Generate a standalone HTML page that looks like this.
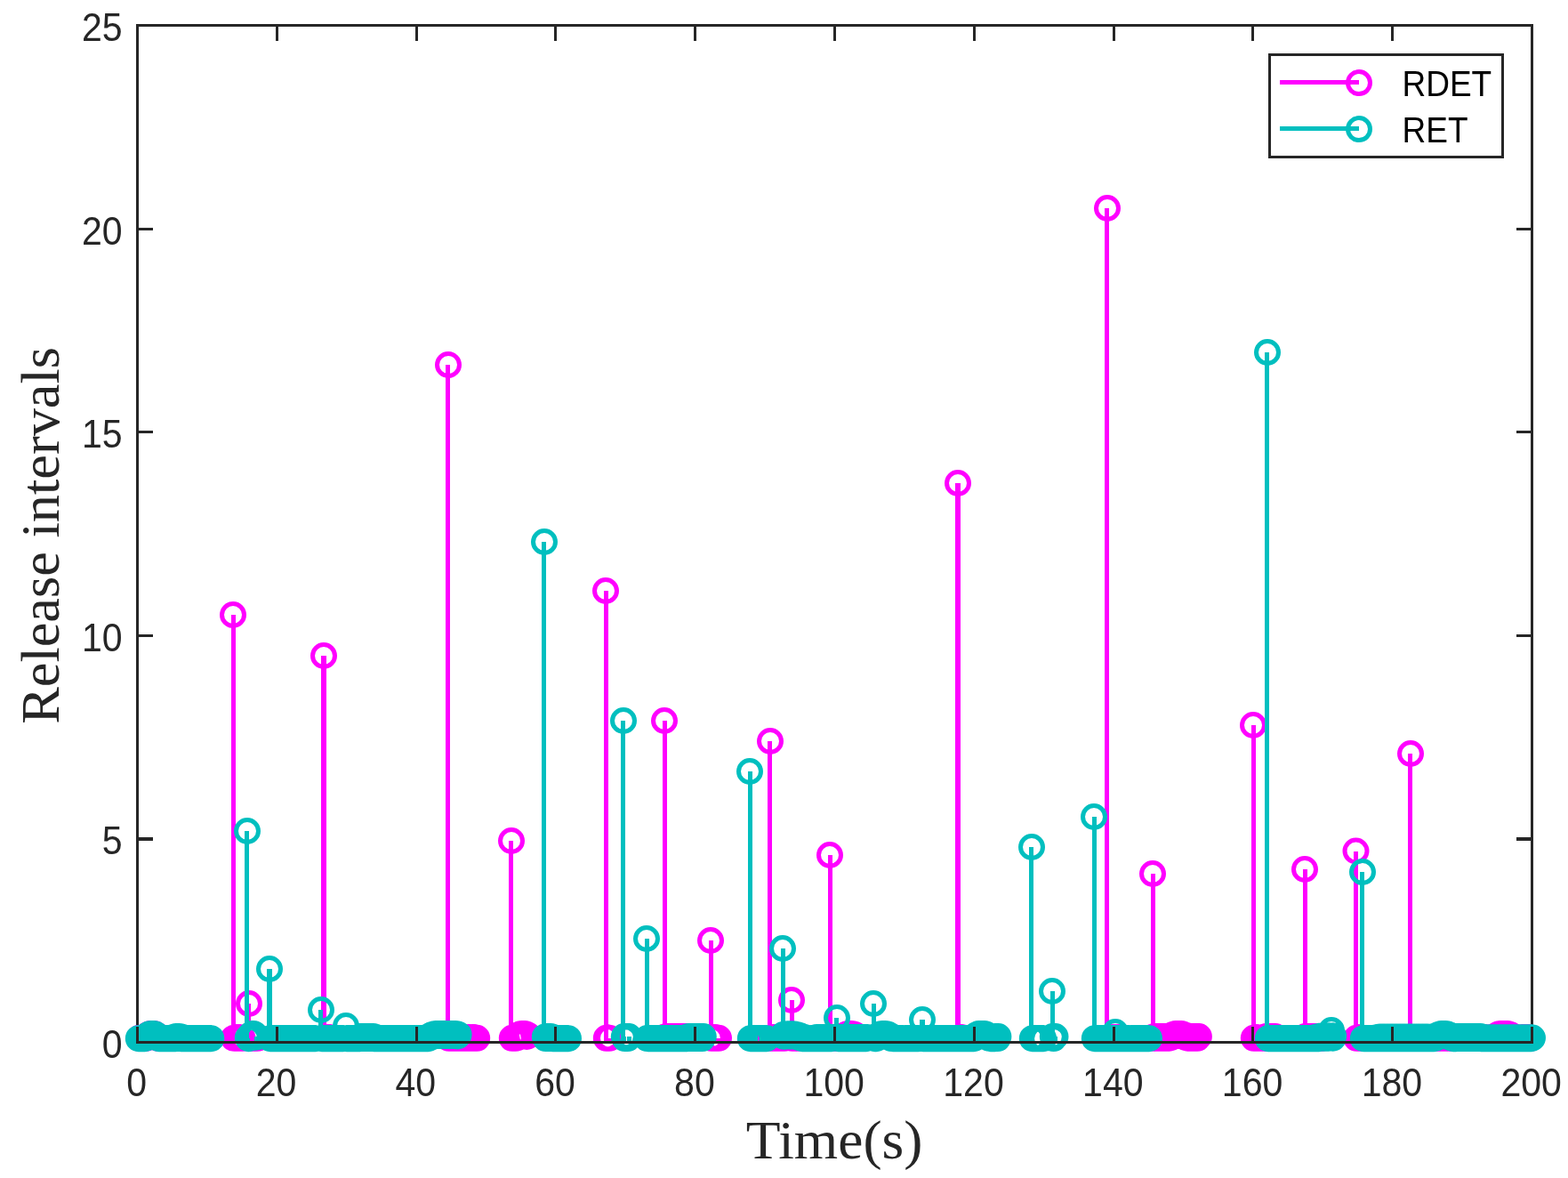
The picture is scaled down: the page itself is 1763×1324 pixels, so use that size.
<!DOCTYPE html>
<html lang="en">
<head>
<meta charset="utf-8">
<title>Release intervals</title>
<style>
html,body{margin:0;padding:0;background:#fff;}
body{width:1763px;height:1324px;overflow:hidden;}
svg{display:block;}
</style>
</head>
<body>
<svg width="1763" height="1324" viewBox="0 0 1763 1324">
<rect x="0" y="0" width="1763" height="1324" fill="#fff"/>
<g stroke="#262626" stroke-width="3" fill="none" shape-rendering="crispEdges"><rect x="154.5" y="28.4" width="1568.0" height="1143.1"/><path d="M154.5 28.4v17.5M311.3 28.4v17.5M468.1 28.4v17.5M624.9 28.4v17.5M781.7 28.4v17.5M938.5 28.4v17.5M1095.3 28.4v17.5M1252.1 28.4v17.5M1408.9 28.4v17.5M1565.7 28.4v17.5M1722.5 28.4v17.5M1722.5 1171.5h-17.5M1722.5 714.3h-17.5M1722.5 485.6h-17.5M1722.5 257h-17.5M1722.5 28.4h-17.5"/><path d="M1722.5 943h-17.5" stroke-width="4"/></g>
<g id="rdet"><path d="M156.5 1171.5V1167.2M179.5 1171.5V1166M262.5 1171.5V691M262.5 1171.5V1167.2M272.5 1171.5V1167.2M279.5 1171.5V1128M280.5 1171.5V1167.2M289.5 1171.5V1167.2M364.5 1171.5V1167.2M373.5 1171.5V1167.2M503.5 1171.5V410M504.5 1171.5V1167.2M536.5 1171.5V1167.2M574.5 1171.5V945M575.5 1171.5V1167.1M593.5 1171.5V1163.8M681.5 1171.5V664M681.5 1171.5V1167.2M685.5 1171.5V1167.2M747.5 1171.5V810M747.5 1171.5V1165.4M779.5 1171.5V1165M799.5 1171.5V1057M799.5 1171.5V1167.2M807.5 1171.5V1167.2M865.5 1171.5V833M866.5 1171.5V1167.2M881.5 1171.5V1167.2M890.5 1171.5V1124M890.5 1171.5V1167.2M896.5 1171.5V1167.2M933.5 1171.5V961M933.5 1171.5V1167.2M969.5 1171.5V1167.1M1077.5 1171.5V1167.2M1084.5 1171.5V1167.2M1244.5 1171.5V234M1245.5 1171.5V1167.2M1263.5 1171.5V1167.2M1296.5 1171.5V982M1296.5 1171.5V1165.4M1347.5 1171.5V1165M1409.5 1171.5V815M1409.5 1171.5V1167.2M1433.5 1171.5V1165M1467.5 1171.5V977M1467.5 1171.5V1165M1487.5 1171.5V1165M1524.5 1171.5V956.5M1525.5 1171.5V1167.2M1530.5 1171.5V1167.2M1585.5 1171.5V847M1586.5 1171.5V1167.2M1721.5 1171.5V1167.2" stroke="#ff00ff" stroke-width="5" fill="none" shape-rendering="crispEdges"/>
<path d="M364 1171.5V737M1077 1171.5V543" stroke="#ff00ff" stroke-width="6" fill="none" shape-rendering="crispEdges"/>
<path d="M144.3 1166.8a12.5 12.5 0 1 0 25 0a12.5 12.5 0 1 0 -25 0M145.1 1166.8a12.5 12.5 0 1 0 25 0a12.5 12.5 0 1 0 -25 0M145.9 1166.8a12.5 12.5 0 1 0 25 0a12.5 12.5 0 1 0 -25 0M146.7 1166.8a12.5 12.5 0 1 0 25 0a12.5 12.5 0 1 0 -25 0M147.4 1166.8a12.5 12.5 0 1 0 25 0a12.5 12.5 0 1 0 -25 0M148.2 1166.8a12.5 12.5 0 1 0 25 0a12.5 12.5 0 1 0 -25 0M149 1166.5a12.5 12.5 0 1 0 25 0a12.5 12.5 0 1 0 -25 0M149.8 1166.8a12.5 12.5 0 1 0 25 0a12.5 12.5 0 1 0 -25 0M150.6 1165.6a12.5 12.5 0 1 0 25 0a12.5 12.5 0 1 0 -25 0M151.4 1166.8a12.5 12.5 0 1 0 25 0a12.5 12.5 0 1 0 -25 0M152.1 1164.4a12.5 12.5 0 1 0 25 0a12.5 12.5 0 1 0 -25 0M152.9 1165.9a12.5 12.5 0 1 0 25 0a12.5 12.5 0 1 0 -25 0M153.7 1163.3a12.5 12.5 0 1 0 25 0a12.5 12.5 0 1 0 -25 0M154.5 1164.9a12.5 12.5 0 1 0 25 0a12.5 12.5 0 1 0 -25 0M155.3 1162.4a12.5 12.5 0 1 0 25 0a12.5 12.5 0 1 0 -25 0M156.1 1164.2a12.5 12.5 0 1 0 25 0a12.5 12.5 0 1 0 -25 0M156.8 1161.9a12.5 12.5 0 1 0 25 0a12.5 12.5 0 1 0 -25 0M157.6 1164a12.5 12.5 0 1 0 25 0a12.5 12.5 0 1 0 -25 0M158.4 1161.9a12.5 12.5 0 1 0 25 0a12.5 12.5 0 1 0 -25 0M159.2 1164a12.5 12.5 0 1 0 25 0a12.5 12.5 0 1 0 -25 0M160 1161.9a12.5 12.5 0 1 0 25 0a12.5 12.5 0 1 0 -25 0M160.8 1164.1a12.5 12.5 0 1 0 25 0a12.5 12.5 0 1 0 -25 0M161.5 1162.3a12.5 12.5 0 1 0 25 0a12.5 12.5 0 1 0 -25 0M162.3 1164.8a12.5 12.5 0 1 0 25 0a12.5 12.5 0 1 0 -25 0M163.1 1163.2a12.5 12.5 0 1 0 25 0a12.5 12.5 0 1 0 -25 0M163.9 1165.8a12.5 12.5 0 1 0 25 0a12.5 12.5 0 1 0 -25 0M164.7 1164.3a12.5 12.5 0 1 0 25 0a12.5 12.5 0 1 0 -25 0M165.5 1166.8a12.5 12.5 0 1 0 25 0a12.5 12.5 0 1 0 -25 0M166.3 1165.4a12.5 12.5 0 1 0 25 0a12.5 12.5 0 1 0 -25 0M167.1 1166a12.5 12.5 0 1 0 25 0a12.5 12.5 0 1 0 -25 0M249.5 691a12.5 12.5 0 1 0 25 0a12.5 12.5 0 1 0 -25 0M250.3 1166.8a12.5 12.5 0 1 0 25 0a12.5 12.5 0 1 0 -25 0M251.1 1166.8a12.5 12.5 0 1 0 25 0a12.5 12.5 0 1 0 -25 0M251.9 1166.8a12.5 12.5 0 1 0 25 0a12.5 12.5 0 1 0 -25 0M252.7 1166.8a12.5 12.5 0 1 0 25 0a12.5 12.5 0 1 0 -25 0M253.4 1166.8a12.5 12.5 0 1 0 25 0a12.5 12.5 0 1 0 -25 0M254.2 1166.8a12.5 12.5 0 1 0 25 0a12.5 12.5 0 1 0 -25 0M255 1166.8a12.5 12.5 0 1 0 25 0a12.5 12.5 0 1 0 -25 0M255.8 1166.8a12.5 12.5 0 1 0 25 0a12.5 12.5 0 1 0 -25 0M256.6 1166.8a12.5 12.5 0 1 0 25 0a12.5 12.5 0 1 0 -25 0M257.4 1166.8a12.5 12.5 0 1 0 25 0a12.5 12.5 0 1 0 -25 0M258.1 1166.8a12.5 12.5 0 1 0 25 0a12.5 12.5 0 1 0 -25 0M258.9 1166.8a12.5 12.5 0 1 0 25 0a12.5 12.5 0 1 0 -25 0M260 1166.8a12.5 12.5 0 1 0 25 0a12.5 12.5 0 1 0 -25 0M267.5 1128a12.5 12.5 0 1 0 25 0a12.5 12.5 0 1 0 -25 0M268.3 1166.8a12.5 12.5 0 1 0 25 0a12.5 12.5 0 1 0 -25 0M269.1 1166.8a12.5 12.5 0 1 0 25 0a12.5 12.5 0 1 0 -25 0M269.9 1166.8a12.5 12.5 0 1 0 25 0a12.5 12.5 0 1 0 -25 0M270.7 1166.8a12.5 12.5 0 1 0 25 0a12.5 12.5 0 1 0 -25 0M271.4 1166.8a12.5 12.5 0 1 0 25 0a12.5 12.5 0 1 0 -25 0M272.2 1166.8a12.5 12.5 0 1 0 25 0a12.5 12.5 0 1 0 -25 0M273 1166.8a12.5 12.5 0 1 0 25 0a12.5 12.5 0 1 0 -25 0M273.8 1166.8a12.5 12.5 0 1 0 25 0a12.5 12.5 0 1 0 -25 0M274.6 1166.8a12.5 12.5 0 1 0 25 0a12.5 12.5 0 1 0 -25 0M275.4 1166.8a12.5 12.5 0 1 0 25 0a12.5 12.5 0 1 0 -25 0M276.1 1166.8a12.5 12.5 0 1 0 25 0a12.5 12.5 0 1 0 -25 0M277 1166.8a12.5 12.5 0 1 0 25 0a12.5 12.5 0 1 0 -25 0M351.5 737a12.5 12.5 0 1 0 25 0a12.5 12.5 0 1 0 -25 0M352.3 1166.8a12.5 12.5 0 1 0 25 0a12.5 12.5 0 1 0 -25 0M353.1 1166.8a12.5 12.5 0 1 0 25 0a12.5 12.5 0 1 0 -25 0M353.9 1166.8a12.5 12.5 0 1 0 25 0a12.5 12.5 0 1 0 -25 0M354.7 1166.8a12.5 12.5 0 1 0 25 0a12.5 12.5 0 1 0 -25 0M355.4 1166.8a12.5 12.5 0 1 0 25 0a12.5 12.5 0 1 0 -25 0M356.2 1166.8a12.5 12.5 0 1 0 25 0a12.5 12.5 0 1 0 -25 0M357 1166.8a12.5 12.5 0 1 0 25 0a12.5 12.5 0 1 0 -25 0M357.8 1166.8a12.5 12.5 0 1 0 25 0a12.5 12.5 0 1 0 -25 0M358.6 1166.8a12.5 12.5 0 1 0 25 0a12.5 12.5 0 1 0 -25 0M359.4 1166.8a12.5 12.5 0 1 0 25 0a12.5 12.5 0 1 0 -25 0M360.1 1166.8a12.5 12.5 0 1 0 25 0a12.5 12.5 0 1 0 -25 0M360.9 1166.8a12.5 12.5 0 1 0 25 0a12.5 12.5 0 1 0 -25 0M491.5 410a12.5 12.5 0 1 0 25 0a12.5 12.5 0 1 0 -25 0M492.3 1166.8a12.5 12.5 0 1 0 25 0a12.5 12.5 0 1 0 -25 0M493.1 1166.8a12.5 12.5 0 1 0 25 0a12.5 12.5 0 1 0 -25 0M493.9 1166.8a12.5 12.5 0 1 0 25 0a12.5 12.5 0 1 0 -25 0M494.7 1166.8a12.5 12.5 0 1 0 25 0a12.5 12.5 0 1 0 -25 0M495.4 1166.8a12.5 12.5 0 1 0 25 0a12.5 12.5 0 1 0 -25 0M496.2 1166.8a12.5 12.5 0 1 0 25 0a12.5 12.5 0 1 0 -25 0M497 1166.8a12.5 12.5 0 1 0 25 0a12.5 12.5 0 1 0 -25 0M497.8 1166.8a12.5 12.5 0 1 0 25 0a12.5 12.5 0 1 0 -25 0M498.6 1166.8a12.5 12.5 0 1 0 25 0a12.5 12.5 0 1 0 -25 0M499.4 1166.8a12.5 12.5 0 1 0 25 0a12.5 12.5 0 1 0 -25 0M500.1 1166.8a12.5 12.5 0 1 0 25 0a12.5 12.5 0 1 0 -25 0M500.9 1166.8a12.5 12.5 0 1 0 25 0a12.5 12.5 0 1 0 -25 0M501.7 1166.8a12.5 12.5 0 1 0 25 0a12.5 12.5 0 1 0 -25 0M502.5 1166.8a12.5 12.5 0 1 0 25 0a12.5 12.5 0 1 0 -25 0M503.3 1166.8a12.5 12.5 0 1 0 25 0a12.5 12.5 0 1 0 -25 0M504.1 1166.8a12.5 12.5 0 1 0 25 0a12.5 12.5 0 1 0 -25 0M504.8 1166.8a12.5 12.5 0 1 0 25 0a12.5 12.5 0 1 0 -25 0M505.6 1166.8a12.5 12.5 0 1 0 25 0a12.5 12.5 0 1 0 -25 0M506.4 1166.8a12.5 12.5 0 1 0 25 0a12.5 12.5 0 1 0 -25 0M507.2 1166.8a12.5 12.5 0 1 0 25 0a12.5 12.5 0 1 0 -25 0M508 1166.8a12.5 12.5 0 1 0 25 0a12.5 12.5 0 1 0 -25 0M508.8 1166.8a12.5 12.5 0 1 0 25 0a12.5 12.5 0 1 0 -25 0M509.5 1166.8a12.5 12.5 0 1 0 25 0a12.5 12.5 0 1 0 -25 0M510.3 1166.8a12.5 12.5 0 1 0 25 0a12.5 12.5 0 1 0 -25 0M511.1 1166.8a12.5 12.5 0 1 0 25 0a12.5 12.5 0 1 0 -25 0M511.9 1166.8a12.5 12.5 0 1 0 25 0a12.5 12.5 0 1 0 -25 0M512.7 1166.8a12.5 12.5 0 1 0 25 0a12.5 12.5 0 1 0 -25 0M513.5 1166.8a12.5 12.5 0 1 0 25 0a12.5 12.5 0 1 0 -25 0M514.3 1166.8a12.5 12.5 0 1 0 25 0a12.5 12.5 0 1 0 -25 0M515 1166.8a12.5 12.5 0 1 0 25 0a12.5 12.5 0 1 0 -25 0M515.8 1166.8a12.5 12.5 0 1 0 25 0a12.5 12.5 0 1 0 -25 0M516.6 1166.8a12.5 12.5 0 1 0 25 0a12.5 12.5 0 1 0 -25 0M517.4 1166.8a12.5 12.5 0 1 0 25 0a12.5 12.5 0 1 0 -25 0M518.2 1166.8a12.5 12.5 0 1 0 25 0a12.5 12.5 0 1 0 -25 0M519 1166.8a12.5 12.5 0 1 0 25 0a12.5 12.5 0 1 0 -25 0M519.7 1166.8a12.5 12.5 0 1 0 25 0a12.5 12.5 0 1 0 -25 0M520.5 1166.8a12.5 12.5 0 1 0 25 0a12.5 12.5 0 1 0 -25 0M521.3 1166.8a12.5 12.5 0 1 0 25 0a12.5 12.5 0 1 0 -25 0M522.1 1166.8a12.5 12.5 0 1 0 25 0a12.5 12.5 0 1 0 -25 0M522.9 1166.8a12.5 12.5 0 1 0 25 0a12.5 12.5 0 1 0 -25 0M523.7 1166.8a12.5 12.5 0 1 0 25 0a12.5 12.5 0 1 0 -25 0M562.5 945a12.5 12.5 0 1 0 25 0a12.5 12.5 0 1 0 -25 0M563.3 1166.8a12.5 12.5 0 1 0 25 0a12.5 12.5 0 1 0 -25 0M564.1 1166.8a12.5 12.5 0 1 0 25 0a12.5 12.5 0 1 0 -25 0M564.9 1166.7a12.5 12.5 0 1 0 25 0a12.5 12.5 0 1 0 -25 0M565.7 1166.8a12.5 12.5 0 1 0 25 0a12.5 12.5 0 1 0 -25 0M566.4 1165.9a12.5 12.5 0 1 0 25 0a12.5 12.5 0 1 0 -25 0M567.2 1166.8a12.5 12.5 0 1 0 25 0a12.5 12.5 0 1 0 -25 0M568 1164.9a12.5 12.5 0 1 0 25 0a12.5 12.5 0 1 0 -25 0M568.8 1166.4a12.5 12.5 0 1 0 25 0a12.5 12.5 0 1 0 -25 0M569.6 1163.8a12.5 12.5 0 1 0 25 0a12.5 12.5 0 1 0 -25 0M570.4 1165.4a12.5 12.5 0 1 0 25 0a12.5 12.5 0 1 0 -25 0M571.1 1162.9a12.5 12.5 0 1 0 25 0a12.5 12.5 0 1 0 -25 0M571.9 1164.5a12.5 12.5 0 1 0 25 0a12.5 12.5 0 1 0 -25 0M572.7 1162.2a12.5 12.5 0 1 0 25 0a12.5 12.5 0 1 0 -25 0M573.5 1164a12.5 12.5 0 1 0 25 0a12.5 12.5 0 1 0 -25 0M574.3 1161.9a12.5 12.5 0 1 0 25 0a12.5 12.5 0 1 0 -25 0M575.1 1164a12.5 12.5 0 1 0 25 0a12.5 12.5 0 1 0 -25 0M575.8 1161.9a12.5 12.5 0 1 0 25 0a12.5 12.5 0 1 0 -25 0M576.6 1164a12.5 12.5 0 1 0 25 0a12.5 12.5 0 1 0 -25 0M577.4 1162a12.5 12.5 0 1 0 25 0a12.5 12.5 0 1 0 -25 0M578.2 1164.2a12.5 12.5 0 1 0 25 0a12.5 12.5 0 1 0 -25 0M579 1162.4a12.5 12.5 0 1 0 25 0a12.5 12.5 0 1 0 -25 0M579.8 1164.9a12.5 12.5 0 1 0 25 0a12.5 12.5 0 1 0 -25 0M580.5 1163.2a12.5 12.5 0 1 0 25 0a12.5 12.5 0 1 0 -25 0M581.5 1163.8a12.5 12.5 0 1 0 25 0a12.5 12.5 0 1 0 -25 0M668.5 664a12.5 12.5 0 1 0 25 0a12.5 12.5 0 1 0 -25 0M669.3 1166.8a12.5 12.5 0 1 0 25 0a12.5 12.5 0 1 0 -25 0M670.1 1166.8a12.5 12.5 0 1 0 25 0a12.5 12.5 0 1 0 -25 0M670.9 1166.8a12.5 12.5 0 1 0 25 0a12.5 12.5 0 1 0 -25 0M671.7 1166.8a12.5 12.5 0 1 0 25 0a12.5 12.5 0 1 0 -25 0M672.5 1166.8a12.5 12.5 0 1 0 25 0a12.5 12.5 0 1 0 -25 0M734.5 810a12.5 12.5 0 1 0 25 0a12.5 12.5 0 1 0 -25 0M735.3 1165.4a12.5 12.5 0 1 0 25 0a12.5 12.5 0 1 0 -25 0M736.1 1166.8a12.5 12.5 0 1 0 25 0a12.5 12.5 0 1 0 -25 0M736.9 1165a12.5 12.5 0 1 0 25 0a12.5 12.5 0 1 0 -25 0M737.7 1166.8a12.5 12.5 0 1 0 25 0a12.5 12.5 0 1 0 -25 0M738.4 1165a12.5 12.5 0 1 0 25 0a12.5 12.5 0 1 0 -25 0M739.2 1166.8a12.5 12.5 0 1 0 25 0a12.5 12.5 0 1 0 -25 0M740 1165a12.5 12.5 0 1 0 25 0a12.5 12.5 0 1 0 -25 0M740.8 1166.8a12.5 12.5 0 1 0 25 0a12.5 12.5 0 1 0 -25 0M741.6 1165a12.5 12.5 0 1 0 25 0a12.5 12.5 0 1 0 -25 0M742.4 1166.8a12.5 12.5 0 1 0 25 0a12.5 12.5 0 1 0 -25 0M743.1 1165a12.5 12.5 0 1 0 25 0a12.5 12.5 0 1 0 -25 0M743.9 1166.8a12.5 12.5 0 1 0 25 0a12.5 12.5 0 1 0 -25 0M744.7 1165a12.5 12.5 0 1 0 25 0a12.5 12.5 0 1 0 -25 0M745.5 1166.8a12.5 12.5 0 1 0 25 0a12.5 12.5 0 1 0 -25 0M746.3 1165a12.5 12.5 0 1 0 25 0a12.5 12.5 0 1 0 -25 0M747.1 1166.8a12.5 12.5 0 1 0 25 0a12.5 12.5 0 1 0 -25 0M747.8 1165a12.5 12.5 0 1 0 25 0a12.5 12.5 0 1 0 -25 0M748.6 1166.8a12.5 12.5 0 1 0 25 0a12.5 12.5 0 1 0 -25 0M749.4 1165a12.5 12.5 0 1 0 25 0a12.5 12.5 0 1 0 -25 0M750.2 1166.8a12.5 12.5 0 1 0 25 0a12.5 12.5 0 1 0 -25 0M751 1165a12.5 12.5 0 1 0 25 0a12.5 12.5 0 1 0 -25 0M751.8 1166.8a12.5 12.5 0 1 0 25 0a12.5 12.5 0 1 0 -25 0M752.5 1165a12.5 12.5 0 1 0 25 0a12.5 12.5 0 1 0 -25 0M753.3 1166.8a12.5 12.5 0 1 0 25 0a12.5 12.5 0 1 0 -25 0M754.1 1165a12.5 12.5 0 1 0 25 0a12.5 12.5 0 1 0 -25 0M754.9 1166.8a12.5 12.5 0 1 0 25 0a12.5 12.5 0 1 0 -25 0M755.7 1165a12.5 12.5 0 1 0 25 0a12.5 12.5 0 1 0 -25 0M756.5 1166.8a12.5 12.5 0 1 0 25 0a12.5 12.5 0 1 0 -25 0M757.3 1165a12.5 12.5 0 1 0 25 0a12.5 12.5 0 1 0 -25 0M758 1166.8a12.5 12.5 0 1 0 25 0a12.5 12.5 0 1 0 -25 0M758.8 1165a12.5 12.5 0 1 0 25 0a12.5 12.5 0 1 0 -25 0M759.6 1166.8a12.5 12.5 0 1 0 25 0a12.5 12.5 0 1 0 -25 0M760.4 1165a12.5 12.5 0 1 0 25 0a12.5 12.5 0 1 0 -25 0M761.2 1166.8a12.5 12.5 0 1 0 25 0a12.5 12.5 0 1 0 -25 0M762 1165a12.5 12.5 0 1 0 25 0a12.5 12.5 0 1 0 -25 0M762.7 1166.8a12.5 12.5 0 1 0 25 0a12.5 12.5 0 1 0 -25 0M763.5 1165a12.5 12.5 0 1 0 25 0a12.5 12.5 0 1 0 -25 0M764.3 1166.8a12.5 12.5 0 1 0 25 0a12.5 12.5 0 1 0 -25 0M765.1 1165a12.5 12.5 0 1 0 25 0a12.5 12.5 0 1 0 -25 0M765.9 1166.8a12.5 12.5 0 1 0 25 0a12.5 12.5 0 1 0 -25 0M766.9 1165a12.5 12.5 0 1 0 25 0a12.5 12.5 0 1 0 -25 0M786.5 1057a12.5 12.5 0 1 0 25 0a12.5 12.5 0 1 0 -25 0M787.3 1166.8a12.5 12.5 0 1 0 25 0a12.5 12.5 0 1 0 -25 0M788.1 1166.8a12.5 12.5 0 1 0 25 0a12.5 12.5 0 1 0 -25 0M788.9 1166.8a12.5 12.5 0 1 0 25 0a12.5 12.5 0 1 0 -25 0M789.7 1166.8a12.5 12.5 0 1 0 25 0a12.5 12.5 0 1 0 -25 0M790.4 1166.8a12.5 12.5 0 1 0 25 0a12.5 12.5 0 1 0 -25 0M791.2 1166.8a12.5 12.5 0 1 0 25 0a12.5 12.5 0 1 0 -25 0M792 1166.8a12.5 12.5 0 1 0 25 0a12.5 12.5 0 1 0 -25 0M792.8 1166.8a12.5 12.5 0 1 0 25 0a12.5 12.5 0 1 0 -25 0M793.6 1166.8a12.5 12.5 0 1 0 25 0a12.5 12.5 0 1 0 -25 0M794.4 1166.8a12.5 12.5 0 1 0 25 0a12.5 12.5 0 1 0 -25 0M795.5 1166.8a12.5 12.5 0 1 0 25 0a12.5 12.5 0 1 0 -25 0M853.5 833a12.5 12.5 0 1 0 25 0a12.5 12.5 0 1 0 -25 0M854.3 1166.8a12.5 12.5 0 1 0 25 0a12.5 12.5 0 1 0 -25 0M855.1 1166.8a12.5 12.5 0 1 0 25 0a12.5 12.5 0 1 0 -25 0M855.9 1166.8a12.5 12.5 0 1 0 25 0a12.5 12.5 0 1 0 -25 0M856.7 1166.8a12.5 12.5 0 1 0 25 0a12.5 12.5 0 1 0 -25 0M857.4 1166.8a12.5 12.5 0 1 0 25 0a12.5 12.5 0 1 0 -25 0M858.2 1166.8a12.5 12.5 0 1 0 25 0a12.5 12.5 0 1 0 -25 0M859 1166.8a12.5 12.5 0 1 0 25 0a12.5 12.5 0 1 0 -25 0M859.8 1166.8a12.5 12.5 0 1 0 25 0a12.5 12.5 0 1 0 -25 0M860.6 1166.8a12.5 12.5 0 1 0 25 0a12.5 12.5 0 1 0 -25 0M861.4 1166.8a12.5 12.5 0 1 0 25 0a12.5 12.5 0 1 0 -25 0M862.1 1166.8a12.5 12.5 0 1 0 25 0a12.5 12.5 0 1 0 -25 0M862.9 1166.8a12.5 12.5 0 1 0 25 0a12.5 12.5 0 1 0 -25 0M863.7 1166.8a12.5 12.5 0 1 0 25 0a12.5 12.5 0 1 0 -25 0M864.5 1166.8a12.5 12.5 0 1 0 25 0a12.5 12.5 0 1 0 -25 0M865.3 1166.8a12.5 12.5 0 1 0 25 0a12.5 12.5 0 1 0 -25 0M866.1 1166.8a12.5 12.5 0 1 0 25 0a12.5 12.5 0 1 0 -25 0M866.8 1166.8a12.5 12.5 0 1 0 25 0a12.5 12.5 0 1 0 -25 0M867.6 1166.8a12.5 12.5 0 1 0 25 0a12.5 12.5 0 1 0 -25 0M868.4 1166.8a12.5 12.5 0 1 0 25 0a12.5 12.5 0 1 0 -25 0M869.4 1166.8a12.5 12.5 0 1 0 25 0a12.5 12.5 0 1 0 -25 0M877.5 1124a12.5 12.5 0 1 0 25 0a12.5 12.5 0 1 0 -25 0M878.3 1166.8a12.5 12.5 0 1 0 25 0a12.5 12.5 0 1 0 -25 0M879.1 1166.8a12.5 12.5 0 1 0 25 0a12.5 12.5 0 1 0 -25 0M879.9 1166.8a12.5 12.5 0 1 0 25 0a12.5 12.5 0 1 0 -25 0M880.7 1166.8a12.5 12.5 0 1 0 25 0a12.5 12.5 0 1 0 -25 0M881.4 1166.8a12.5 12.5 0 1 0 25 0a12.5 12.5 0 1 0 -25 0M882.2 1166.8a12.5 12.5 0 1 0 25 0a12.5 12.5 0 1 0 -25 0M883 1166.8a12.5 12.5 0 1 0 25 0a12.5 12.5 0 1 0 -25 0M883.8 1166.8a12.5 12.5 0 1 0 25 0a12.5 12.5 0 1 0 -25 0M884.4 1166.8a12.5 12.5 0 1 0 25 0a12.5 12.5 0 1 0 -25 0M920.5 961a12.5 12.5 0 1 0 25 0a12.5 12.5 0 1 0 -25 0M921.3 1166.8a12.5 12.5 0 1 0 25 0a12.5 12.5 0 1 0 -25 0M922.1 1166.8a12.5 12.5 0 1 0 25 0a12.5 12.5 0 1 0 -25 0M922.9 1166.8a12.5 12.5 0 1 0 25 0a12.5 12.5 0 1 0 -25 0M923.7 1166.8a12.5 12.5 0 1 0 25 0a12.5 12.5 0 1 0 -25 0M924.4 1166.8a12.5 12.5 0 1 0 25 0a12.5 12.5 0 1 0 -25 0M925.2 1166.8a12.5 12.5 0 1 0 25 0a12.5 12.5 0 1 0 -25 0M926 1166.8a12.5 12.5 0 1 0 25 0a12.5 12.5 0 1 0 -25 0M926.8 1166.8a12.5 12.5 0 1 0 25 0a12.5 12.5 0 1 0 -25 0M927.6 1166.8a12.5 12.5 0 1 0 25 0a12.5 12.5 0 1 0 -25 0M928.4 1166.8a12.5 12.5 0 1 0 25 0a12.5 12.5 0 1 0 -25 0M929.1 1166.8a12.5 12.5 0 1 0 25 0a12.5 12.5 0 1 0 -25 0M929.9 1166.8a12.5 12.5 0 1 0 25 0a12.5 12.5 0 1 0 -25 0M930.7 1166.8a12.5 12.5 0 1 0 25 0a12.5 12.5 0 1 0 -25 0M931.5 1166.8a12.5 12.5 0 1 0 25 0a12.5 12.5 0 1 0 -25 0M932.3 1166.6a12.5 12.5 0 1 0 25 0a12.5 12.5 0 1 0 -25 0M933.1 1166.8a12.5 12.5 0 1 0 25 0a12.5 12.5 0 1 0 -25 0M933.8 1165.8a12.5 12.5 0 1 0 25 0a12.5 12.5 0 1 0 -25 0M934.6 1166.8a12.5 12.5 0 1 0 25 0a12.5 12.5 0 1 0 -25 0M935.4 1164.9a12.5 12.5 0 1 0 25 0a12.5 12.5 0 1 0 -25 0M936.2 1166.5a12.5 12.5 0 1 0 25 0a12.5 12.5 0 1 0 -25 0M937 1163.9a12.5 12.5 0 1 0 25 0a12.5 12.5 0 1 0 -25 0M937.8 1165.5a12.5 12.5 0 1 0 25 0a12.5 12.5 0 1 0 -25 0M938.5 1163a12.5 12.5 0 1 0 25 0a12.5 12.5 0 1 0 -25 0M939.3 1164.7a12.5 12.5 0 1 0 25 0a12.5 12.5 0 1 0 -25 0M940.1 1162.3a12.5 12.5 0 1 0 25 0a12.5 12.5 0 1 0 -25 0M940.9 1164.1a12.5 12.5 0 1 0 25 0a12.5 12.5 0 1 0 -25 0M941.7 1161.9a12.5 12.5 0 1 0 25 0a12.5 12.5 0 1 0 -25 0M942.5 1164a12.5 12.5 0 1 0 25 0a12.5 12.5 0 1 0 -25 0M943.3 1161.9a12.5 12.5 0 1 0 25 0a12.5 12.5 0 1 0 -25 0M944 1164a12.5 12.5 0 1 0 25 0a12.5 12.5 0 1 0 -25 0M944.8 1161.9a12.5 12.5 0 1 0 25 0a12.5 12.5 0 1 0 -25 0M945.6 1164a12.5 12.5 0 1 0 25 0a12.5 12.5 0 1 0 -25 0M946.4 1162.2a12.5 12.5 0 1 0 25 0a12.5 12.5 0 1 0 -25 0M947.2 1164.5a12.5 12.5 0 1 0 25 0a12.5 12.5 0 1 0 -25 0M948 1162.8a12.5 12.5 0 1 0 25 0a12.5 12.5 0 1 0 -25 0M948.7 1165.2a12.5 12.5 0 1 0 25 0a12.5 12.5 0 1 0 -25 0M949.5 1163.6a12.5 12.5 0 1 0 25 0a12.5 12.5 0 1 0 -25 0M950.3 1166.1a12.5 12.5 0 1 0 25 0a12.5 12.5 0 1 0 -25 0M951.1 1164.6a12.5 12.5 0 1 0 25 0a12.5 12.5 0 1 0 -25 0M951.9 1166.8a12.5 12.5 0 1 0 25 0a12.5 12.5 0 1 0 -25 0M952.7 1165.6a12.5 12.5 0 1 0 25 0a12.5 12.5 0 1 0 -25 0M953.4 1166.8a12.5 12.5 0 1 0 25 0a12.5 12.5 0 1 0 -25 0M954.2 1166.4a12.5 12.5 0 1 0 25 0a12.5 12.5 0 1 0 -25 0M955 1166.8a12.5 12.5 0 1 0 25 0a12.5 12.5 0 1 0 -25 0M955.8 1166.8a12.5 12.5 0 1 0 25 0a12.5 12.5 0 1 0 -25 0M956.7 1166.8a12.5 12.5 0 1 0 25 0a12.5 12.5 0 1 0 -25 0M1064.5 543a12.5 12.5 0 1 0 25 0a12.5 12.5 0 1 0 -25 0M1065.3 1166.8a12.5 12.5 0 1 0 25 0a12.5 12.5 0 1 0 -25 0M1066.1 1166.8a12.5 12.5 0 1 0 25 0a12.5 12.5 0 1 0 -25 0M1066.9 1166.8a12.5 12.5 0 1 0 25 0a12.5 12.5 0 1 0 -25 0M1067.7 1166.8a12.5 12.5 0 1 0 25 0a12.5 12.5 0 1 0 -25 0M1068.4 1166.8a12.5 12.5 0 1 0 25 0a12.5 12.5 0 1 0 -25 0M1069.2 1166.8a12.5 12.5 0 1 0 25 0a12.5 12.5 0 1 0 -25 0M1070 1166.8a12.5 12.5 0 1 0 25 0a12.5 12.5 0 1 0 -25 0M1070.8 1166.8a12.5 12.5 0 1 0 25 0a12.5 12.5 0 1 0 -25 0M1071.8 1166.8a12.5 12.5 0 1 0 25 0a12.5 12.5 0 1 0 -25 0M1232.5 234a12.5 12.5 0 1 0 25 0a12.5 12.5 0 1 0 -25 0M1233.3 1166.8a12.5 12.5 0 1 0 25 0a12.5 12.5 0 1 0 -25 0M1234.1 1166.8a12.5 12.5 0 1 0 25 0a12.5 12.5 0 1 0 -25 0M1234.9 1166.8a12.5 12.5 0 1 0 25 0a12.5 12.5 0 1 0 -25 0M1235.7 1166.8a12.5 12.5 0 1 0 25 0a12.5 12.5 0 1 0 -25 0M1236.4 1166.8a12.5 12.5 0 1 0 25 0a12.5 12.5 0 1 0 -25 0M1237.2 1166.8a12.5 12.5 0 1 0 25 0a12.5 12.5 0 1 0 -25 0M1238 1166.8a12.5 12.5 0 1 0 25 0a12.5 12.5 0 1 0 -25 0M1238.8 1166.8a12.5 12.5 0 1 0 25 0a12.5 12.5 0 1 0 -25 0M1239.6 1166.8a12.5 12.5 0 1 0 25 0a12.5 12.5 0 1 0 -25 0M1240.4 1166.8a12.5 12.5 0 1 0 25 0a12.5 12.5 0 1 0 -25 0M1241.1 1166.8a12.5 12.5 0 1 0 25 0a12.5 12.5 0 1 0 -25 0M1241.9 1166.8a12.5 12.5 0 1 0 25 0a12.5 12.5 0 1 0 -25 0M1242.7 1166.8a12.5 12.5 0 1 0 25 0a12.5 12.5 0 1 0 -25 0M1243.5 1166.8a12.5 12.5 0 1 0 25 0a12.5 12.5 0 1 0 -25 0M1244.3 1166.8a12.5 12.5 0 1 0 25 0a12.5 12.5 0 1 0 -25 0M1245.1 1166.8a12.5 12.5 0 1 0 25 0a12.5 12.5 0 1 0 -25 0M1245.8 1166.8a12.5 12.5 0 1 0 25 0a12.5 12.5 0 1 0 -25 0M1246.6 1166.8a12.5 12.5 0 1 0 25 0a12.5 12.5 0 1 0 -25 0M1247.4 1166.8a12.5 12.5 0 1 0 25 0a12.5 12.5 0 1 0 -25 0M1248.2 1166.8a12.5 12.5 0 1 0 25 0a12.5 12.5 0 1 0 -25 0M1249 1166.8a12.5 12.5 0 1 0 25 0a12.5 12.5 0 1 0 -25 0M1249.8 1166.8a12.5 12.5 0 1 0 25 0a12.5 12.5 0 1 0 -25 0M1250.5 1166.8a12.5 12.5 0 1 0 25 0a12.5 12.5 0 1 0 -25 0M1251 1166.8a12.5 12.5 0 1 0 25 0a12.5 12.5 0 1 0 -25 0M1283.5 982a12.5 12.5 0 1 0 25 0a12.5 12.5 0 1 0 -25 0M1284.3 1165.4a12.5 12.5 0 1 0 25 0a12.5 12.5 0 1 0 -25 0M1285.1 1166.8a12.5 12.5 0 1 0 25 0a12.5 12.5 0 1 0 -25 0M1285.9 1165a12.5 12.5 0 1 0 25 0a12.5 12.5 0 1 0 -25 0M1286.7 1166.8a12.5 12.5 0 1 0 25 0a12.5 12.5 0 1 0 -25 0M1287.4 1165a12.5 12.5 0 1 0 25 0a12.5 12.5 0 1 0 -25 0M1288.2 1166.8a12.5 12.5 0 1 0 25 0a12.5 12.5 0 1 0 -25 0M1289 1165a12.5 12.5 0 1 0 25 0a12.5 12.5 0 1 0 -25 0M1289.8 1166.8a12.5 12.5 0 1 0 25 0a12.5 12.5 0 1 0 -25 0M1290.6 1165a12.5 12.5 0 1 0 25 0a12.5 12.5 0 1 0 -25 0M1291.4 1166.8a12.5 12.5 0 1 0 25 0a12.5 12.5 0 1 0 -25 0M1292.1 1165a12.5 12.5 0 1 0 25 0a12.5 12.5 0 1 0 -25 0M1292.9 1166.8a12.5 12.5 0 1 0 25 0a12.5 12.5 0 1 0 -25 0M1293.7 1165a12.5 12.5 0 1 0 25 0a12.5 12.5 0 1 0 -25 0M1294.5 1166.8a12.5 12.5 0 1 0 25 0a12.5 12.5 0 1 0 -25 0M1295.3 1165a12.5 12.5 0 1 0 25 0a12.5 12.5 0 1 0 -25 0M1296.1 1166.8a12.5 12.5 0 1 0 25 0a12.5 12.5 0 1 0 -25 0M1296.8 1165a12.5 12.5 0 1 0 25 0a12.5 12.5 0 1 0 -25 0M1297.6 1166.8a12.5 12.5 0 1 0 25 0a12.5 12.5 0 1 0 -25 0M1298.4 1165a12.5 12.5 0 1 0 25 0a12.5 12.5 0 1 0 -25 0M1299.2 1166.8a12.5 12.5 0 1 0 25 0a12.5 12.5 0 1 0 -25 0M1300 1165a12.5 12.5 0 1 0 25 0a12.5 12.5 0 1 0 -25 0M1300.8 1166.8a12.5 12.5 0 1 0 25 0a12.5 12.5 0 1 0 -25 0M1301.5 1164.8a12.5 12.5 0 1 0 25 0a12.5 12.5 0 1 0 -25 0M1302.3 1166.7a12.5 12.5 0 1 0 25 0a12.5 12.5 0 1 0 -25 0M1303.1 1164.4a12.5 12.5 0 1 0 25 0a12.5 12.5 0 1 0 -25 0M1303.9 1166.1a12.5 12.5 0 1 0 25 0a12.5 12.5 0 1 0 -25 0M1304.7 1163.8a12.5 12.5 0 1 0 25 0a12.5 12.5 0 1 0 -25 0M1305.5 1165.5a12.5 12.5 0 1 0 25 0a12.5 12.5 0 1 0 -25 0M1306.3 1163.1a12.5 12.5 0 1 0 25 0a12.5 12.5 0 1 0 -25 0M1307 1164.9a12.5 12.5 0 1 0 25 0a12.5 12.5 0 1 0 -25 0M1307.8 1162.6a12.5 12.5 0 1 0 25 0a12.5 12.5 0 1 0 -25 0M1308.6 1164.4a12.5 12.5 0 1 0 25 0a12.5 12.5 0 1 0 -25 0M1309.4 1162.1a12.5 12.5 0 1 0 25 0a12.5 12.5 0 1 0 -25 0M1310.2 1164a12.5 12.5 0 1 0 25 0a12.5 12.5 0 1 0 -25 0M1311 1161.9a12.5 12.5 0 1 0 25 0a12.5 12.5 0 1 0 -25 0M1311.7 1164a12.5 12.5 0 1 0 25 0a12.5 12.5 0 1 0 -25 0M1312.5 1161.9a12.5 12.5 0 1 0 25 0a12.5 12.5 0 1 0 -25 0M1313.3 1164a12.5 12.5 0 1 0 25 0a12.5 12.5 0 1 0 -25 0M1314.1 1161.9a12.5 12.5 0 1 0 25 0a12.5 12.5 0 1 0 -25 0M1314.9 1164.1a12.5 12.5 0 1 0 25 0a12.5 12.5 0 1 0 -25 0M1315.7 1162.1a12.5 12.5 0 1 0 25 0a12.5 12.5 0 1 0 -25 0M1316.4 1164.4a12.5 12.5 0 1 0 25 0a12.5 12.5 0 1 0 -25 0M1317.2 1162.6a12.5 12.5 0 1 0 25 0a12.5 12.5 0 1 0 -25 0M1318 1164.9a12.5 12.5 0 1 0 25 0a12.5 12.5 0 1 0 -25 0M1318.8 1163.2a12.5 12.5 0 1 0 25 0a12.5 12.5 0 1 0 -25 0M1319.6 1165.5a12.5 12.5 0 1 0 25 0a12.5 12.5 0 1 0 -25 0M1320.4 1163.8a12.5 12.5 0 1 0 25 0a12.5 12.5 0 1 0 -25 0M1321.1 1166.2a12.5 12.5 0 1 0 25 0a12.5 12.5 0 1 0 -25 0M1321.9 1164.4a12.5 12.5 0 1 0 25 0a12.5 12.5 0 1 0 -25 0M1322.7 1166.7a12.5 12.5 0 1 0 25 0a12.5 12.5 0 1 0 -25 0M1323.5 1164.8a12.5 12.5 0 1 0 25 0a12.5 12.5 0 1 0 -25 0M1324.3 1166.8a12.5 12.5 0 1 0 25 0a12.5 12.5 0 1 0 -25 0M1325.1 1165a12.5 12.5 0 1 0 25 0a12.5 12.5 0 1 0 -25 0M1325.9 1166.8a12.5 12.5 0 1 0 25 0a12.5 12.5 0 1 0 -25 0M1326.6 1165a12.5 12.5 0 1 0 25 0a12.5 12.5 0 1 0 -25 0M1327.4 1166.8a12.5 12.5 0 1 0 25 0a12.5 12.5 0 1 0 -25 0M1328.2 1165a12.5 12.5 0 1 0 25 0a12.5 12.5 0 1 0 -25 0M1329 1166.8a12.5 12.5 0 1 0 25 0a12.5 12.5 0 1 0 -25 0M1329.8 1165a12.5 12.5 0 1 0 25 0a12.5 12.5 0 1 0 -25 0M1330.6 1166.8a12.5 12.5 0 1 0 25 0a12.5 12.5 0 1 0 -25 0M1331.3 1165a12.5 12.5 0 1 0 25 0a12.5 12.5 0 1 0 -25 0M1332.1 1166.8a12.5 12.5 0 1 0 25 0a12.5 12.5 0 1 0 -25 0M1332.9 1165a12.5 12.5 0 1 0 25 0a12.5 12.5 0 1 0 -25 0M1333.7 1166.8a12.5 12.5 0 1 0 25 0a12.5 12.5 0 1 0 -25 0M1334.5 1165a12.5 12.5 0 1 0 25 0a12.5 12.5 0 1 0 -25 0M1335.4 1165a12.5 12.5 0 1 0 25 0a12.5 12.5 0 1 0 -25 0M1396.5 815a12.5 12.5 0 1 0 25 0a12.5 12.5 0 1 0 -25 0M1397.3 1166.8a12.5 12.5 0 1 0 25 0a12.5 12.5 0 1 0 -25 0M1398.1 1166.8a12.5 12.5 0 1 0 25 0a12.5 12.5 0 1 0 -25 0M1398.9 1166.8a12.5 12.5 0 1 0 25 0a12.5 12.5 0 1 0 -25 0M1399.7 1166.8a12.5 12.5 0 1 0 25 0a12.5 12.5 0 1 0 -25 0M1400.4 1166.8a12.5 12.5 0 1 0 25 0a12.5 12.5 0 1 0 -25 0M1401.2 1166.8a12.5 12.5 0 1 0 25 0a12.5 12.5 0 1 0 -25 0M1402 1166.8a12.5 12.5 0 1 0 25 0a12.5 12.5 0 1 0 -25 0M1402.8 1166.8a12.5 12.5 0 1 0 25 0a12.5 12.5 0 1 0 -25 0M1403.6 1166.8a12.5 12.5 0 1 0 25 0a12.5 12.5 0 1 0 -25 0M1404.4 1166.8a12.5 12.5 0 1 0 25 0a12.5 12.5 0 1 0 -25 0M1405.1 1166.8a12.5 12.5 0 1 0 25 0a12.5 12.5 0 1 0 -25 0M1405.9 1166.8a12.5 12.5 0 1 0 25 0a12.5 12.5 0 1 0 -25 0M1406.7 1166.8a12.5 12.5 0 1 0 25 0a12.5 12.5 0 1 0 -25 0M1407.5 1166.8a12.5 12.5 0 1 0 25 0a12.5 12.5 0 1 0 -25 0M1408.3 1166.7a12.5 12.5 0 1 0 25 0a12.5 12.5 0 1 0 -25 0M1409.1 1166.8a12.5 12.5 0 1 0 25 0a12.5 12.5 0 1 0 -25 0M1409.8 1165.9a12.5 12.5 0 1 0 25 0a12.5 12.5 0 1 0 -25 0M1410.6 1166.8a12.5 12.5 0 1 0 25 0a12.5 12.5 0 1 0 -25 0M1411.4 1165.1a12.5 12.5 0 1 0 25 0a12.5 12.5 0 1 0 -25 0M1412.2 1166.8a12.5 12.5 0 1 0 25 0a12.5 12.5 0 1 0 -25 0M1413 1165a12.5 12.5 0 1 0 25 0a12.5 12.5 0 1 0 -25 0M1413.8 1166.8a12.5 12.5 0 1 0 25 0a12.5 12.5 0 1 0 -25 0M1414.5 1165a12.5 12.5 0 1 0 25 0a12.5 12.5 0 1 0 -25 0M1415.3 1166.8a12.5 12.5 0 1 0 25 0a12.5 12.5 0 1 0 -25 0M1416.1 1165a12.5 12.5 0 1 0 25 0a12.5 12.5 0 1 0 -25 0M1416.9 1166.8a12.5 12.5 0 1 0 25 0a12.5 12.5 0 1 0 -25 0M1417.7 1165a12.5 12.5 0 1 0 25 0a12.5 12.5 0 1 0 -25 0M1418.5 1166.8a12.5 12.5 0 1 0 25 0a12.5 12.5 0 1 0 -25 0M1419.3 1165a12.5 12.5 0 1 0 25 0a12.5 12.5 0 1 0 -25 0M1420 1166.8a12.5 12.5 0 1 0 25 0a12.5 12.5 0 1 0 -25 0M1421.2 1165a12.5 12.5 0 1 0 25 0a12.5 12.5 0 1 0 -25 0M1454.5 977a12.5 12.5 0 1 0 25 0a12.5 12.5 0 1 0 -25 0M1455.3 1165a12.5 12.5 0 1 0 25 0a12.5 12.5 0 1 0 -25 0M1456.1 1166.8a12.5 12.5 0 1 0 25 0a12.5 12.5 0 1 0 -25 0M1456.9 1165a12.5 12.5 0 1 0 25 0a12.5 12.5 0 1 0 -25 0M1457.7 1166.8a12.5 12.5 0 1 0 25 0a12.5 12.5 0 1 0 -25 0M1458.4 1165a12.5 12.5 0 1 0 25 0a12.5 12.5 0 1 0 -25 0M1459.2 1166.8a12.5 12.5 0 1 0 25 0a12.5 12.5 0 1 0 -25 0M1460 1165a12.5 12.5 0 1 0 25 0a12.5 12.5 0 1 0 -25 0M1460.8 1166.8a12.5 12.5 0 1 0 25 0a12.5 12.5 0 1 0 -25 0M1461.6 1165a12.5 12.5 0 1 0 25 0a12.5 12.5 0 1 0 -25 0M1462.4 1166.8a12.5 12.5 0 1 0 25 0a12.5 12.5 0 1 0 -25 0M1463.1 1165a12.5 12.5 0 1 0 25 0a12.5 12.5 0 1 0 -25 0M1463.9 1166.8a12.5 12.5 0 1 0 25 0a12.5 12.5 0 1 0 -25 0M1464.7 1165a12.5 12.5 0 1 0 25 0a12.5 12.5 0 1 0 -25 0M1465.5 1166.8a12.5 12.5 0 1 0 25 0a12.5 12.5 0 1 0 -25 0M1466.3 1165a12.5 12.5 0 1 0 25 0a12.5 12.5 0 1 0 -25 0M1467.1 1166.8a12.5 12.5 0 1 0 25 0a12.5 12.5 0 1 0 -25 0M1467.8 1165a12.5 12.5 0 1 0 25 0a12.5 12.5 0 1 0 -25 0M1468.6 1166.8a12.5 12.5 0 1 0 25 0a12.5 12.5 0 1 0 -25 0M1469.4 1165a12.5 12.5 0 1 0 25 0a12.5 12.5 0 1 0 -25 0M1470.2 1166.8a12.5 12.5 0 1 0 25 0a12.5 12.5 0 1 0 -25 0M1471 1165a12.5 12.5 0 1 0 25 0a12.5 12.5 0 1 0 -25 0M1471.8 1166.8a12.5 12.5 0 1 0 25 0a12.5 12.5 0 1 0 -25 0M1472.5 1165a12.5 12.5 0 1 0 25 0a12.5 12.5 0 1 0 -25 0M1473.3 1166.8a12.5 12.5 0 1 0 25 0a12.5 12.5 0 1 0 -25 0M1474.1 1165a12.5 12.5 0 1 0 25 0a12.5 12.5 0 1 0 -25 0M1475.1 1165a12.5 12.5 0 1 0 25 0a12.5 12.5 0 1 0 -25 0M1512 956.5a12.5 12.5 0 1 0 25 0a12.5 12.5 0 1 0 -25 0M1512.8 1166.8a12.5 12.5 0 1 0 25 0a12.5 12.5 0 1 0 -25 0M1513.6 1166.8a12.5 12.5 0 1 0 25 0a12.5 12.5 0 1 0 -25 0M1514.4 1166.8a12.5 12.5 0 1 0 25 0a12.5 12.5 0 1 0 -25 0M1515.2 1166.8a12.5 12.5 0 1 0 25 0a12.5 12.5 0 1 0 -25 0M1515.9 1166.8a12.5 12.5 0 1 0 25 0a12.5 12.5 0 1 0 -25 0M1516.7 1166.8a12.5 12.5 0 1 0 25 0a12.5 12.5 0 1 0 -25 0M1517.9 1166.8a12.5 12.5 0 1 0 25 0a12.5 12.5 0 1 0 -25 0M1573.5 847a12.5 12.5 0 1 0 25 0a12.5 12.5 0 1 0 -25 0M1574.3 1166.8a12.5 12.5 0 1 0 25 0a12.5 12.5 0 1 0 -25 0M1575.1 1166.8a12.5 12.5 0 1 0 25 0a12.5 12.5 0 1 0 -25 0M1575.9 1166.8a12.5 12.5 0 1 0 25 0a12.5 12.5 0 1 0 -25 0M1576.7 1166.8a12.5 12.5 0 1 0 25 0a12.5 12.5 0 1 0 -25 0M1577.4 1166.8a12.5 12.5 0 1 0 25 0a12.5 12.5 0 1 0 -25 0M1578.2 1166.8a12.5 12.5 0 1 0 25 0a12.5 12.5 0 1 0 -25 0M1579 1166.8a12.5 12.5 0 1 0 25 0a12.5 12.5 0 1 0 -25 0M1579.8 1166.8a12.5 12.5 0 1 0 25 0a12.5 12.5 0 1 0 -25 0M1580.6 1166.8a12.5 12.5 0 1 0 25 0a12.5 12.5 0 1 0 -25 0M1581.4 1166.8a12.5 12.5 0 1 0 25 0a12.5 12.5 0 1 0 -25 0M1582.1 1166.8a12.5 12.5 0 1 0 25 0a12.5 12.5 0 1 0 -25 0M1582.9 1166.8a12.5 12.5 0 1 0 25 0a12.5 12.5 0 1 0 -25 0M1583.7 1166.8a12.5 12.5 0 1 0 25 0a12.5 12.5 0 1 0 -25 0M1584.5 1166.8a12.5 12.5 0 1 0 25 0a12.5 12.5 0 1 0 -25 0M1585.3 1166.8a12.5 12.5 0 1 0 25 0a12.5 12.5 0 1 0 -25 0M1586.1 1166.8a12.5 12.5 0 1 0 25 0a12.5 12.5 0 1 0 -25 0M1586.8 1166.8a12.5 12.5 0 1 0 25 0a12.5 12.5 0 1 0 -25 0M1587.6 1166.8a12.5 12.5 0 1 0 25 0a12.5 12.5 0 1 0 -25 0M1588.4 1166.8a12.5 12.5 0 1 0 25 0a12.5 12.5 0 1 0 -25 0M1589.2 1166.8a12.5 12.5 0 1 0 25 0a12.5 12.5 0 1 0 -25 0M1590 1166.8a12.5 12.5 0 1 0 25 0a12.5 12.5 0 1 0 -25 0M1590.8 1166.8a12.5 12.5 0 1 0 25 0a12.5 12.5 0 1 0 -25 0M1591.5 1166.8a12.5 12.5 0 1 0 25 0a12.5 12.5 0 1 0 -25 0M1592.3 1166.8a12.5 12.5 0 1 0 25 0a12.5 12.5 0 1 0 -25 0M1593.1 1166.8a12.5 12.5 0 1 0 25 0a12.5 12.5 0 1 0 -25 0M1593.9 1166.8a12.5 12.5 0 1 0 25 0a12.5 12.5 0 1 0 -25 0M1594.7 1166.8a12.5 12.5 0 1 0 25 0a12.5 12.5 0 1 0 -25 0M1595.5 1166.8a12.5 12.5 0 1 0 25 0a12.5 12.5 0 1 0 -25 0M1596.3 1166.8a12.5 12.5 0 1 0 25 0a12.5 12.5 0 1 0 -25 0M1597 1166.8a12.5 12.5 0 1 0 25 0a12.5 12.5 0 1 0 -25 0M1597.8 1166.8a12.5 12.5 0 1 0 25 0a12.5 12.5 0 1 0 -25 0M1598.6 1166.8a12.5 12.5 0 1 0 25 0a12.5 12.5 0 1 0 -25 0M1599.4 1166.8a12.5 12.5 0 1 0 25 0a12.5 12.5 0 1 0 -25 0M1600.2 1166.8a12.5 12.5 0 1 0 25 0a12.5 12.5 0 1 0 -25 0M1601 1166.8a12.5 12.5 0 1 0 25 0a12.5 12.5 0 1 0 -25 0M1601.7 1166.8a12.5 12.5 0 1 0 25 0a12.5 12.5 0 1 0 -25 0M1602.5 1166.8a12.5 12.5 0 1 0 25 0a12.5 12.5 0 1 0 -25 0M1603.3 1166.8a12.5 12.5 0 1 0 25 0a12.5 12.5 0 1 0 -25 0M1604.1 1166.8a12.5 12.5 0 1 0 25 0a12.5 12.5 0 1 0 -25 0M1604.9 1166.8a12.5 12.5 0 1 0 25 0a12.5 12.5 0 1 0 -25 0M1605.7 1166.8a12.5 12.5 0 1 0 25 0a12.5 12.5 0 1 0 -25 0M1606.4 1166.8a12.5 12.5 0 1 0 25 0a12.5 12.5 0 1 0 -25 0M1607.2 1166.8a12.5 12.5 0 1 0 25 0a12.5 12.5 0 1 0 -25 0M1608 1166.8a12.5 12.5 0 1 0 25 0a12.5 12.5 0 1 0 -25 0M1608.8 1166.8a12.5 12.5 0 1 0 25 0a12.5 12.5 0 1 0 -25 0M1609.6 1166.8a12.5 12.5 0 1 0 25 0a12.5 12.5 0 1 0 -25 0M1610.4 1166.8a12.5 12.5 0 1 0 25 0a12.5 12.5 0 1 0 -25 0M1611.1 1166.8a12.5 12.5 0 1 0 25 0a12.5 12.5 0 1 0 -25 0M1611.9 1166.8a12.5 12.5 0 1 0 25 0a12.5 12.5 0 1 0 -25 0M1612.7 1166.8a12.5 12.5 0 1 0 25 0a12.5 12.5 0 1 0 -25 0M1613.5 1166.8a12.5 12.5 0 1 0 25 0a12.5 12.5 0 1 0 -25 0M1614.3 1166.8a12.5 12.5 0 1 0 25 0a12.5 12.5 0 1 0 -25 0M1615.1 1166.8a12.5 12.5 0 1 0 25 0a12.5 12.5 0 1 0 -25 0M1615.9 1166.8a12.5 12.5 0 1 0 25 0a12.5 12.5 0 1 0 -25 0M1616.6 1166.8a12.5 12.5 0 1 0 25 0a12.5 12.5 0 1 0 -25 0M1617.4 1166.8a12.5 12.5 0 1 0 25 0a12.5 12.5 0 1 0 -25 0M1618.2 1166.8a12.5 12.5 0 1 0 25 0a12.5 12.5 0 1 0 -25 0M1619 1166.8a12.5 12.5 0 1 0 25 0a12.5 12.5 0 1 0 -25 0M1619.8 1166.8a12.5 12.5 0 1 0 25 0a12.5 12.5 0 1 0 -25 0M1620.6 1166.8a12.5 12.5 0 1 0 25 0a12.5 12.5 0 1 0 -25 0M1621.3 1166.8a12.5 12.5 0 1 0 25 0a12.5 12.5 0 1 0 -25 0M1622.1 1166.8a12.5 12.5 0 1 0 25 0a12.5 12.5 0 1 0 -25 0M1622.9 1166.8a12.5 12.5 0 1 0 25 0a12.5 12.5 0 1 0 -25 0M1623.7 1166.8a12.5 12.5 0 1 0 25 0a12.5 12.5 0 1 0 -25 0M1624.5 1166.8a12.5 12.5 0 1 0 25 0a12.5 12.5 0 1 0 -25 0M1625.3 1166.8a12.5 12.5 0 1 0 25 0a12.5 12.5 0 1 0 -25 0M1626 1166.8a12.5 12.5 0 1 0 25 0a12.5 12.5 0 1 0 -25 0M1626.8 1166.8a12.5 12.5 0 1 0 25 0a12.5 12.5 0 1 0 -25 0M1627.6 1166.8a12.5 12.5 0 1 0 25 0a12.5 12.5 0 1 0 -25 0M1628.4 1166.8a12.5 12.5 0 1 0 25 0a12.5 12.5 0 1 0 -25 0M1629.2 1166.8a12.5 12.5 0 1 0 25 0a12.5 12.5 0 1 0 -25 0M1630 1166.8a12.5 12.5 0 1 0 25 0a12.5 12.5 0 1 0 -25 0M1630.7 1166.8a12.5 12.5 0 1 0 25 0a12.5 12.5 0 1 0 -25 0M1631.5 1166.8a12.5 12.5 0 1 0 25 0a12.5 12.5 0 1 0 -25 0M1632.3 1166.8a12.5 12.5 0 1 0 25 0a12.5 12.5 0 1 0 -25 0M1633.1 1166.8a12.5 12.5 0 1 0 25 0a12.5 12.5 0 1 0 -25 0M1633.9 1166.8a12.5 12.5 0 1 0 25 0a12.5 12.5 0 1 0 -25 0M1634.7 1166.8a12.5 12.5 0 1 0 25 0a12.5 12.5 0 1 0 -25 0M1635.5 1166.8a12.5 12.5 0 1 0 25 0a12.5 12.5 0 1 0 -25 0M1636.2 1166.8a12.5 12.5 0 1 0 25 0a12.5 12.5 0 1 0 -25 0M1637 1166.8a12.5 12.5 0 1 0 25 0a12.5 12.5 0 1 0 -25 0M1637.8 1166.8a12.5 12.5 0 1 0 25 0a12.5 12.5 0 1 0 -25 0M1638.6 1166.8a12.5 12.5 0 1 0 25 0a12.5 12.5 0 1 0 -25 0M1639.4 1166.8a12.5 12.5 0 1 0 25 0a12.5 12.5 0 1 0 -25 0M1640.2 1166.8a12.5 12.5 0 1 0 25 0a12.5 12.5 0 1 0 -25 0M1640.9 1166.8a12.5 12.5 0 1 0 25 0a12.5 12.5 0 1 0 -25 0M1641.7 1166.8a12.5 12.5 0 1 0 25 0a12.5 12.5 0 1 0 -25 0M1642.5 1166.8a12.5 12.5 0 1 0 25 0a12.5 12.5 0 1 0 -25 0M1643.3 1166.8a12.5 12.5 0 1 0 25 0a12.5 12.5 0 1 0 -25 0M1644.1 1166.8a12.5 12.5 0 1 0 25 0a12.5 12.5 0 1 0 -25 0M1644.9 1166.8a12.5 12.5 0 1 0 25 0a12.5 12.5 0 1 0 -25 0M1645.6 1166.8a12.5 12.5 0 1 0 25 0a12.5 12.5 0 1 0 -25 0M1646.4 1166.8a12.5 12.5 0 1 0 25 0a12.5 12.5 0 1 0 -25 0M1647.2 1166.8a12.5 12.5 0 1 0 25 0a12.5 12.5 0 1 0 -25 0M1648 1166.8a12.5 12.5 0 1 0 25 0a12.5 12.5 0 1 0 -25 0M1648.8 1166.8a12.5 12.5 0 1 0 25 0a12.5 12.5 0 1 0 -25 0M1649.6 1166.8a12.5 12.5 0 1 0 25 0a12.5 12.5 0 1 0 -25 0M1650.3 1166.8a12.5 12.5 0 1 0 25 0a12.5 12.5 0 1 0 -25 0M1651.1 1166.8a12.5 12.5 0 1 0 25 0a12.5 12.5 0 1 0 -25 0M1651.9 1166.8a12.5 12.5 0 1 0 25 0a12.5 12.5 0 1 0 -25 0M1652.7 1166.8a12.5 12.5 0 1 0 25 0a12.5 12.5 0 1 0 -25 0M1653.5 1166.8a12.5 12.5 0 1 0 25 0a12.5 12.5 0 1 0 -25 0M1654.3 1166.8a12.5 12.5 0 1 0 25 0a12.5 12.5 0 1 0 -25 0M1655.1 1166.8a12.5 12.5 0 1 0 25 0a12.5 12.5 0 1 0 -25 0M1655.8 1166.8a12.5 12.5 0 1 0 25 0a12.5 12.5 0 1 0 -25 0M1656.6 1166.8a12.5 12.5 0 1 0 25 0a12.5 12.5 0 1 0 -25 0M1657.4 1166.8a12.5 12.5 0 1 0 25 0a12.5 12.5 0 1 0 -25 0M1658.2 1166.8a12.5 12.5 0 1 0 25 0a12.5 12.5 0 1 0 -25 0M1659 1166.8a12.5 12.5 0 1 0 25 0a12.5 12.5 0 1 0 -25 0M1659.8 1166.8a12.5 12.5 0 1 0 25 0a12.5 12.5 0 1 0 -25 0M1660.5 1166.8a12.5 12.5 0 1 0 25 0a12.5 12.5 0 1 0 -25 0M1661.3 1166.8a12.5 12.5 0 1 0 25 0a12.5 12.5 0 1 0 -25 0M1662.1 1166.8a12.5 12.5 0 1 0 25 0a12.5 12.5 0 1 0 -25 0M1662.9 1166.8a12.5 12.5 0 1 0 25 0a12.5 12.5 0 1 0 -25 0M1663.7 1166.8a12.5 12.5 0 1 0 25 0a12.5 12.5 0 1 0 -25 0M1664.5 1166.8a12.5 12.5 0 1 0 25 0a12.5 12.5 0 1 0 -25 0M1665.2 1166.6a12.5 12.5 0 1 0 25 0a12.5 12.5 0 1 0 -25 0M1666 1166.8a12.5 12.5 0 1 0 25 0a12.5 12.5 0 1 0 -25 0M1666.8 1165.9a12.5 12.5 0 1 0 25 0a12.5 12.5 0 1 0 -25 0M1667.6 1166.8a12.5 12.5 0 1 0 25 0a12.5 12.5 0 1 0 -25 0M1668.4 1164.9a12.5 12.5 0 1 0 25 0a12.5 12.5 0 1 0 -25 0M1669.2 1166.5a12.5 12.5 0 1 0 25 0a12.5 12.5 0 1 0 -25 0M1669.9 1163.9a12.5 12.5 0 1 0 25 0a12.5 12.5 0 1 0 -25 0M1670.7 1165.5a12.5 12.5 0 1 0 25 0a12.5 12.5 0 1 0 -25 0M1671.5 1163a12.5 12.5 0 1 0 25 0a12.5 12.5 0 1 0 -25 0M1672.3 1164.7a12.5 12.5 0 1 0 25 0a12.5 12.5 0 1 0 -25 0M1673.1 1162.3a12.5 12.5 0 1 0 25 0a12.5 12.5 0 1 0 -25 0M1673.9 1164.2a12.5 12.5 0 1 0 25 0a12.5 12.5 0 1 0 -25 0M1674.7 1162a12.5 12.5 0 1 0 25 0a12.5 12.5 0 1 0 -25 0M1675.4 1164a12.5 12.5 0 1 0 25 0a12.5 12.5 0 1 0 -25 0M1676.2 1161.9a12.5 12.5 0 1 0 25 0a12.5 12.5 0 1 0 -25 0M1677 1164a12.5 12.5 0 1 0 25 0a12.5 12.5 0 1 0 -25 0M1677.8 1161.9a12.5 12.5 0 1 0 25 0a12.5 12.5 0 1 0 -25 0M1678.6 1164a12.5 12.5 0 1 0 25 0a12.5 12.5 0 1 0 -25 0M1679.4 1161.9a12.5 12.5 0 1 0 25 0a12.5 12.5 0 1 0 -25 0M1680.1 1164a12.5 12.5 0 1 0 25 0a12.5 12.5 0 1 0 -25 0M1680.9 1161.9a12.5 12.5 0 1 0 25 0a12.5 12.5 0 1 0 -25 0M1681.7 1164a12.5 12.5 0 1 0 25 0a12.5 12.5 0 1 0 -25 0M1682.5 1162a12.5 12.5 0 1 0 25 0a12.5 12.5 0 1 0 -25 0M1683.3 1164.2a12.5 12.5 0 1 0 25 0a12.5 12.5 0 1 0 -25 0M1684.1 1162.4a12.5 12.5 0 1 0 25 0a12.5 12.5 0 1 0 -25 0M1684.8 1164.8a12.5 12.5 0 1 0 25 0a12.5 12.5 0 1 0 -25 0M1685.6 1163.1a12.5 12.5 0 1 0 25 0a12.5 12.5 0 1 0 -25 0M1686.4 1165.6a12.5 12.5 0 1 0 25 0a12.5 12.5 0 1 0 -25 0M1687.2 1164a12.5 12.5 0 1 0 25 0a12.5 12.5 0 1 0 -25 0M1688 1166.6a12.5 12.5 0 1 0 25 0a12.5 12.5 0 1 0 -25 0M1688.8 1165a12.5 12.5 0 1 0 25 0a12.5 12.5 0 1 0 -25 0M1689.5 1166.8a12.5 12.5 0 1 0 25 0a12.5 12.5 0 1 0 -25 0M1690.3 1165.9a12.5 12.5 0 1 0 25 0a12.5 12.5 0 1 0 -25 0M1691.1 1166.8a12.5 12.5 0 1 0 25 0a12.5 12.5 0 1 0 -25 0M1691.9 1166.7a12.5 12.5 0 1 0 25 0a12.5 12.5 0 1 0 -25 0M1692.7 1166.8a12.5 12.5 0 1 0 25 0a12.5 12.5 0 1 0 -25 0M1693.5 1166.8a12.5 12.5 0 1 0 25 0a12.5 12.5 0 1 0 -25 0M1694.3 1166.8a12.5 12.5 0 1 0 25 0a12.5 12.5 0 1 0 -25 0M1695 1166.8a12.5 12.5 0 1 0 25 0a12.5 12.5 0 1 0 -25 0M1695.8 1166.8a12.5 12.5 0 1 0 25 0a12.5 12.5 0 1 0 -25 0M1696.6 1166.8a12.5 12.5 0 1 0 25 0a12.5 12.5 0 1 0 -25 0M1697.4 1166.8a12.5 12.5 0 1 0 25 0a12.5 12.5 0 1 0 -25 0M1698.2 1166.8a12.5 12.5 0 1 0 25 0a12.5 12.5 0 1 0 -25 0M1699 1166.8a12.5 12.5 0 1 0 25 0a12.5 12.5 0 1 0 -25 0M1699.7 1166.8a12.5 12.5 0 1 0 25 0a12.5 12.5 0 1 0 -25 0M1700.5 1166.8a12.5 12.5 0 1 0 25 0a12.5 12.5 0 1 0 -25 0M1701.3 1166.8a12.5 12.5 0 1 0 25 0a12.5 12.5 0 1 0 -25 0M1702.1 1166.8a12.5 12.5 0 1 0 25 0a12.5 12.5 0 1 0 -25 0M1702.9 1166.8a12.5 12.5 0 1 0 25 0a12.5 12.5 0 1 0 -25 0M1703.7 1166.8a12.5 12.5 0 1 0 25 0a12.5 12.5 0 1 0 -25 0M1704.4 1166.8a12.5 12.5 0 1 0 25 0a12.5 12.5 0 1 0 -25 0M1705.2 1166.8a12.5 12.5 0 1 0 25 0a12.5 12.5 0 1 0 -25 0M1706 1166.8a12.5 12.5 0 1 0 25 0a12.5 12.5 0 1 0 -25 0M1706.8 1166.8a12.5 12.5 0 1 0 25 0a12.5 12.5 0 1 0 -25 0M1707.6 1166.8a12.5 12.5 0 1 0 25 0a12.5 12.5 0 1 0 -25 0M1708.5 1166.8a12.5 12.5 0 1 0 25 0a12.5 12.5 0 1 0 -25 0" stroke="#ff00ff" stroke-width="5" fill="none"/></g>
<g id="ret"><path d="M155.5 1171.5V1167.2M237.5 1171.5V1167.2M277.5 1171.5V934M278.5 1171.5V1166.6M288.5 1171.5V1165.4M303.5 1171.5V1167.2M354.5 1171.5V1167.2M360.5 1171.5V1135M361.5 1171.5V1167.2M385.5 1171.5V1167.2M389.5 1171.5V1153M389.5 1171.5V1167.2M515.5 1171.5V1162.9M611.5 1171.5V609M612.5 1171.5V1165.4M639.5 1171.5V1167.2M700.5 1171.5V810M701.5 1171.5V1165M707.5 1171.5V1165M727.5 1171.5V1055M727.5 1171.5V1167.1M790.5 1171.5V1165M843.5 1171.5V867M843.5 1171.5V1167.2M861.5 1171.5V1167.2M880.5 1171.5V1066M880.5 1171.5V1162.9M936.5 1171.5V1166M940.5 1171.5V1144M941.5 1171.5V1166M974.5 1171.5V1166M982.5 1171.5V1128M982.5 1171.5V1166M1032.5 1171.5V1167.2M1037.5 1171.5V1167.2M1122.5 1171.5V1165M1159.5 1171.5V952M1160.5 1171.5V1167.2M1173.5 1171.5V1167.2M1183.5 1171.5V1114M1183.5 1171.5V1165M1186.5 1171.5V1165M1230.5 1171.5V918M1230.5 1171.5V1167.2M1252.5 1171.5V1167.2M1254.5 1171.5V1160M1254.5 1171.5V1167.2M1292.5 1171.5V1167.2M1424.5 1171.5V396M1425.5 1171.5V1167.2M1494.5 1171.5V1164.6M1497.5 1171.5V1158M1497.5 1171.5V1164.6M1499.5 1171.5V1164.6M1531.5 1171.5V980M1532.5 1171.5V1167.2M1723.5 1171.5V1166.5" stroke="#00bfbf" stroke-width="5" fill="none" shape-rendering="crispEdges"/>
<path d="M303 1171.5V1089M1037 1171.5V1146" stroke="#00bfbf" stroke-width="6" fill="none" shape-rendering="crispEdges"/>
<path d="M143.3 1167.2a12.5 12.5 0 1 0 25 0a12.5 12.5 0 1 0 -25 0M144.1 1167.2a12.5 12.5 0 1 0 25 0a12.5 12.5 0 1 0 -25 0M144.9 1167.2a12.5 12.5 0 1 0 25 0a12.5 12.5 0 1 0 -25 0M145.7 1167.2a12.5 12.5 0 1 0 25 0a12.5 12.5 0 1 0 -25 0M146.4 1167.2a12.5 12.5 0 1 0 25 0a12.5 12.5 0 1 0 -25 0M147.2 1167.2a12.5 12.5 0 1 0 25 0a12.5 12.5 0 1 0 -25 0M148 1166.9a12.5 12.5 0 1 0 25 0a12.5 12.5 0 1 0 -25 0M148.8 1167.2a12.5 12.5 0 1 0 25 0a12.5 12.5 0 1 0 -25 0M149.6 1166.2a12.5 12.5 0 1 0 25 0a12.5 12.5 0 1 0 -25 0M150.4 1167.2a12.5 12.5 0 1 0 25 0a12.5 12.5 0 1 0 -25 0M151.1 1165.2a12.5 12.5 0 1 0 25 0a12.5 12.5 0 1 0 -25 0M151.9 1166.6a12.5 12.5 0 1 0 25 0a12.5 12.5 0 1 0 -25 0M152.7 1164a12.5 12.5 0 1 0 25 0a12.5 12.5 0 1 0 -25 0M153.5 1165.5a12.5 12.5 0 1 0 25 0a12.5 12.5 0 1 0 -25 0M154.3 1162.9a12.5 12.5 0 1 0 25 0a12.5 12.5 0 1 0 -25 0M155.1 1164.6a12.5 12.5 0 1 0 25 0a12.5 12.5 0 1 0 -25 0M155.8 1162.2a12.5 12.5 0 1 0 25 0a12.5 12.5 0 1 0 -25 0M156.6 1164a12.5 12.5 0 1 0 25 0a12.5 12.5 0 1 0 -25 0M157.4 1161.9a12.5 12.5 0 1 0 25 0a12.5 12.5 0 1 0 -25 0M158.2 1164a12.5 12.5 0 1 0 25 0a12.5 12.5 0 1 0 -25 0M159 1161.9a12.5 12.5 0 1 0 25 0a12.5 12.5 0 1 0 -25 0M159.8 1164a12.5 12.5 0 1 0 25 0a12.5 12.5 0 1 0 -25 0M160.5 1162a12.5 12.5 0 1 0 25 0a12.5 12.5 0 1 0 -25 0M161.3 1164.3a12.5 12.5 0 1 0 25 0a12.5 12.5 0 1 0 -25 0M162.1 1162.6a12.5 12.5 0 1 0 25 0a12.5 12.5 0 1 0 -25 0M162.9 1165.1a12.5 12.5 0 1 0 25 0a12.5 12.5 0 1 0 -25 0M163.7 1163.6a12.5 12.5 0 1 0 25 0a12.5 12.5 0 1 0 -25 0M164.5 1166.2a12.5 12.5 0 1 0 25 0a12.5 12.5 0 1 0 -25 0M165.3 1164.7a12.5 12.5 0 1 0 25 0a12.5 12.5 0 1 0 -25 0M166 1167.2a12.5 12.5 0 1 0 25 0a12.5 12.5 0 1 0 -25 0M166.8 1165.8a12.5 12.5 0 1 0 25 0a12.5 12.5 0 1 0 -25 0M167.6 1167.2a12.5 12.5 0 1 0 25 0a12.5 12.5 0 1 0 -25 0M168.4 1166.7a12.5 12.5 0 1 0 25 0a12.5 12.5 0 1 0 -25 0M169.2 1167.2a12.5 12.5 0 1 0 25 0a12.5 12.5 0 1 0 -25 0M170 1167.1a12.5 12.5 0 1 0 25 0a12.5 12.5 0 1 0 -25 0M170.7 1167.2a12.5 12.5 0 1 0 25 0a12.5 12.5 0 1 0 -25 0M171.5 1167.2a12.5 12.5 0 1 0 25 0a12.5 12.5 0 1 0 -25 0M172.3 1167.2a12.5 12.5 0 1 0 25 0a12.5 12.5 0 1 0 -25 0M173.1 1167.2a12.5 12.5 0 1 0 25 0a12.5 12.5 0 1 0 -25 0M173.9 1167.2a12.5 12.5 0 1 0 25 0a12.5 12.5 0 1 0 -25 0M174.7 1167.2a12.5 12.5 0 1 0 25 0a12.5 12.5 0 1 0 -25 0M175.4 1167.2a12.5 12.5 0 1 0 25 0a12.5 12.5 0 1 0 -25 0M176.2 1167.2a12.5 12.5 0 1 0 25 0a12.5 12.5 0 1 0 -25 0M177 1167.2a12.5 12.5 0 1 0 25 0a12.5 12.5 0 1 0 -25 0M177.8 1167.2a12.5 12.5 0 1 0 25 0a12.5 12.5 0 1 0 -25 0M178.6 1167.2a12.5 12.5 0 1 0 25 0a12.5 12.5 0 1 0 -25 0M179.4 1166.9a12.5 12.5 0 1 0 25 0a12.5 12.5 0 1 0 -25 0M180.1 1167.2a12.5 12.5 0 1 0 25 0a12.5 12.5 0 1 0 -25 0M180.9 1166.5a12.5 12.5 0 1 0 25 0a12.5 12.5 0 1 0 -25 0M181.7 1167.2a12.5 12.5 0 1 0 25 0a12.5 12.5 0 1 0 -25 0M182.5 1165.9a12.5 12.5 0 1 0 25 0a12.5 12.5 0 1 0 -25 0M183.3 1167.2a12.5 12.5 0 1 0 25 0a12.5 12.5 0 1 0 -25 0M184.1 1165.4a12.5 12.5 0 1 0 25 0a12.5 12.5 0 1 0 -25 0M184.9 1167.2a12.5 12.5 0 1 0 25 0a12.5 12.5 0 1 0 -25 0M185.6 1165.1a12.5 12.5 0 1 0 25 0a12.5 12.5 0 1 0 -25 0M186.4 1167.1a12.5 12.5 0 1 0 25 0a12.5 12.5 0 1 0 -25 0M187.2 1165a12.5 12.5 0 1 0 25 0a12.5 12.5 0 1 0 -25 0M188 1167.1a12.5 12.5 0 1 0 25 0a12.5 12.5 0 1 0 -25 0M188.8 1165a12.5 12.5 0 1 0 25 0a12.5 12.5 0 1 0 -25 0M189.6 1167.1a12.5 12.5 0 1 0 25 0a12.5 12.5 0 1 0 -25 0M190.3 1165.2a12.5 12.5 0 1 0 25 0a12.5 12.5 0 1 0 -25 0M191.1 1167.2a12.5 12.5 0 1 0 25 0a12.5 12.5 0 1 0 -25 0M191.9 1165.7a12.5 12.5 0 1 0 25 0a12.5 12.5 0 1 0 -25 0M192.7 1167.2a12.5 12.5 0 1 0 25 0a12.5 12.5 0 1 0 -25 0M193.5 1166.3a12.5 12.5 0 1 0 25 0a12.5 12.5 0 1 0 -25 0M194.3 1167.2a12.5 12.5 0 1 0 25 0a12.5 12.5 0 1 0 -25 0M195 1166.8a12.5 12.5 0 1 0 25 0a12.5 12.5 0 1 0 -25 0M195.8 1167.2a12.5 12.5 0 1 0 25 0a12.5 12.5 0 1 0 -25 0M196.6 1167.1a12.5 12.5 0 1 0 25 0a12.5 12.5 0 1 0 -25 0M197.4 1167.2a12.5 12.5 0 1 0 25 0a12.5 12.5 0 1 0 -25 0M198.2 1167.2a12.5 12.5 0 1 0 25 0a12.5 12.5 0 1 0 -25 0M199 1167.2a12.5 12.5 0 1 0 25 0a12.5 12.5 0 1 0 -25 0M199.7 1167.2a12.5 12.5 0 1 0 25 0a12.5 12.5 0 1 0 -25 0M200.5 1167.2a12.5 12.5 0 1 0 25 0a12.5 12.5 0 1 0 -25 0M201.3 1167.2a12.5 12.5 0 1 0 25 0a12.5 12.5 0 1 0 -25 0M202.1 1167.2a12.5 12.5 0 1 0 25 0a12.5 12.5 0 1 0 -25 0M202.9 1167.2a12.5 12.5 0 1 0 25 0a12.5 12.5 0 1 0 -25 0M203.7 1167.2a12.5 12.5 0 1 0 25 0a12.5 12.5 0 1 0 -25 0M204.5 1167.2a12.5 12.5 0 1 0 25 0a12.5 12.5 0 1 0 -25 0M205.2 1167.2a12.5 12.5 0 1 0 25 0a12.5 12.5 0 1 0 -25 0M206 1167.2a12.5 12.5 0 1 0 25 0a12.5 12.5 0 1 0 -25 0M206.8 1167.2a12.5 12.5 0 1 0 25 0a12.5 12.5 0 1 0 -25 0M207.6 1167.2a12.5 12.5 0 1 0 25 0a12.5 12.5 0 1 0 -25 0M208.4 1167.2a12.5 12.5 0 1 0 25 0a12.5 12.5 0 1 0 -25 0M209.2 1167.2a12.5 12.5 0 1 0 25 0a12.5 12.5 0 1 0 -25 0M209.9 1167.2a12.5 12.5 0 1 0 25 0a12.5 12.5 0 1 0 -25 0M210.7 1167.2a12.5 12.5 0 1 0 25 0a12.5 12.5 0 1 0 -25 0M211.5 1167.2a12.5 12.5 0 1 0 25 0a12.5 12.5 0 1 0 -25 0M212.3 1167.2a12.5 12.5 0 1 0 25 0a12.5 12.5 0 1 0 -25 0M213.1 1167.2a12.5 12.5 0 1 0 25 0a12.5 12.5 0 1 0 -25 0M213.9 1167.2a12.5 12.5 0 1 0 25 0a12.5 12.5 0 1 0 -25 0M214.6 1167.2a12.5 12.5 0 1 0 25 0a12.5 12.5 0 1 0 -25 0M215.4 1167.2a12.5 12.5 0 1 0 25 0a12.5 12.5 0 1 0 -25 0M216.2 1167.2a12.5 12.5 0 1 0 25 0a12.5 12.5 0 1 0 -25 0M217 1167.2a12.5 12.5 0 1 0 25 0a12.5 12.5 0 1 0 -25 0M217.8 1167.2a12.5 12.5 0 1 0 25 0a12.5 12.5 0 1 0 -25 0M218.6 1167.2a12.5 12.5 0 1 0 25 0a12.5 12.5 0 1 0 -25 0M219.3 1167.2a12.5 12.5 0 1 0 25 0a12.5 12.5 0 1 0 -25 0M220.1 1167.2a12.5 12.5 0 1 0 25 0a12.5 12.5 0 1 0 -25 0M220.9 1167.2a12.5 12.5 0 1 0 25 0a12.5 12.5 0 1 0 -25 0M221.7 1167.2a12.5 12.5 0 1 0 25 0a12.5 12.5 0 1 0 -25 0M222.5 1167.2a12.5 12.5 0 1 0 25 0a12.5 12.5 0 1 0 -25 0M223.3 1167.2a12.5 12.5 0 1 0 25 0a12.5 12.5 0 1 0 -25 0M224.1 1167.2a12.5 12.5 0 1 0 25 0a12.5 12.5 0 1 0 -25 0M224.8 1167.2a12.5 12.5 0 1 0 25 0a12.5 12.5 0 1 0 -25 0M265.5 934a12.5 12.5 0 1 0 25 0a12.5 12.5 0 1 0 -25 0M266.3 1166.6a12.5 12.5 0 1 0 25 0a12.5 12.5 0 1 0 -25 0M267.1 1167.2a12.5 12.5 0 1 0 25 0a12.5 12.5 0 1 0 -25 0M267.9 1164.9a12.5 12.5 0 1 0 25 0a12.5 12.5 0 1 0 -25 0M268.7 1166a12.5 12.5 0 1 0 25 0a12.5 12.5 0 1 0 -25 0M269.4 1163a12.5 12.5 0 1 0 25 0a12.5 12.5 0 1 0 -25 0M270.2 1164.4a12.5 12.5 0 1 0 25 0a12.5 12.5 0 1 0 -25 0M271 1161.9a12.5 12.5 0 1 0 25 0a12.5 12.5 0 1 0 -25 0M271.8 1164a12.5 12.5 0 1 0 25 0a12.5 12.5 0 1 0 -25 0M272.6 1161.9a12.5 12.5 0 1 0 25 0a12.5 12.5 0 1 0 -25 0M273.4 1164.2a12.5 12.5 0 1 0 25 0a12.5 12.5 0 1 0 -25 0M274.1 1162.8a12.5 12.5 0 1 0 25 0a12.5 12.5 0 1 0 -25 0M274.9 1165.7a12.5 12.5 0 1 0 25 0a12.5 12.5 0 1 0 -25 0M275.7 1164.6a12.5 12.5 0 1 0 25 0a12.5 12.5 0 1 0 -25 0M276.4 1165.4a12.5 12.5 0 1 0 25 0a12.5 12.5 0 1 0 -25 0M290.5 1089a12.5 12.5 0 1 0 25 0a12.5 12.5 0 1 0 -25 0M291.3 1167.2a12.5 12.5 0 1 0 25 0a12.5 12.5 0 1 0 -25 0M292.1 1167.2a12.5 12.5 0 1 0 25 0a12.5 12.5 0 1 0 -25 0M292.9 1167.2a12.5 12.5 0 1 0 25 0a12.5 12.5 0 1 0 -25 0M293.7 1167.2a12.5 12.5 0 1 0 25 0a12.5 12.5 0 1 0 -25 0M294.4 1167.2a12.5 12.5 0 1 0 25 0a12.5 12.5 0 1 0 -25 0M295.2 1167.2a12.5 12.5 0 1 0 25 0a12.5 12.5 0 1 0 -25 0M296 1167.2a12.5 12.5 0 1 0 25 0a12.5 12.5 0 1 0 -25 0M296.8 1167.2a12.5 12.5 0 1 0 25 0a12.5 12.5 0 1 0 -25 0M297.6 1167.2a12.5 12.5 0 1 0 25 0a12.5 12.5 0 1 0 -25 0M298.4 1167.2a12.5 12.5 0 1 0 25 0a12.5 12.5 0 1 0 -25 0M299.1 1167.2a12.5 12.5 0 1 0 25 0a12.5 12.5 0 1 0 -25 0M299.9 1167.2a12.5 12.5 0 1 0 25 0a12.5 12.5 0 1 0 -25 0M300.7 1167.2a12.5 12.5 0 1 0 25 0a12.5 12.5 0 1 0 -25 0M301.5 1167.2a12.5 12.5 0 1 0 25 0a12.5 12.5 0 1 0 -25 0M302.3 1167.2a12.5 12.5 0 1 0 25 0a12.5 12.5 0 1 0 -25 0M303.1 1167.2a12.5 12.5 0 1 0 25 0a12.5 12.5 0 1 0 -25 0M303.8 1167.2a12.5 12.5 0 1 0 25 0a12.5 12.5 0 1 0 -25 0M304.6 1167.2a12.5 12.5 0 1 0 25 0a12.5 12.5 0 1 0 -25 0M305.4 1167.2a12.5 12.5 0 1 0 25 0a12.5 12.5 0 1 0 -25 0M306.2 1167.2a12.5 12.5 0 1 0 25 0a12.5 12.5 0 1 0 -25 0M307 1167.2a12.5 12.5 0 1 0 25 0a12.5 12.5 0 1 0 -25 0M307.8 1167.2a12.5 12.5 0 1 0 25 0a12.5 12.5 0 1 0 -25 0M308.5 1167.2a12.5 12.5 0 1 0 25 0a12.5 12.5 0 1 0 -25 0M309.3 1167.2a12.5 12.5 0 1 0 25 0a12.5 12.5 0 1 0 -25 0M310.1 1167.2a12.5 12.5 0 1 0 25 0a12.5 12.5 0 1 0 -25 0M310.9 1167.2a12.5 12.5 0 1 0 25 0a12.5 12.5 0 1 0 -25 0M311.7 1167.2a12.5 12.5 0 1 0 25 0a12.5 12.5 0 1 0 -25 0M312.5 1167.2a12.5 12.5 0 1 0 25 0a12.5 12.5 0 1 0 -25 0M313.3 1167.2a12.5 12.5 0 1 0 25 0a12.5 12.5 0 1 0 -25 0M314 1167.2a12.5 12.5 0 1 0 25 0a12.5 12.5 0 1 0 -25 0M314.8 1167.2a12.5 12.5 0 1 0 25 0a12.5 12.5 0 1 0 -25 0M315.6 1167.2a12.5 12.5 0 1 0 25 0a12.5 12.5 0 1 0 -25 0M316.4 1167.2a12.5 12.5 0 1 0 25 0a12.5 12.5 0 1 0 -25 0M317.2 1167.2a12.5 12.5 0 1 0 25 0a12.5 12.5 0 1 0 -25 0M318 1167.2a12.5 12.5 0 1 0 25 0a12.5 12.5 0 1 0 -25 0M318.7 1167.2a12.5 12.5 0 1 0 25 0a12.5 12.5 0 1 0 -25 0M319.5 1167.2a12.5 12.5 0 1 0 25 0a12.5 12.5 0 1 0 -25 0M320.3 1167.2a12.5 12.5 0 1 0 25 0a12.5 12.5 0 1 0 -25 0M321.1 1167.2a12.5 12.5 0 1 0 25 0a12.5 12.5 0 1 0 -25 0M321.9 1167.2a12.5 12.5 0 1 0 25 0a12.5 12.5 0 1 0 -25 0M322.7 1167.2a12.5 12.5 0 1 0 25 0a12.5 12.5 0 1 0 -25 0M323.4 1167.2a12.5 12.5 0 1 0 25 0a12.5 12.5 0 1 0 -25 0M324.2 1167.2a12.5 12.5 0 1 0 25 0a12.5 12.5 0 1 0 -25 0M325 1167.2a12.5 12.5 0 1 0 25 0a12.5 12.5 0 1 0 -25 0M325.8 1167.2a12.5 12.5 0 1 0 25 0a12.5 12.5 0 1 0 -25 0M326.6 1167.2a12.5 12.5 0 1 0 25 0a12.5 12.5 0 1 0 -25 0M327.4 1167.2a12.5 12.5 0 1 0 25 0a12.5 12.5 0 1 0 -25 0M328.1 1167.2a12.5 12.5 0 1 0 25 0a12.5 12.5 0 1 0 -25 0M328.9 1167.2a12.5 12.5 0 1 0 25 0a12.5 12.5 0 1 0 -25 0M329.7 1167.2a12.5 12.5 0 1 0 25 0a12.5 12.5 0 1 0 -25 0M330.5 1167.2a12.5 12.5 0 1 0 25 0a12.5 12.5 0 1 0 -25 0M331.3 1167.2a12.5 12.5 0 1 0 25 0a12.5 12.5 0 1 0 -25 0M332.1 1167.2a12.5 12.5 0 1 0 25 0a12.5 12.5 0 1 0 -25 0M332.9 1167.2a12.5 12.5 0 1 0 25 0a12.5 12.5 0 1 0 -25 0M333.6 1167.2a12.5 12.5 0 1 0 25 0a12.5 12.5 0 1 0 -25 0M334.4 1167.2a12.5 12.5 0 1 0 25 0a12.5 12.5 0 1 0 -25 0M335.2 1167.2a12.5 12.5 0 1 0 25 0a12.5 12.5 0 1 0 -25 0M336 1167.2a12.5 12.5 0 1 0 25 0a12.5 12.5 0 1 0 -25 0M336.8 1167.2a12.5 12.5 0 1 0 25 0a12.5 12.5 0 1 0 -25 0M337.6 1167.2a12.5 12.5 0 1 0 25 0a12.5 12.5 0 1 0 -25 0M338.3 1167.2a12.5 12.5 0 1 0 25 0a12.5 12.5 0 1 0 -25 0M339.1 1167.2a12.5 12.5 0 1 0 25 0a12.5 12.5 0 1 0 -25 0M339.9 1167.2a12.5 12.5 0 1 0 25 0a12.5 12.5 0 1 0 -25 0M340.7 1167.2a12.5 12.5 0 1 0 25 0a12.5 12.5 0 1 0 -25 0M341.5 1167.2a12.5 12.5 0 1 0 25 0a12.5 12.5 0 1 0 -25 0M342.2 1167.2a12.5 12.5 0 1 0 25 0a12.5 12.5 0 1 0 -25 0M348.5 1135a12.5 12.5 0 1 0 25 0a12.5 12.5 0 1 0 -25 0M349.3 1167.2a12.5 12.5 0 1 0 25 0a12.5 12.5 0 1 0 -25 0M350.1 1167.2a12.5 12.5 0 1 0 25 0a12.5 12.5 0 1 0 -25 0M350.9 1167.2a12.5 12.5 0 1 0 25 0a12.5 12.5 0 1 0 -25 0M351.7 1167.2a12.5 12.5 0 1 0 25 0a12.5 12.5 0 1 0 -25 0M352.4 1167.2a12.5 12.5 0 1 0 25 0a12.5 12.5 0 1 0 -25 0M353.2 1167.2a12.5 12.5 0 1 0 25 0a12.5 12.5 0 1 0 -25 0M354 1167.2a12.5 12.5 0 1 0 25 0a12.5 12.5 0 1 0 -25 0M354.8 1167.2a12.5 12.5 0 1 0 25 0a12.5 12.5 0 1 0 -25 0M355.6 1167.2a12.5 12.5 0 1 0 25 0a12.5 12.5 0 1 0 -25 0M356.4 1167.2a12.5 12.5 0 1 0 25 0a12.5 12.5 0 1 0 -25 0M357.1 1167.2a12.5 12.5 0 1 0 25 0a12.5 12.5 0 1 0 -25 0M357.9 1167.2a12.5 12.5 0 1 0 25 0a12.5 12.5 0 1 0 -25 0M358.7 1167.2a12.5 12.5 0 1 0 25 0a12.5 12.5 0 1 0 -25 0M359.5 1167.2a12.5 12.5 0 1 0 25 0a12.5 12.5 0 1 0 -25 0M360.3 1167.2a12.5 12.5 0 1 0 25 0a12.5 12.5 0 1 0 -25 0M361.1 1167.2a12.5 12.5 0 1 0 25 0a12.5 12.5 0 1 0 -25 0M361.8 1167.2a12.5 12.5 0 1 0 25 0a12.5 12.5 0 1 0 -25 0M362.6 1167.2a12.5 12.5 0 1 0 25 0a12.5 12.5 0 1 0 -25 0M363.4 1167.2a12.5 12.5 0 1 0 25 0a12.5 12.5 0 1 0 -25 0M364.2 1167.2a12.5 12.5 0 1 0 25 0a12.5 12.5 0 1 0 -25 0M365 1167.2a12.5 12.5 0 1 0 25 0a12.5 12.5 0 1 0 -25 0M365.8 1167.2a12.5 12.5 0 1 0 25 0a12.5 12.5 0 1 0 -25 0M366.5 1167.2a12.5 12.5 0 1 0 25 0a12.5 12.5 0 1 0 -25 0M367.3 1167.2a12.5 12.5 0 1 0 25 0a12.5 12.5 0 1 0 -25 0M368.1 1167.2a12.5 12.5 0 1 0 25 0a12.5 12.5 0 1 0 -25 0M368.9 1167.2a12.5 12.5 0 1 0 25 0a12.5 12.5 0 1 0 -25 0M369.7 1167.2a12.5 12.5 0 1 0 25 0a12.5 12.5 0 1 0 -25 0M370.5 1167.2a12.5 12.5 0 1 0 25 0a12.5 12.5 0 1 0 -25 0M371.3 1167.2a12.5 12.5 0 1 0 25 0a12.5 12.5 0 1 0 -25 0M372 1167.2a12.5 12.5 0 1 0 25 0a12.5 12.5 0 1 0 -25 0M372.8 1167.2a12.5 12.5 0 1 0 25 0a12.5 12.5 0 1 0 -25 0M373.3 1167.2a12.5 12.5 0 1 0 25 0a12.5 12.5 0 1 0 -25 0M376.5 1153a12.5 12.5 0 1 0 25 0a12.5 12.5 0 1 0 -25 0M377.3 1167.2a12.5 12.5 0 1 0 25 0a12.5 12.5 0 1 0 -25 0M378.1 1167.2a12.5 12.5 0 1 0 25 0a12.5 12.5 0 1 0 -25 0M378.9 1167.2a12.5 12.5 0 1 0 25 0a12.5 12.5 0 1 0 -25 0M379.7 1167.2a12.5 12.5 0 1 0 25 0a12.5 12.5 0 1 0 -25 0M380.4 1167.2a12.5 12.5 0 1 0 25 0a12.5 12.5 0 1 0 -25 0M381.2 1167.2a12.5 12.5 0 1 0 25 0a12.5 12.5 0 1 0 -25 0M382 1167.2a12.5 12.5 0 1 0 25 0a12.5 12.5 0 1 0 -25 0M382.8 1167.2a12.5 12.5 0 1 0 25 0a12.5 12.5 0 1 0 -25 0M383.6 1167.2a12.5 12.5 0 1 0 25 0a12.5 12.5 0 1 0 -25 0M384.4 1167.2a12.5 12.5 0 1 0 25 0a12.5 12.5 0 1 0 -25 0M385.1 1167.2a12.5 12.5 0 1 0 25 0a12.5 12.5 0 1 0 -25 0M385.9 1167.2a12.5 12.5 0 1 0 25 0a12.5 12.5 0 1 0 -25 0M386.7 1167.2a12.5 12.5 0 1 0 25 0a12.5 12.5 0 1 0 -25 0M387.5 1167.2a12.5 12.5 0 1 0 25 0a12.5 12.5 0 1 0 -25 0M388.3 1167.2a12.5 12.5 0 1 0 25 0a12.5 12.5 0 1 0 -25 0M389.1 1167.2a12.5 12.5 0 1 0 25 0a12.5 12.5 0 1 0 -25 0M389.8 1167.2a12.5 12.5 0 1 0 25 0a12.5 12.5 0 1 0 -25 0M390.6 1167.2a12.5 12.5 0 1 0 25 0a12.5 12.5 0 1 0 -25 0M391.4 1167.2a12.5 12.5 0 1 0 25 0a12.5 12.5 0 1 0 -25 0M392.2 1167.2a12.5 12.5 0 1 0 25 0a12.5 12.5 0 1 0 -25 0M393 1165a12.5 12.5 0 1 0 25 0a12.5 12.5 0 1 0 -25 0M393.8 1167.1a12.5 12.5 0 1 0 25 0a12.5 12.5 0 1 0 -25 0M394.5 1165a12.5 12.5 0 1 0 25 0a12.5 12.5 0 1 0 -25 0M395.3 1167.1a12.5 12.5 0 1 0 25 0a12.5 12.5 0 1 0 -25 0M396.1 1165a12.5 12.5 0 1 0 25 0a12.5 12.5 0 1 0 -25 0M396.9 1167.1a12.5 12.5 0 1 0 25 0a12.5 12.5 0 1 0 -25 0M397.7 1165a12.5 12.5 0 1 0 25 0a12.5 12.5 0 1 0 -25 0M398.5 1167.1a12.5 12.5 0 1 0 25 0a12.5 12.5 0 1 0 -25 0M399.3 1165a12.5 12.5 0 1 0 25 0a12.5 12.5 0 1 0 -25 0M400 1167.1a12.5 12.5 0 1 0 25 0a12.5 12.5 0 1 0 -25 0M400.8 1165a12.5 12.5 0 1 0 25 0a12.5 12.5 0 1 0 -25 0M401.6 1167.1a12.5 12.5 0 1 0 25 0a12.5 12.5 0 1 0 -25 0M402.4 1165a12.5 12.5 0 1 0 25 0a12.5 12.5 0 1 0 -25 0M403.2 1167.1a12.5 12.5 0 1 0 25 0a12.5 12.5 0 1 0 -25 0M404 1165a12.5 12.5 0 1 0 25 0a12.5 12.5 0 1 0 -25 0M404.7 1167.1a12.5 12.5 0 1 0 25 0a12.5 12.5 0 1 0 -25 0M405.5 1165a12.5 12.5 0 1 0 25 0a12.5 12.5 0 1 0 -25 0M406.3 1167.1a12.5 12.5 0 1 0 25 0a12.5 12.5 0 1 0 -25 0M407.1 1165a12.5 12.5 0 1 0 25 0a12.5 12.5 0 1 0 -25 0M407.9 1167.2a12.5 12.5 0 1 0 25 0a12.5 12.5 0 1 0 -25 0M408.7 1165.6a12.5 12.5 0 1 0 25 0a12.5 12.5 0 1 0 -25 0M409.4 1167.2a12.5 12.5 0 1 0 25 0a12.5 12.5 0 1 0 -25 0M410.2 1166.5a12.5 12.5 0 1 0 25 0a12.5 12.5 0 1 0 -25 0M411 1167.2a12.5 12.5 0 1 0 25 0a12.5 12.5 0 1 0 -25 0M411.8 1167.2a12.5 12.5 0 1 0 25 0a12.5 12.5 0 1 0 -25 0M412.6 1167.2a12.5 12.5 0 1 0 25 0a12.5 12.5 0 1 0 -25 0M413.4 1167.2a12.5 12.5 0 1 0 25 0a12.5 12.5 0 1 0 -25 0M414.1 1167.2a12.5 12.5 0 1 0 25 0a12.5 12.5 0 1 0 -25 0M414.9 1167.2a12.5 12.5 0 1 0 25 0a12.5 12.5 0 1 0 -25 0M415.7 1167.2a12.5 12.5 0 1 0 25 0a12.5 12.5 0 1 0 -25 0M416.5 1167.2a12.5 12.5 0 1 0 25 0a12.5 12.5 0 1 0 -25 0M417.3 1167.2a12.5 12.5 0 1 0 25 0a12.5 12.5 0 1 0 -25 0M418.1 1167.2a12.5 12.5 0 1 0 25 0a12.5 12.5 0 1 0 -25 0M418.9 1167.2a12.5 12.5 0 1 0 25 0a12.5 12.5 0 1 0 -25 0M419.6 1167.2a12.5 12.5 0 1 0 25 0a12.5 12.5 0 1 0 -25 0M420.4 1167.2a12.5 12.5 0 1 0 25 0a12.5 12.5 0 1 0 -25 0M421.2 1167.2a12.5 12.5 0 1 0 25 0a12.5 12.5 0 1 0 -25 0M422 1167.2a12.5 12.5 0 1 0 25 0a12.5 12.5 0 1 0 -25 0M422.8 1167.2a12.5 12.5 0 1 0 25 0a12.5 12.5 0 1 0 -25 0M423.6 1167.2a12.5 12.5 0 1 0 25 0a12.5 12.5 0 1 0 -25 0M424.3 1167.2a12.5 12.5 0 1 0 25 0a12.5 12.5 0 1 0 -25 0M425.1 1167.2a12.5 12.5 0 1 0 25 0a12.5 12.5 0 1 0 -25 0M425.9 1167.2a12.5 12.5 0 1 0 25 0a12.5 12.5 0 1 0 -25 0M426.7 1167.2a12.5 12.5 0 1 0 25 0a12.5 12.5 0 1 0 -25 0M427.5 1167.2a12.5 12.5 0 1 0 25 0a12.5 12.5 0 1 0 -25 0M428.3 1167.2a12.5 12.5 0 1 0 25 0a12.5 12.5 0 1 0 -25 0M429 1167.2a12.5 12.5 0 1 0 25 0a12.5 12.5 0 1 0 -25 0M429.8 1167.2a12.5 12.5 0 1 0 25 0a12.5 12.5 0 1 0 -25 0M430.6 1167.2a12.5 12.5 0 1 0 25 0a12.5 12.5 0 1 0 -25 0M431.4 1167.2a12.5 12.5 0 1 0 25 0a12.5 12.5 0 1 0 -25 0M432.2 1167.2a12.5 12.5 0 1 0 25 0a12.5 12.5 0 1 0 -25 0M433 1167.2a12.5 12.5 0 1 0 25 0a12.5 12.5 0 1 0 -25 0M433.7 1167.2a12.5 12.5 0 1 0 25 0a12.5 12.5 0 1 0 -25 0M434.5 1167.2a12.5 12.5 0 1 0 25 0a12.5 12.5 0 1 0 -25 0M435.3 1167.2a12.5 12.5 0 1 0 25 0a12.5 12.5 0 1 0 -25 0M436.1 1167.2a12.5 12.5 0 1 0 25 0a12.5 12.5 0 1 0 -25 0M436.9 1167.2a12.5 12.5 0 1 0 25 0a12.5 12.5 0 1 0 -25 0M437.7 1167.2a12.5 12.5 0 1 0 25 0a12.5 12.5 0 1 0 -25 0M438.5 1167.2a12.5 12.5 0 1 0 25 0a12.5 12.5 0 1 0 -25 0M439.2 1167.2a12.5 12.5 0 1 0 25 0a12.5 12.5 0 1 0 -25 0M440 1167.2a12.5 12.5 0 1 0 25 0a12.5 12.5 0 1 0 -25 0M440.8 1167.2a12.5 12.5 0 1 0 25 0a12.5 12.5 0 1 0 -25 0M441.6 1167.2a12.5 12.5 0 1 0 25 0a12.5 12.5 0 1 0 -25 0M442.4 1167.2a12.5 12.5 0 1 0 25 0a12.5 12.5 0 1 0 -25 0M443.2 1167.2a12.5 12.5 0 1 0 25 0a12.5 12.5 0 1 0 -25 0M443.9 1167.2a12.5 12.5 0 1 0 25 0a12.5 12.5 0 1 0 -25 0M444.7 1167.2a12.5 12.5 0 1 0 25 0a12.5 12.5 0 1 0 -25 0M445.5 1167.2a12.5 12.5 0 1 0 25 0a12.5 12.5 0 1 0 -25 0M446.3 1167.2a12.5 12.5 0 1 0 25 0a12.5 12.5 0 1 0 -25 0M447.1 1167.2a12.5 12.5 0 1 0 25 0a12.5 12.5 0 1 0 -25 0M447.9 1167.2a12.5 12.5 0 1 0 25 0a12.5 12.5 0 1 0 -25 0M448.6 1167.2a12.5 12.5 0 1 0 25 0a12.5 12.5 0 1 0 -25 0M449.4 1167.2a12.5 12.5 0 1 0 25 0a12.5 12.5 0 1 0 -25 0M450.2 1167.2a12.5 12.5 0 1 0 25 0a12.5 12.5 0 1 0 -25 0M451 1167.2a12.5 12.5 0 1 0 25 0a12.5 12.5 0 1 0 -25 0M451.8 1167.2a12.5 12.5 0 1 0 25 0a12.5 12.5 0 1 0 -25 0M452.6 1167.2a12.5 12.5 0 1 0 25 0a12.5 12.5 0 1 0 -25 0M453.3 1167.2a12.5 12.5 0 1 0 25 0a12.5 12.5 0 1 0 -25 0M454.1 1167.2a12.5 12.5 0 1 0 25 0a12.5 12.5 0 1 0 -25 0M454.9 1167.2a12.5 12.5 0 1 0 25 0a12.5 12.5 0 1 0 -25 0M455.7 1167.2a12.5 12.5 0 1 0 25 0a12.5 12.5 0 1 0 -25 0M456.5 1167.2a12.5 12.5 0 1 0 25 0a12.5 12.5 0 1 0 -25 0M457.3 1167.2a12.5 12.5 0 1 0 25 0a12.5 12.5 0 1 0 -25 0M458.1 1167.2a12.5 12.5 0 1 0 25 0a12.5 12.5 0 1 0 -25 0M458.8 1167.2a12.5 12.5 0 1 0 25 0a12.5 12.5 0 1 0 -25 0M459.6 1167.2a12.5 12.5 0 1 0 25 0a12.5 12.5 0 1 0 -25 0M460.4 1167.2a12.5 12.5 0 1 0 25 0a12.5 12.5 0 1 0 -25 0M461.2 1167.2a12.5 12.5 0 1 0 25 0a12.5 12.5 0 1 0 -25 0M462 1167.2a12.5 12.5 0 1 0 25 0a12.5 12.5 0 1 0 -25 0M462.8 1167.2a12.5 12.5 0 1 0 25 0a12.5 12.5 0 1 0 -25 0M463.5 1167.1a12.5 12.5 0 1 0 25 0a12.5 12.5 0 1 0 -25 0M464.3 1167.2a12.5 12.5 0 1 0 25 0a12.5 12.5 0 1 0 -25 0M465.1 1166.8a12.5 12.5 0 1 0 25 0a12.5 12.5 0 1 0 -25 0M465.9 1167.2a12.5 12.5 0 1 0 25 0a12.5 12.5 0 1 0 -25 0M466.7 1166.3a12.5 12.5 0 1 0 25 0a12.5 12.5 0 1 0 -25 0M467.5 1167.2a12.5 12.5 0 1 0 25 0a12.5 12.5 0 1 0 -25 0M468.2 1165.7a12.5 12.5 0 1 0 25 0a12.5 12.5 0 1 0 -25 0M469 1167.2a12.5 12.5 0 1 0 25 0a12.5 12.5 0 1 0 -25 0M469.8 1164.9a12.5 12.5 0 1 0 25 0a12.5 12.5 0 1 0 -25 0M470.6 1166.5a12.5 12.5 0 1 0 25 0a12.5 12.5 0 1 0 -25 0M471.4 1164.1a12.5 12.5 0 1 0 25 0a12.5 12.5 0 1 0 -25 0M472.2 1165.7a12.5 12.5 0 1 0 25 0a12.5 12.5 0 1 0 -25 0M472.9 1163.3a12.5 12.5 0 1 0 25 0a12.5 12.5 0 1 0 -25 0M473.7 1165a12.5 12.5 0 1 0 25 0a12.5 12.5 0 1 0 -25 0M474.5 1162.7a12.5 12.5 0 1 0 25 0a12.5 12.5 0 1 0 -25 0M475.3 1164.5a12.5 12.5 0 1 0 25 0a12.5 12.5 0 1 0 -25 0M476.1 1162.2a12.5 12.5 0 1 0 25 0a12.5 12.5 0 1 0 -25 0M476.9 1164.1a12.5 12.5 0 1 0 25 0a12.5 12.5 0 1 0 -25 0M477.7 1161.9a12.5 12.5 0 1 0 25 0a12.5 12.5 0 1 0 -25 0M478.4 1164a12.5 12.5 0 1 0 25 0a12.5 12.5 0 1 0 -25 0M479.2 1161.9a12.5 12.5 0 1 0 25 0a12.5 12.5 0 1 0 -25 0M480 1164a12.5 12.5 0 1 0 25 0a12.5 12.5 0 1 0 -25 0M480.8 1161.9a12.5 12.5 0 1 0 25 0a12.5 12.5 0 1 0 -25 0M481.6 1164a12.5 12.5 0 1 0 25 0a12.5 12.5 0 1 0 -25 0M482.4 1161.9a12.5 12.5 0 1 0 25 0a12.5 12.5 0 1 0 -25 0M483.1 1164a12.5 12.5 0 1 0 25 0a12.5 12.5 0 1 0 -25 0M483.9 1161.9a12.5 12.5 0 1 0 25 0a12.5 12.5 0 1 0 -25 0M484.7 1164a12.5 12.5 0 1 0 25 0a12.5 12.5 0 1 0 -25 0M485.5 1161.9a12.5 12.5 0 1 0 25 0a12.5 12.5 0 1 0 -25 0M486.3 1164a12.5 12.5 0 1 0 25 0a12.5 12.5 0 1 0 -25 0M487.1 1161.9a12.5 12.5 0 1 0 25 0a12.5 12.5 0 1 0 -25 0M487.8 1164a12.5 12.5 0 1 0 25 0a12.5 12.5 0 1 0 -25 0M488.6 1161.9a12.5 12.5 0 1 0 25 0a12.5 12.5 0 1 0 -25 0M489.4 1164a12.5 12.5 0 1 0 25 0a12.5 12.5 0 1 0 -25 0M490.2 1161.9a12.5 12.5 0 1 0 25 0a12.5 12.5 0 1 0 -25 0M491 1164a12.5 12.5 0 1 0 25 0a12.5 12.5 0 1 0 -25 0M491.8 1161.9a12.5 12.5 0 1 0 25 0a12.5 12.5 0 1 0 -25 0M492.5 1164a12.5 12.5 0 1 0 25 0a12.5 12.5 0 1 0 -25 0M493.3 1161.9a12.5 12.5 0 1 0 25 0a12.5 12.5 0 1 0 -25 0M494.1 1164a12.5 12.5 0 1 0 25 0a12.5 12.5 0 1 0 -25 0M494.9 1161.9a12.5 12.5 0 1 0 25 0a12.5 12.5 0 1 0 -25 0M495.7 1164a12.5 12.5 0 1 0 25 0a12.5 12.5 0 1 0 -25 0M496.5 1161.9a12.5 12.5 0 1 0 25 0a12.5 12.5 0 1 0 -25 0M497.3 1164a12.5 12.5 0 1 0 25 0a12.5 12.5 0 1 0 -25 0M498 1161.9a12.5 12.5 0 1 0 25 0a12.5 12.5 0 1 0 -25 0M498.8 1164a12.5 12.5 0 1 0 25 0a12.5 12.5 0 1 0 -25 0M499.6 1162a12.5 12.5 0 1 0 25 0a12.5 12.5 0 1 0 -25 0M500.4 1164.1a12.5 12.5 0 1 0 25 0a12.5 12.5 0 1 0 -25 0M501.2 1162.3a12.5 12.5 0 1 0 25 0a12.5 12.5 0 1 0 -25 0M502 1164.5a12.5 12.5 0 1 0 25 0a12.5 12.5 0 1 0 -25 0M503.1 1162.9a12.5 12.5 0 1 0 25 0a12.5 12.5 0 1 0 -25 0M599.5 609a12.5 12.5 0 1 0 25 0a12.5 12.5 0 1 0 -25 0M600.3 1165.4a12.5 12.5 0 1 0 25 0a12.5 12.5 0 1 0 -25 0M601.1 1167.1a12.5 12.5 0 1 0 25 0a12.5 12.5 0 1 0 -25 0M601.9 1165a12.5 12.5 0 1 0 25 0a12.5 12.5 0 1 0 -25 0M602.7 1167.1a12.5 12.5 0 1 0 25 0a12.5 12.5 0 1 0 -25 0M603.4 1165a12.5 12.5 0 1 0 25 0a12.5 12.5 0 1 0 -25 0M604.2 1167.1a12.5 12.5 0 1 0 25 0a12.5 12.5 0 1 0 -25 0M605 1165a12.5 12.5 0 1 0 25 0a12.5 12.5 0 1 0 -25 0M605.8 1167.1a12.5 12.5 0 1 0 25 0a12.5 12.5 0 1 0 -25 0M606.6 1165a12.5 12.5 0 1 0 25 0a12.5 12.5 0 1 0 -25 0M607.4 1167.1a12.5 12.5 0 1 0 25 0a12.5 12.5 0 1 0 -25 0M608.1 1165.4a12.5 12.5 0 1 0 25 0a12.5 12.5 0 1 0 -25 0M608.9 1167.2a12.5 12.5 0 1 0 25 0a12.5 12.5 0 1 0 -25 0M609.7 1166.2a12.5 12.5 0 1 0 25 0a12.5 12.5 0 1 0 -25 0M610.5 1167.2a12.5 12.5 0 1 0 25 0a12.5 12.5 0 1 0 -25 0M611.3 1167a12.5 12.5 0 1 0 25 0a12.5 12.5 0 1 0 -25 0M612.1 1167.2a12.5 12.5 0 1 0 25 0a12.5 12.5 0 1 0 -25 0M612.8 1167.2a12.5 12.5 0 1 0 25 0a12.5 12.5 0 1 0 -25 0M613.6 1167.2a12.5 12.5 0 1 0 25 0a12.5 12.5 0 1 0 -25 0M614.4 1167.2a12.5 12.5 0 1 0 25 0a12.5 12.5 0 1 0 -25 0M615.2 1167.2a12.5 12.5 0 1 0 25 0a12.5 12.5 0 1 0 -25 0M616 1167.2a12.5 12.5 0 1 0 25 0a12.5 12.5 0 1 0 -25 0M616.8 1167.2a12.5 12.5 0 1 0 25 0a12.5 12.5 0 1 0 -25 0M617.5 1167.2a12.5 12.5 0 1 0 25 0a12.5 12.5 0 1 0 -25 0M618.3 1167.2a12.5 12.5 0 1 0 25 0a12.5 12.5 0 1 0 -25 0M619.1 1167.2a12.5 12.5 0 1 0 25 0a12.5 12.5 0 1 0 -25 0M619.9 1167.2a12.5 12.5 0 1 0 25 0a12.5 12.5 0 1 0 -25 0M620.7 1167.2a12.5 12.5 0 1 0 25 0a12.5 12.5 0 1 0 -25 0M621.5 1167.2a12.5 12.5 0 1 0 25 0a12.5 12.5 0 1 0 -25 0M622.3 1167.2a12.5 12.5 0 1 0 25 0a12.5 12.5 0 1 0 -25 0M623 1167.2a12.5 12.5 0 1 0 25 0a12.5 12.5 0 1 0 -25 0M623.8 1167.2a12.5 12.5 0 1 0 25 0a12.5 12.5 0 1 0 -25 0M624.6 1167.2a12.5 12.5 0 1 0 25 0a12.5 12.5 0 1 0 -25 0M625.4 1167.2a12.5 12.5 0 1 0 25 0a12.5 12.5 0 1 0 -25 0M626.5 1167.2a12.5 12.5 0 1 0 25 0a12.5 12.5 0 1 0 -25 0M688.5 810a12.5 12.5 0 1 0 25 0a12.5 12.5 0 1 0 -25 0M689.3 1165a12.5 12.5 0 1 0 25 0a12.5 12.5 0 1 0 -25 0M690.1 1167.1a12.5 12.5 0 1 0 25 0a12.5 12.5 0 1 0 -25 0M690.9 1165a12.5 12.5 0 1 0 25 0a12.5 12.5 0 1 0 -25 0M691.7 1167.1a12.5 12.5 0 1 0 25 0a12.5 12.5 0 1 0 -25 0M692.4 1165a12.5 12.5 0 1 0 25 0a12.5 12.5 0 1 0 -25 0M693.2 1167.1a12.5 12.5 0 1 0 25 0a12.5 12.5 0 1 0 -25 0M694 1165a12.5 12.5 0 1 0 25 0a12.5 12.5 0 1 0 -25 0M694.5 1165a12.5 12.5 0 1 0 25 0a12.5 12.5 0 1 0 -25 0M714.5 1055a12.5 12.5 0 1 0 25 0a12.5 12.5 0 1 0 -25 0M715.3 1167.1a12.5 12.5 0 1 0 25 0a12.5 12.5 0 1 0 -25 0M716.1 1167.2a12.5 12.5 0 1 0 25 0a12.5 12.5 0 1 0 -25 0M716.9 1167.2a12.5 12.5 0 1 0 25 0a12.5 12.5 0 1 0 -25 0M717.7 1167.2a12.5 12.5 0 1 0 25 0a12.5 12.5 0 1 0 -25 0M718.4 1167.2a12.5 12.5 0 1 0 25 0a12.5 12.5 0 1 0 -25 0M719.2 1167.2a12.5 12.5 0 1 0 25 0a12.5 12.5 0 1 0 -25 0M720 1167.2a12.5 12.5 0 1 0 25 0a12.5 12.5 0 1 0 -25 0M720.8 1167.2a12.5 12.5 0 1 0 25 0a12.5 12.5 0 1 0 -25 0M721.6 1167.2a12.5 12.5 0 1 0 25 0a12.5 12.5 0 1 0 -25 0M722.4 1167.2a12.5 12.5 0 1 0 25 0a12.5 12.5 0 1 0 -25 0M723.1 1167.2a12.5 12.5 0 1 0 25 0a12.5 12.5 0 1 0 -25 0M723.9 1167.2a12.5 12.5 0 1 0 25 0a12.5 12.5 0 1 0 -25 0M724.7 1167.2a12.5 12.5 0 1 0 25 0a12.5 12.5 0 1 0 -25 0M725.5 1167.2a12.5 12.5 0 1 0 25 0a12.5 12.5 0 1 0 -25 0M726.3 1167.2a12.5 12.5 0 1 0 25 0a12.5 12.5 0 1 0 -25 0M727.1 1167.2a12.5 12.5 0 1 0 25 0a12.5 12.5 0 1 0 -25 0M727.8 1167.2a12.5 12.5 0 1 0 25 0a12.5 12.5 0 1 0 -25 0M728.6 1167.2a12.5 12.5 0 1 0 25 0a12.5 12.5 0 1 0 -25 0M729.4 1167.2a12.5 12.5 0 1 0 25 0a12.5 12.5 0 1 0 -25 0M730.2 1167.2a12.5 12.5 0 1 0 25 0a12.5 12.5 0 1 0 -25 0M731 1167.2a12.5 12.5 0 1 0 25 0a12.5 12.5 0 1 0 -25 0M731.8 1167.2a12.5 12.5 0 1 0 25 0a12.5 12.5 0 1 0 -25 0M732.5 1167.2a12.5 12.5 0 1 0 25 0a12.5 12.5 0 1 0 -25 0M733.3 1167.2a12.5 12.5 0 1 0 25 0a12.5 12.5 0 1 0 -25 0M734.1 1167.2a12.5 12.5 0 1 0 25 0a12.5 12.5 0 1 0 -25 0M734.9 1167.2a12.5 12.5 0 1 0 25 0a12.5 12.5 0 1 0 -25 0M735.7 1167.2a12.5 12.5 0 1 0 25 0a12.5 12.5 0 1 0 -25 0M736.5 1167.2a12.5 12.5 0 1 0 25 0a12.5 12.5 0 1 0 -25 0M737.3 1167.2a12.5 12.5 0 1 0 25 0a12.5 12.5 0 1 0 -25 0M738 1167.2a12.5 12.5 0 1 0 25 0a12.5 12.5 0 1 0 -25 0M738.8 1167.2a12.5 12.5 0 1 0 25 0a12.5 12.5 0 1 0 -25 0M739.6 1167.2a12.5 12.5 0 1 0 25 0a12.5 12.5 0 1 0 -25 0M740.4 1167.2a12.5 12.5 0 1 0 25 0a12.5 12.5 0 1 0 -25 0M741.2 1167.2a12.5 12.5 0 1 0 25 0a12.5 12.5 0 1 0 -25 0M742 1167.2a12.5 12.5 0 1 0 25 0a12.5 12.5 0 1 0 -25 0M742.7 1167.2a12.5 12.5 0 1 0 25 0a12.5 12.5 0 1 0 -25 0M743.5 1167.2a12.5 12.5 0 1 0 25 0a12.5 12.5 0 1 0 -25 0M744.3 1167.2a12.5 12.5 0 1 0 25 0a12.5 12.5 0 1 0 -25 0M745.1 1167.2a12.5 12.5 0 1 0 25 0a12.5 12.5 0 1 0 -25 0M745.9 1167.2a12.5 12.5 0 1 0 25 0a12.5 12.5 0 1 0 -25 0M746.7 1167.2a12.5 12.5 0 1 0 25 0a12.5 12.5 0 1 0 -25 0M747.4 1167.2a12.5 12.5 0 1 0 25 0a12.5 12.5 0 1 0 -25 0M748.2 1167.2a12.5 12.5 0 1 0 25 0a12.5 12.5 0 1 0 -25 0M749 1167.2a12.5 12.5 0 1 0 25 0a12.5 12.5 0 1 0 -25 0M749.8 1167.2a12.5 12.5 0 1 0 25 0a12.5 12.5 0 1 0 -25 0M750.6 1167.2a12.5 12.5 0 1 0 25 0a12.5 12.5 0 1 0 -25 0M751.4 1167.2a12.5 12.5 0 1 0 25 0a12.5 12.5 0 1 0 -25 0M752.1 1167.2a12.5 12.5 0 1 0 25 0a12.5 12.5 0 1 0 -25 0M752.9 1167.2a12.5 12.5 0 1 0 25 0a12.5 12.5 0 1 0 -25 0M753.7 1167.2a12.5 12.5 0 1 0 25 0a12.5 12.5 0 1 0 -25 0M754.5 1167.2a12.5 12.5 0 1 0 25 0a12.5 12.5 0 1 0 -25 0M755.3 1167.2a12.5 12.5 0 1 0 25 0a12.5 12.5 0 1 0 -25 0M756.1 1167.2a12.5 12.5 0 1 0 25 0a12.5 12.5 0 1 0 -25 0M756.9 1167.2a12.5 12.5 0 1 0 25 0a12.5 12.5 0 1 0 -25 0M757.6 1167.1a12.5 12.5 0 1 0 25 0a12.5 12.5 0 1 0 -25 0M758.4 1167.2a12.5 12.5 0 1 0 25 0a12.5 12.5 0 1 0 -25 0M759.2 1166.2a12.5 12.5 0 1 0 25 0a12.5 12.5 0 1 0 -25 0M760 1167.2a12.5 12.5 0 1 0 25 0a12.5 12.5 0 1 0 -25 0M760.8 1165.4a12.5 12.5 0 1 0 25 0a12.5 12.5 0 1 0 -25 0M761.6 1167.1a12.5 12.5 0 1 0 25 0a12.5 12.5 0 1 0 -25 0M762.3 1165a12.5 12.5 0 1 0 25 0a12.5 12.5 0 1 0 -25 0M763.1 1167.1a12.5 12.5 0 1 0 25 0a12.5 12.5 0 1 0 -25 0M763.9 1165a12.5 12.5 0 1 0 25 0a12.5 12.5 0 1 0 -25 0M764.7 1167.1a12.5 12.5 0 1 0 25 0a12.5 12.5 0 1 0 -25 0M765.5 1165a12.5 12.5 0 1 0 25 0a12.5 12.5 0 1 0 -25 0M766.3 1167.1a12.5 12.5 0 1 0 25 0a12.5 12.5 0 1 0 -25 0M767 1165a12.5 12.5 0 1 0 25 0a12.5 12.5 0 1 0 -25 0M767.8 1167.1a12.5 12.5 0 1 0 25 0a12.5 12.5 0 1 0 -25 0M768.6 1165a12.5 12.5 0 1 0 25 0a12.5 12.5 0 1 0 -25 0M769.4 1167.1a12.5 12.5 0 1 0 25 0a12.5 12.5 0 1 0 -25 0M770.2 1165a12.5 12.5 0 1 0 25 0a12.5 12.5 0 1 0 -25 0M771 1167.1a12.5 12.5 0 1 0 25 0a12.5 12.5 0 1 0 -25 0M771.7 1165a12.5 12.5 0 1 0 25 0a12.5 12.5 0 1 0 -25 0M772.5 1167.1a12.5 12.5 0 1 0 25 0a12.5 12.5 0 1 0 -25 0M773.3 1165a12.5 12.5 0 1 0 25 0a12.5 12.5 0 1 0 -25 0M774.1 1167.1a12.5 12.5 0 1 0 25 0a12.5 12.5 0 1 0 -25 0M774.9 1165a12.5 12.5 0 1 0 25 0a12.5 12.5 0 1 0 -25 0M775.7 1167.1a12.5 12.5 0 1 0 25 0a12.5 12.5 0 1 0 -25 0M776.5 1165a12.5 12.5 0 1 0 25 0a12.5 12.5 0 1 0 -25 0M777.2 1167.1a12.5 12.5 0 1 0 25 0a12.5 12.5 0 1 0 -25 0M778.3 1165a12.5 12.5 0 1 0 25 0a12.5 12.5 0 1 0 -25 0M830.5 867a12.5 12.5 0 1 0 25 0a12.5 12.5 0 1 0 -25 0M831.3 1167.2a12.5 12.5 0 1 0 25 0a12.5 12.5 0 1 0 -25 0M832.1 1167.2a12.5 12.5 0 1 0 25 0a12.5 12.5 0 1 0 -25 0M832.9 1167.2a12.5 12.5 0 1 0 25 0a12.5 12.5 0 1 0 -25 0M833.7 1167.2a12.5 12.5 0 1 0 25 0a12.5 12.5 0 1 0 -25 0M834.4 1167.2a12.5 12.5 0 1 0 25 0a12.5 12.5 0 1 0 -25 0M835.2 1167.2a12.5 12.5 0 1 0 25 0a12.5 12.5 0 1 0 -25 0M836 1167.2a12.5 12.5 0 1 0 25 0a12.5 12.5 0 1 0 -25 0M836.8 1167.2a12.5 12.5 0 1 0 25 0a12.5 12.5 0 1 0 -25 0M837.6 1167.2a12.5 12.5 0 1 0 25 0a12.5 12.5 0 1 0 -25 0M838.4 1167.2a12.5 12.5 0 1 0 25 0a12.5 12.5 0 1 0 -25 0M839.1 1167.2a12.5 12.5 0 1 0 25 0a12.5 12.5 0 1 0 -25 0M839.9 1167.2a12.5 12.5 0 1 0 25 0a12.5 12.5 0 1 0 -25 0M840.7 1167.2a12.5 12.5 0 1 0 25 0a12.5 12.5 0 1 0 -25 0M841.5 1167.2a12.5 12.5 0 1 0 25 0a12.5 12.5 0 1 0 -25 0M842.3 1167.2a12.5 12.5 0 1 0 25 0a12.5 12.5 0 1 0 -25 0M843.1 1167.2a12.5 12.5 0 1 0 25 0a12.5 12.5 0 1 0 -25 0M843.8 1167.2a12.5 12.5 0 1 0 25 0a12.5 12.5 0 1 0 -25 0M844.6 1167.2a12.5 12.5 0 1 0 25 0a12.5 12.5 0 1 0 -25 0M845.4 1167.2a12.5 12.5 0 1 0 25 0a12.5 12.5 0 1 0 -25 0M846.2 1167.2a12.5 12.5 0 1 0 25 0a12.5 12.5 0 1 0 -25 0M847 1167.2a12.5 12.5 0 1 0 25 0a12.5 12.5 0 1 0 -25 0M847.8 1167.2a12.5 12.5 0 1 0 25 0a12.5 12.5 0 1 0 -25 0M848.5 1167.2a12.5 12.5 0 1 0 25 0a12.5 12.5 0 1 0 -25 0M849.4 1167.2a12.5 12.5 0 1 0 25 0a12.5 12.5 0 1 0 -25 0M867.5 1066a12.5 12.5 0 1 0 25 0a12.5 12.5 0 1 0 -25 0M868.3 1162.9a12.5 12.5 0 1 0 25 0a12.5 12.5 0 1 0 -25 0M869.1 1164.8a12.5 12.5 0 1 0 25 0a12.5 12.5 0 1 0 -25 0M869.9 1162.7a12.5 12.5 0 1 0 25 0a12.5 12.5 0 1 0 -25 0M870.7 1164.7a12.5 12.5 0 1 0 25 0a12.5 12.5 0 1 0 -25 0M871.4 1162.6a12.5 12.5 0 1 0 25 0a12.5 12.5 0 1 0 -25 0M872.2 1164.6a12.5 12.5 0 1 0 25 0a12.5 12.5 0 1 0 -25 0M873 1162.6a12.5 12.5 0 1 0 25 0a12.5 12.5 0 1 0 -25 0M873.8 1164.6a12.5 12.5 0 1 0 25 0a12.5 12.5 0 1 0 -25 0M874.6 1162.6a12.5 12.5 0 1 0 25 0a12.5 12.5 0 1 0 -25 0M875.4 1164.6a12.5 12.5 0 1 0 25 0a12.5 12.5 0 1 0 -25 0M876.1 1162.6a12.5 12.5 0 1 0 25 0a12.5 12.5 0 1 0 -25 0M876.9 1164.6a12.5 12.5 0 1 0 25 0a12.5 12.5 0 1 0 -25 0M877.7 1162.6a12.5 12.5 0 1 0 25 0a12.5 12.5 0 1 0 -25 0M878.5 1164.6a12.5 12.5 0 1 0 25 0a12.5 12.5 0 1 0 -25 0M879.3 1162.6a12.5 12.5 0 1 0 25 0a12.5 12.5 0 1 0 -25 0M880.1 1164.7a12.5 12.5 0 1 0 25 0a12.5 12.5 0 1 0 -25 0M880.8 1162.6a12.5 12.5 0 1 0 25 0a12.5 12.5 0 1 0 -25 0M881.6 1164.8a12.5 12.5 0 1 0 25 0a12.5 12.5 0 1 0 -25 0M882.4 1162.9a12.5 12.5 0 1 0 25 0a12.5 12.5 0 1 0 -25 0M883.2 1165.1a12.5 12.5 0 1 0 25 0a12.5 12.5 0 1 0 -25 0M884 1163.2a12.5 12.5 0 1 0 25 0a12.5 12.5 0 1 0 -25 0M884.8 1165.5a12.5 12.5 0 1 0 25 0a12.5 12.5 0 1 0 -25 0M885.5 1163.7a12.5 12.5 0 1 0 25 0a12.5 12.5 0 1 0 -25 0M886.3 1166.1a12.5 12.5 0 1 0 25 0a12.5 12.5 0 1 0 -25 0M887.1 1164.3a12.5 12.5 0 1 0 25 0a12.5 12.5 0 1 0 -25 0M887.9 1166.7a12.5 12.5 0 1 0 25 0a12.5 12.5 0 1 0 -25 0M888.7 1164.9a12.5 12.5 0 1 0 25 0a12.5 12.5 0 1 0 -25 0M889.5 1167.2a12.5 12.5 0 1 0 25 0a12.5 12.5 0 1 0 -25 0M890.3 1165.6a12.5 12.5 0 1 0 25 0a12.5 12.5 0 1 0 -25 0M891 1167.2a12.5 12.5 0 1 0 25 0a12.5 12.5 0 1 0 -25 0M891.8 1166.1a12.5 12.5 0 1 0 25 0a12.5 12.5 0 1 0 -25 0M892.6 1167.2a12.5 12.5 0 1 0 25 0a12.5 12.5 0 1 0 -25 0M893.4 1166.6a12.5 12.5 0 1 0 25 0a12.5 12.5 0 1 0 -25 0M894.2 1167.2a12.5 12.5 0 1 0 25 0a12.5 12.5 0 1 0 -25 0M895 1166.9a12.5 12.5 0 1 0 25 0a12.5 12.5 0 1 0 -25 0M895.7 1167.2a12.5 12.5 0 1 0 25 0a12.5 12.5 0 1 0 -25 0M896.5 1167.1a12.5 12.5 0 1 0 25 0a12.5 12.5 0 1 0 -25 0M897.3 1167.2a12.5 12.5 0 1 0 25 0a12.5 12.5 0 1 0 -25 0M898.1 1167.2a12.5 12.5 0 1 0 25 0a12.5 12.5 0 1 0 -25 0M898.9 1167.2a12.5 12.5 0 1 0 25 0a12.5 12.5 0 1 0 -25 0M899.7 1167.2a12.5 12.5 0 1 0 25 0a12.5 12.5 0 1 0 -25 0M900.4 1167.2a12.5 12.5 0 1 0 25 0a12.5 12.5 0 1 0 -25 0M901.2 1167.2a12.5 12.5 0 1 0 25 0a12.5 12.5 0 1 0 -25 0M902 1167.2a12.5 12.5 0 1 0 25 0a12.5 12.5 0 1 0 -25 0M902.8 1167.2a12.5 12.5 0 1 0 25 0a12.5 12.5 0 1 0 -25 0M903.6 1167.2a12.5 12.5 0 1 0 25 0a12.5 12.5 0 1 0 -25 0M904.4 1166.7a12.5 12.5 0 1 0 25 0a12.5 12.5 0 1 0 -25 0M905.1 1167.2a12.5 12.5 0 1 0 25 0a12.5 12.5 0 1 0 -25 0M905.9 1166a12.5 12.5 0 1 0 25 0a12.5 12.5 0 1 0 -25 0M906.7 1167.2a12.5 12.5 0 1 0 25 0a12.5 12.5 0 1 0 -25 0M907.5 1166a12.5 12.5 0 1 0 25 0a12.5 12.5 0 1 0 -25 0M908.3 1167.2a12.5 12.5 0 1 0 25 0a12.5 12.5 0 1 0 -25 0M909.1 1166a12.5 12.5 0 1 0 25 0a12.5 12.5 0 1 0 -25 0M909.9 1167.2a12.5 12.5 0 1 0 25 0a12.5 12.5 0 1 0 -25 0M910.6 1166a12.5 12.5 0 1 0 25 0a12.5 12.5 0 1 0 -25 0M911.4 1167.2a12.5 12.5 0 1 0 25 0a12.5 12.5 0 1 0 -25 0M912.2 1166a12.5 12.5 0 1 0 25 0a12.5 12.5 0 1 0 -25 0M913 1167.2a12.5 12.5 0 1 0 25 0a12.5 12.5 0 1 0 -25 0M913.8 1166a12.5 12.5 0 1 0 25 0a12.5 12.5 0 1 0 -25 0M914.6 1167.2a12.5 12.5 0 1 0 25 0a12.5 12.5 0 1 0 -25 0M915.3 1166a12.5 12.5 0 1 0 25 0a12.5 12.5 0 1 0 -25 0M916.1 1167.2a12.5 12.5 0 1 0 25 0a12.5 12.5 0 1 0 -25 0M916.9 1166a12.5 12.5 0 1 0 25 0a12.5 12.5 0 1 0 -25 0M917.7 1167.2a12.5 12.5 0 1 0 25 0a12.5 12.5 0 1 0 -25 0M918.5 1166a12.5 12.5 0 1 0 25 0a12.5 12.5 0 1 0 -25 0M919.3 1167.2a12.5 12.5 0 1 0 25 0a12.5 12.5 0 1 0 -25 0M920 1166a12.5 12.5 0 1 0 25 0a12.5 12.5 0 1 0 -25 0M920.8 1167.2a12.5 12.5 0 1 0 25 0a12.5 12.5 0 1 0 -25 0M921.6 1166a12.5 12.5 0 1 0 25 0a12.5 12.5 0 1 0 -25 0M922.4 1167.2a12.5 12.5 0 1 0 25 0a12.5 12.5 0 1 0 -25 0M923.2 1166a12.5 12.5 0 1 0 25 0a12.5 12.5 0 1 0 -25 0M923.8 1166a12.5 12.5 0 1 0 25 0a12.5 12.5 0 1 0 -25 0M928.5 1144a12.5 12.5 0 1 0 25 0a12.5 12.5 0 1 0 -25 0M929.3 1166a12.5 12.5 0 1 0 25 0a12.5 12.5 0 1 0 -25 0M930.1 1167.2a12.5 12.5 0 1 0 25 0a12.5 12.5 0 1 0 -25 0M930.9 1166a12.5 12.5 0 1 0 25 0a12.5 12.5 0 1 0 -25 0M931.7 1167.2a12.5 12.5 0 1 0 25 0a12.5 12.5 0 1 0 -25 0M932.4 1166a12.5 12.5 0 1 0 25 0a12.5 12.5 0 1 0 -25 0M933.2 1167.2a12.5 12.5 0 1 0 25 0a12.5 12.5 0 1 0 -25 0M934 1166a12.5 12.5 0 1 0 25 0a12.5 12.5 0 1 0 -25 0M934.8 1167.2a12.5 12.5 0 1 0 25 0a12.5 12.5 0 1 0 -25 0M935.6 1166a12.5 12.5 0 1 0 25 0a12.5 12.5 0 1 0 -25 0M936.4 1167.2a12.5 12.5 0 1 0 25 0a12.5 12.5 0 1 0 -25 0M937.1 1166a12.5 12.5 0 1 0 25 0a12.5 12.5 0 1 0 -25 0M937.9 1167.2a12.5 12.5 0 1 0 25 0a12.5 12.5 0 1 0 -25 0M938.7 1166a12.5 12.5 0 1 0 25 0a12.5 12.5 0 1 0 -25 0M939.5 1167.2a12.5 12.5 0 1 0 25 0a12.5 12.5 0 1 0 -25 0M940.3 1166a12.5 12.5 0 1 0 25 0a12.5 12.5 0 1 0 -25 0M941.1 1167.2a12.5 12.5 0 1 0 25 0a12.5 12.5 0 1 0 -25 0M941.8 1166a12.5 12.5 0 1 0 25 0a12.5 12.5 0 1 0 -25 0M942.6 1167.2a12.5 12.5 0 1 0 25 0a12.5 12.5 0 1 0 -25 0M943.4 1166a12.5 12.5 0 1 0 25 0a12.5 12.5 0 1 0 -25 0M944.2 1167.2a12.5 12.5 0 1 0 25 0a12.5 12.5 0 1 0 -25 0M945 1166a12.5 12.5 0 1 0 25 0a12.5 12.5 0 1 0 -25 0M945.8 1167.2a12.5 12.5 0 1 0 25 0a12.5 12.5 0 1 0 -25 0M946.5 1166a12.5 12.5 0 1 0 25 0a12.5 12.5 0 1 0 -25 0M947.3 1167.2a12.5 12.5 0 1 0 25 0a12.5 12.5 0 1 0 -25 0M948.1 1166a12.5 12.5 0 1 0 25 0a12.5 12.5 0 1 0 -25 0M948.9 1167.2a12.5 12.5 0 1 0 25 0a12.5 12.5 0 1 0 -25 0M949.7 1166a12.5 12.5 0 1 0 25 0a12.5 12.5 0 1 0 -25 0M950.5 1167.2a12.5 12.5 0 1 0 25 0a12.5 12.5 0 1 0 -25 0M951.3 1166a12.5 12.5 0 1 0 25 0a12.5 12.5 0 1 0 -25 0M952 1167.2a12.5 12.5 0 1 0 25 0a12.5 12.5 0 1 0 -25 0M952.8 1166a12.5 12.5 0 1 0 25 0a12.5 12.5 0 1 0 -25 0M953.6 1167.2a12.5 12.5 0 1 0 25 0a12.5 12.5 0 1 0 -25 0M954.4 1166a12.5 12.5 0 1 0 25 0a12.5 12.5 0 1 0 -25 0M955.2 1167.2a12.5 12.5 0 1 0 25 0a12.5 12.5 0 1 0 -25 0M956 1166a12.5 12.5 0 1 0 25 0a12.5 12.5 0 1 0 -25 0M956.7 1167.2a12.5 12.5 0 1 0 25 0a12.5 12.5 0 1 0 -25 0M957.5 1166a12.5 12.5 0 1 0 25 0a12.5 12.5 0 1 0 -25 0M958.3 1167.2a12.5 12.5 0 1 0 25 0a12.5 12.5 0 1 0 -25 0M959.1 1166a12.5 12.5 0 1 0 25 0a12.5 12.5 0 1 0 -25 0M959.9 1167.2a12.5 12.5 0 1 0 25 0a12.5 12.5 0 1 0 -25 0M960.7 1166a12.5 12.5 0 1 0 25 0a12.5 12.5 0 1 0 -25 0M961.4 1167.2a12.5 12.5 0 1 0 25 0a12.5 12.5 0 1 0 -25 0M962 1166a12.5 12.5 0 1 0 25 0a12.5 12.5 0 1 0 -25 0M969.5 1128a12.5 12.5 0 1 0 25 0a12.5 12.5 0 1 0 -25 0M970.3 1166a12.5 12.5 0 1 0 25 0a12.5 12.5 0 1 0 -25 0M971.1 1167.2a12.5 12.5 0 1 0 25 0a12.5 12.5 0 1 0 -25 0M971.9 1165.6a12.5 12.5 0 1 0 25 0a12.5 12.5 0 1 0 -25 0M972.7 1167.2a12.5 12.5 0 1 0 25 0a12.5 12.5 0 1 0 -25 0M973.4 1164.8a12.5 12.5 0 1 0 25 0a12.5 12.5 0 1 0 -25 0M974.2 1166.5a12.5 12.5 0 1 0 25 0a12.5 12.5 0 1 0 -25 0M975 1164a12.5 12.5 0 1 0 25 0a12.5 12.5 0 1 0 -25 0M975.8 1165.6a12.5 12.5 0 1 0 25 0a12.5 12.5 0 1 0 -25 0M976.6 1163.1a12.5 12.5 0 1 0 25 0a12.5 12.5 0 1 0 -25 0M977.4 1164.7a12.5 12.5 0 1 0 25 0a12.5 12.5 0 1 0 -25 0M978.1 1162.3a12.5 12.5 0 1 0 25 0a12.5 12.5 0 1 0 -25 0M978.9 1164.2a12.5 12.5 0 1 0 25 0a12.5 12.5 0 1 0 -25 0M979.7 1162a12.5 12.5 0 1 0 25 0a12.5 12.5 0 1 0 -25 0M980.5 1164a12.5 12.5 0 1 0 25 0a12.5 12.5 0 1 0 -25 0M981.3 1161.9a12.5 12.5 0 1 0 25 0a12.5 12.5 0 1 0 -25 0M982.1 1164a12.5 12.5 0 1 0 25 0a12.5 12.5 0 1 0 -25 0M982.8 1161.9a12.5 12.5 0 1 0 25 0a12.5 12.5 0 1 0 -25 0M983.6 1164.1a12.5 12.5 0 1 0 25 0a12.5 12.5 0 1 0 -25 0M984.4 1162.2a12.5 12.5 0 1 0 25 0a12.5 12.5 0 1 0 -25 0M985.2 1164.5a12.5 12.5 0 1 0 25 0a12.5 12.5 0 1 0 -25 0M986 1162.8a12.5 12.5 0 1 0 25 0a12.5 12.5 0 1 0 -25 0M986.8 1165.3a12.5 12.5 0 1 0 25 0a12.5 12.5 0 1 0 -25 0M987.5 1163.7a12.5 12.5 0 1 0 25 0a12.5 12.5 0 1 0 -25 0M988.3 1166.2a12.5 12.5 0 1 0 25 0a12.5 12.5 0 1 0 -25 0M989.1 1164.6a12.5 12.5 0 1 0 25 0a12.5 12.5 0 1 0 -25 0M989.9 1167.1a12.5 12.5 0 1 0 25 0a12.5 12.5 0 1 0 -25 0M990.7 1165.4a12.5 12.5 0 1 0 25 0a12.5 12.5 0 1 0 -25 0M991.5 1167.2a12.5 12.5 0 1 0 25 0a12.5 12.5 0 1 0 -25 0M992.3 1166.7a12.5 12.5 0 1 0 25 0a12.5 12.5 0 1 0 -25 0M993 1167.2a12.5 12.5 0 1 0 25 0a12.5 12.5 0 1 0 -25 0M993.8 1167.2a12.5 12.5 0 1 0 25 0a12.5 12.5 0 1 0 -25 0M994.6 1167.2a12.5 12.5 0 1 0 25 0a12.5 12.5 0 1 0 -25 0M995.4 1167.2a12.5 12.5 0 1 0 25 0a12.5 12.5 0 1 0 -25 0M996.2 1167.2a12.5 12.5 0 1 0 25 0a12.5 12.5 0 1 0 -25 0M997 1167.2a12.5 12.5 0 1 0 25 0a12.5 12.5 0 1 0 -25 0M997.7 1167.2a12.5 12.5 0 1 0 25 0a12.5 12.5 0 1 0 -25 0M998.5 1167.2a12.5 12.5 0 1 0 25 0a12.5 12.5 0 1 0 -25 0M999.3 1167.2a12.5 12.5 0 1 0 25 0a12.5 12.5 0 1 0 -25 0M1000.1 1167.2a12.5 12.5 0 1 0 25 0a12.5 12.5 0 1 0 -25 0M1000.9 1167.2a12.5 12.5 0 1 0 25 0a12.5 12.5 0 1 0 -25 0M1001.7 1167.2a12.5 12.5 0 1 0 25 0a12.5 12.5 0 1 0 -25 0M1002.4 1167.2a12.5 12.5 0 1 0 25 0a12.5 12.5 0 1 0 -25 0M1003.2 1167.2a12.5 12.5 0 1 0 25 0a12.5 12.5 0 1 0 -25 0M1004 1167.2a12.5 12.5 0 1 0 25 0a12.5 12.5 0 1 0 -25 0M1004.8 1167.2a12.5 12.5 0 1 0 25 0a12.5 12.5 0 1 0 -25 0M1005.6 1167.2a12.5 12.5 0 1 0 25 0a12.5 12.5 0 1 0 -25 0M1006.4 1167.2a12.5 12.5 0 1 0 25 0a12.5 12.5 0 1 0 -25 0M1007.1 1167.2a12.5 12.5 0 1 0 25 0a12.5 12.5 0 1 0 -25 0M1007.9 1167.2a12.5 12.5 0 1 0 25 0a12.5 12.5 0 1 0 -25 0M1008.7 1167.2a12.5 12.5 0 1 0 25 0a12.5 12.5 0 1 0 -25 0M1009.5 1167.2a12.5 12.5 0 1 0 25 0a12.5 12.5 0 1 0 -25 0M1010.3 1167.2a12.5 12.5 0 1 0 25 0a12.5 12.5 0 1 0 -25 0M1011.1 1167.2a12.5 12.5 0 1 0 25 0a12.5 12.5 0 1 0 -25 0M1011.9 1167.2a12.5 12.5 0 1 0 25 0a12.5 12.5 0 1 0 -25 0M1012.6 1167.2a12.5 12.5 0 1 0 25 0a12.5 12.5 0 1 0 -25 0M1013.4 1167.2a12.5 12.5 0 1 0 25 0a12.5 12.5 0 1 0 -25 0M1014.2 1167.2a12.5 12.5 0 1 0 25 0a12.5 12.5 0 1 0 -25 0M1015 1167.2a12.5 12.5 0 1 0 25 0a12.5 12.5 0 1 0 -25 0M1015.8 1167.2a12.5 12.5 0 1 0 25 0a12.5 12.5 0 1 0 -25 0M1016.6 1167.2a12.5 12.5 0 1 0 25 0a12.5 12.5 0 1 0 -25 0M1017.3 1167.2a12.5 12.5 0 1 0 25 0a12.5 12.5 0 1 0 -25 0M1018.1 1167.2a12.5 12.5 0 1 0 25 0a12.5 12.5 0 1 0 -25 0M1018.9 1167.2a12.5 12.5 0 1 0 25 0a12.5 12.5 0 1 0 -25 0M1019.7 1167.2a12.5 12.5 0 1 0 25 0a12.5 12.5 0 1 0 -25 0M1020.1 1167.2a12.5 12.5 0 1 0 25 0a12.5 12.5 0 1 0 -25 0M1024.5 1146a12.5 12.5 0 1 0 25 0a12.5 12.5 0 1 0 -25 0M1025.3 1167.2a12.5 12.5 0 1 0 25 0a12.5 12.5 0 1 0 -25 0M1026.1 1167.2a12.5 12.5 0 1 0 25 0a12.5 12.5 0 1 0 -25 0M1026.9 1167.2a12.5 12.5 0 1 0 25 0a12.5 12.5 0 1 0 -25 0M1027.7 1167.2a12.5 12.5 0 1 0 25 0a12.5 12.5 0 1 0 -25 0M1028.4 1167.2a12.5 12.5 0 1 0 25 0a12.5 12.5 0 1 0 -25 0M1029.2 1167.2a12.5 12.5 0 1 0 25 0a12.5 12.5 0 1 0 -25 0M1030 1167.2a12.5 12.5 0 1 0 25 0a12.5 12.5 0 1 0 -25 0M1030.8 1167.2a12.5 12.5 0 1 0 25 0a12.5 12.5 0 1 0 -25 0M1031.6 1167.2a12.5 12.5 0 1 0 25 0a12.5 12.5 0 1 0 -25 0M1032.4 1167.2a12.5 12.5 0 1 0 25 0a12.5 12.5 0 1 0 -25 0M1033.1 1167.2a12.5 12.5 0 1 0 25 0a12.5 12.5 0 1 0 -25 0M1033.9 1167.2a12.5 12.5 0 1 0 25 0a12.5 12.5 0 1 0 -25 0M1034.7 1167.2a12.5 12.5 0 1 0 25 0a12.5 12.5 0 1 0 -25 0M1035.5 1167.2a12.5 12.5 0 1 0 25 0a12.5 12.5 0 1 0 -25 0M1036.3 1167.2a12.5 12.5 0 1 0 25 0a12.5 12.5 0 1 0 -25 0M1037.1 1167.2a12.5 12.5 0 1 0 25 0a12.5 12.5 0 1 0 -25 0M1037.8 1167.2a12.5 12.5 0 1 0 25 0a12.5 12.5 0 1 0 -25 0M1038.6 1167.2a12.5 12.5 0 1 0 25 0a12.5 12.5 0 1 0 -25 0M1039.4 1167.2a12.5 12.5 0 1 0 25 0a12.5 12.5 0 1 0 -25 0M1040.2 1167.2a12.5 12.5 0 1 0 25 0a12.5 12.5 0 1 0 -25 0M1041 1167.2a12.5 12.5 0 1 0 25 0a12.5 12.5 0 1 0 -25 0M1041.8 1167.2a12.5 12.5 0 1 0 25 0a12.5 12.5 0 1 0 -25 0M1042.5 1167.2a12.5 12.5 0 1 0 25 0a12.5 12.5 0 1 0 -25 0M1043.3 1167.2a12.5 12.5 0 1 0 25 0a12.5 12.5 0 1 0 -25 0M1044.1 1167.2a12.5 12.5 0 1 0 25 0a12.5 12.5 0 1 0 -25 0M1044.9 1167.2a12.5 12.5 0 1 0 25 0a12.5 12.5 0 1 0 -25 0M1045.7 1167.2a12.5 12.5 0 1 0 25 0a12.5 12.5 0 1 0 -25 0M1046.5 1167.2a12.5 12.5 0 1 0 25 0a12.5 12.5 0 1 0 -25 0M1047.3 1167.2a12.5 12.5 0 1 0 25 0a12.5 12.5 0 1 0 -25 0M1048 1167.2a12.5 12.5 0 1 0 25 0a12.5 12.5 0 1 0 -25 0M1048.8 1167.2a12.5 12.5 0 1 0 25 0a12.5 12.5 0 1 0 -25 0M1049.6 1167.2a12.5 12.5 0 1 0 25 0a12.5 12.5 0 1 0 -25 0M1050.4 1167.2a12.5 12.5 0 1 0 25 0a12.5 12.5 0 1 0 -25 0M1051.2 1167.2a12.5 12.5 0 1 0 25 0a12.5 12.5 0 1 0 -25 0M1052 1167.2a12.5 12.5 0 1 0 25 0a12.5 12.5 0 1 0 -25 0M1052.7 1167.2a12.5 12.5 0 1 0 25 0a12.5 12.5 0 1 0 -25 0M1053.5 1167.2a12.5 12.5 0 1 0 25 0a12.5 12.5 0 1 0 -25 0M1054.3 1167.2a12.5 12.5 0 1 0 25 0a12.5 12.5 0 1 0 -25 0M1055.1 1167.2a12.5 12.5 0 1 0 25 0a12.5 12.5 0 1 0 -25 0M1055.9 1167.2a12.5 12.5 0 1 0 25 0a12.5 12.5 0 1 0 -25 0M1056.7 1167.2a12.5 12.5 0 1 0 25 0a12.5 12.5 0 1 0 -25 0M1057.4 1167.2a12.5 12.5 0 1 0 25 0a12.5 12.5 0 1 0 -25 0M1058.2 1167.2a12.5 12.5 0 1 0 25 0a12.5 12.5 0 1 0 -25 0M1059 1167.2a12.5 12.5 0 1 0 25 0a12.5 12.5 0 1 0 -25 0M1059.8 1167.2a12.5 12.5 0 1 0 25 0a12.5 12.5 0 1 0 -25 0M1060.6 1167.2a12.5 12.5 0 1 0 25 0a12.5 12.5 0 1 0 -25 0M1061.4 1167.2a12.5 12.5 0 1 0 25 0a12.5 12.5 0 1 0 -25 0M1062.1 1167.2a12.5 12.5 0 1 0 25 0a12.5 12.5 0 1 0 -25 0M1062.9 1167.2a12.5 12.5 0 1 0 25 0a12.5 12.5 0 1 0 -25 0M1063.7 1167.2a12.5 12.5 0 1 0 25 0a12.5 12.5 0 1 0 -25 0M1064.5 1167.2a12.5 12.5 0 1 0 25 0a12.5 12.5 0 1 0 -25 0M1065.3 1167.2a12.5 12.5 0 1 0 25 0a12.5 12.5 0 1 0 -25 0M1066.1 1167.2a12.5 12.5 0 1 0 25 0a12.5 12.5 0 1 0 -25 0M1066.9 1167.2a12.5 12.5 0 1 0 25 0a12.5 12.5 0 1 0 -25 0M1067.6 1167.2a12.5 12.5 0 1 0 25 0a12.5 12.5 0 1 0 -25 0M1068.4 1167.2a12.5 12.5 0 1 0 25 0a12.5 12.5 0 1 0 -25 0M1069.2 1167.2a12.5 12.5 0 1 0 25 0a12.5 12.5 0 1 0 -25 0M1070 1167.2a12.5 12.5 0 1 0 25 0a12.5 12.5 0 1 0 -25 0M1070.8 1167.2a12.5 12.5 0 1 0 25 0a12.5 12.5 0 1 0 -25 0M1071.6 1167.2a12.5 12.5 0 1 0 25 0a12.5 12.5 0 1 0 -25 0M1072.3 1167.2a12.5 12.5 0 1 0 25 0a12.5 12.5 0 1 0 -25 0M1073.1 1167.2a12.5 12.5 0 1 0 25 0a12.5 12.5 0 1 0 -25 0M1073.9 1167.2a12.5 12.5 0 1 0 25 0a12.5 12.5 0 1 0 -25 0M1074.7 1167.2a12.5 12.5 0 1 0 25 0a12.5 12.5 0 1 0 -25 0M1075.5 1167.2a12.5 12.5 0 1 0 25 0a12.5 12.5 0 1 0 -25 0M1076.3 1167.2a12.5 12.5 0 1 0 25 0a12.5 12.5 0 1 0 -25 0M1077 1167.2a12.5 12.5 0 1 0 25 0a12.5 12.5 0 1 0 -25 0M1077.8 1167.2a12.5 12.5 0 1 0 25 0a12.5 12.5 0 1 0 -25 0M1078.6 1167a12.5 12.5 0 1 0 25 0a12.5 12.5 0 1 0 -25 0M1079.4 1167.2a12.5 12.5 0 1 0 25 0a12.5 12.5 0 1 0 -25 0M1080.2 1166.5a12.5 12.5 0 1 0 25 0a12.5 12.5 0 1 0 -25 0M1081 1167.2a12.5 12.5 0 1 0 25 0a12.5 12.5 0 1 0 -25 0M1081.7 1165.7a12.5 12.5 0 1 0 25 0a12.5 12.5 0 1 0 -25 0M1082.5 1167.2a12.5 12.5 0 1 0 25 0a12.5 12.5 0 1 0 -25 0M1083.3 1164.7a12.5 12.5 0 1 0 25 0a12.5 12.5 0 1 0 -25 0M1084.1 1166.2a12.5 12.5 0 1 0 25 0a12.5 12.5 0 1 0 -25 0M1084.9 1163.6a12.5 12.5 0 1 0 25 0a12.5 12.5 0 1 0 -25 0M1085.7 1165.2a12.5 12.5 0 1 0 25 0a12.5 12.5 0 1 0 -25 0M1086.5 1162.7a12.5 12.5 0 1 0 25 0a12.5 12.5 0 1 0 -25 0M1087.2 1164.4a12.5 12.5 0 1 0 25 0a12.5 12.5 0 1 0 -25 0M1088 1162.1a12.5 12.5 0 1 0 25 0a12.5 12.5 0 1 0 -25 0M1088.8 1164a12.5 12.5 0 1 0 25 0a12.5 12.5 0 1 0 -25 0M1089.6 1161.9a12.5 12.5 0 1 0 25 0a12.5 12.5 0 1 0 -25 0M1090.4 1164a12.5 12.5 0 1 0 25 0a12.5 12.5 0 1 0 -25 0M1091.2 1161.9a12.5 12.5 0 1 0 25 0a12.5 12.5 0 1 0 -25 0M1091.9 1164a12.5 12.5 0 1 0 25 0a12.5 12.5 0 1 0 -25 0M1092.7 1161.9a12.5 12.5 0 1 0 25 0a12.5 12.5 0 1 0 -25 0M1093.5 1164a12.5 12.5 0 1 0 25 0a12.5 12.5 0 1 0 -25 0M1094.3 1162a12.5 12.5 0 1 0 25 0a12.5 12.5 0 1 0 -25 0M1095.1 1164.2a12.5 12.5 0 1 0 25 0a12.5 12.5 0 1 0 -25 0M1095.9 1162.4a12.5 12.5 0 1 0 25 0a12.5 12.5 0 1 0 -25 0M1096.6 1164.8a12.5 12.5 0 1 0 25 0a12.5 12.5 0 1 0 -25 0M1097.4 1163.2a12.5 12.5 0 1 0 25 0a12.5 12.5 0 1 0 -25 0M1098.2 1165.7a12.5 12.5 0 1 0 25 0a12.5 12.5 0 1 0 -25 0M1099 1164.2a12.5 12.5 0 1 0 25 0a12.5 12.5 0 1 0 -25 0M1099.8 1166.8a12.5 12.5 0 1 0 25 0a12.5 12.5 0 1 0 -25 0M1100.6 1165.3a12.5 12.5 0 1 0 25 0a12.5 12.5 0 1 0 -25 0M1101.3 1167.2a12.5 12.5 0 1 0 25 0a12.5 12.5 0 1 0 -25 0M1102.1 1166.2a12.5 12.5 0 1 0 25 0a12.5 12.5 0 1 0 -25 0M1102.9 1167.2a12.5 12.5 0 1 0 25 0a12.5 12.5 0 1 0 -25 0M1103.7 1166.9a12.5 12.5 0 1 0 25 0a12.5 12.5 0 1 0 -25 0M1104.5 1167.2a12.5 12.5 0 1 0 25 0a12.5 12.5 0 1 0 -25 0M1105.3 1166.3a12.5 12.5 0 1 0 25 0a12.5 12.5 0 1 0 -25 0M1106.1 1167.2a12.5 12.5 0 1 0 25 0a12.5 12.5 0 1 0 -25 0M1106.8 1165a12.5 12.5 0 1 0 25 0a12.5 12.5 0 1 0 -25 0M1107.6 1167.1a12.5 12.5 0 1 0 25 0a12.5 12.5 0 1 0 -25 0M1108.4 1165a12.5 12.5 0 1 0 25 0a12.5 12.5 0 1 0 -25 0M1109.2 1167.1a12.5 12.5 0 1 0 25 0a12.5 12.5 0 1 0 -25 0M1109.9 1165a12.5 12.5 0 1 0 25 0a12.5 12.5 0 1 0 -25 0M1147.5 952a12.5 12.5 0 1 0 25 0a12.5 12.5 0 1 0 -25 0M1148.3 1167.2a12.5 12.5 0 1 0 25 0a12.5 12.5 0 1 0 -25 0M1149.1 1167.2a12.5 12.5 0 1 0 25 0a12.5 12.5 0 1 0 -25 0M1149.9 1167.2a12.5 12.5 0 1 0 25 0a12.5 12.5 0 1 0 -25 0M1150.7 1167.2a12.5 12.5 0 1 0 25 0a12.5 12.5 0 1 0 -25 0M1151.4 1167.2a12.5 12.5 0 1 0 25 0a12.5 12.5 0 1 0 -25 0M1152.2 1167.2a12.5 12.5 0 1 0 25 0a12.5 12.5 0 1 0 -25 0M1153 1167.2a12.5 12.5 0 1 0 25 0a12.5 12.5 0 1 0 -25 0M1153.8 1167.2a12.5 12.5 0 1 0 25 0a12.5 12.5 0 1 0 -25 0M1154.6 1167.2a12.5 12.5 0 1 0 25 0a12.5 12.5 0 1 0 -25 0M1155.4 1167.2a12.5 12.5 0 1 0 25 0a12.5 12.5 0 1 0 -25 0M1156.1 1167.2a12.5 12.5 0 1 0 25 0a12.5 12.5 0 1 0 -25 0M1156.9 1167.2a12.5 12.5 0 1 0 25 0a12.5 12.5 0 1 0 -25 0M1157.7 1167.2a12.5 12.5 0 1 0 25 0a12.5 12.5 0 1 0 -25 0M1158.5 1167.2a12.5 12.5 0 1 0 25 0a12.5 12.5 0 1 0 -25 0M1159.3 1167.2a12.5 12.5 0 1 0 25 0a12.5 12.5 0 1 0 -25 0M1160.1 1167.2a12.5 12.5 0 1 0 25 0a12.5 12.5 0 1 0 -25 0M1160.6 1167.2a12.5 12.5 0 1 0 25 0a12.5 12.5 0 1 0 -25 0M1170.5 1114a12.5 12.5 0 1 0 25 0a12.5 12.5 0 1 0 -25 0M1171.3 1165a12.5 12.5 0 1 0 25 0a12.5 12.5 0 1 0 -25 0M1172.1 1167.1a12.5 12.5 0 1 0 25 0a12.5 12.5 0 1 0 -25 0M1172.9 1165a12.5 12.5 0 1 0 25 0a12.5 12.5 0 1 0 -25 0M1174 1165a12.5 12.5 0 1 0 25 0a12.5 12.5 0 1 0 -25 0M1217.5 918a12.5 12.5 0 1 0 25 0a12.5 12.5 0 1 0 -25 0M1218.3 1167.2a12.5 12.5 0 1 0 25 0a12.5 12.5 0 1 0 -25 0M1219.1 1167.2a12.5 12.5 0 1 0 25 0a12.5 12.5 0 1 0 -25 0M1219.9 1167.2a12.5 12.5 0 1 0 25 0a12.5 12.5 0 1 0 -25 0M1220.7 1167.2a12.5 12.5 0 1 0 25 0a12.5 12.5 0 1 0 -25 0M1221.4 1167.2a12.5 12.5 0 1 0 25 0a12.5 12.5 0 1 0 -25 0M1222.2 1167.2a12.5 12.5 0 1 0 25 0a12.5 12.5 0 1 0 -25 0M1223 1167.2a12.5 12.5 0 1 0 25 0a12.5 12.5 0 1 0 -25 0M1223.8 1167.2a12.5 12.5 0 1 0 25 0a12.5 12.5 0 1 0 -25 0M1224.6 1167.2a12.5 12.5 0 1 0 25 0a12.5 12.5 0 1 0 -25 0M1225.4 1167.2a12.5 12.5 0 1 0 25 0a12.5 12.5 0 1 0 -25 0M1226.1 1167.2a12.5 12.5 0 1 0 25 0a12.5 12.5 0 1 0 -25 0M1226.9 1167.2a12.5 12.5 0 1 0 25 0a12.5 12.5 0 1 0 -25 0M1227.7 1167.2a12.5 12.5 0 1 0 25 0a12.5 12.5 0 1 0 -25 0M1228.5 1167.2a12.5 12.5 0 1 0 25 0a12.5 12.5 0 1 0 -25 0M1229.3 1167.2a12.5 12.5 0 1 0 25 0a12.5 12.5 0 1 0 -25 0M1230.1 1167.2a12.5 12.5 0 1 0 25 0a12.5 12.5 0 1 0 -25 0M1230.8 1167.2a12.5 12.5 0 1 0 25 0a12.5 12.5 0 1 0 -25 0M1231.6 1167.2a12.5 12.5 0 1 0 25 0a12.5 12.5 0 1 0 -25 0M1232.4 1167.2a12.5 12.5 0 1 0 25 0a12.5 12.5 0 1 0 -25 0M1233.2 1167.2a12.5 12.5 0 1 0 25 0a12.5 12.5 0 1 0 -25 0M1234 1167.2a12.5 12.5 0 1 0 25 0a12.5 12.5 0 1 0 -25 0M1234.8 1167.2a12.5 12.5 0 1 0 25 0a12.5 12.5 0 1 0 -25 0M1235.5 1167.2a12.5 12.5 0 1 0 25 0a12.5 12.5 0 1 0 -25 0M1236.3 1167.2a12.5 12.5 0 1 0 25 0a12.5 12.5 0 1 0 -25 0M1237.1 1167.2a12.5 12.5 0 1 0 25 0a12.5 12.5 0 1 0 -25 0M1237.9 1167.2a12.5 12.5 0 1 0 25 0a12.5 12.5 0 1 0 -25 0M1238.7 1167.2a12.5 12.5 0 1 0 25 0a12.5 12.5 0 1 0 -25 0M1239.5 1167.2a12.5 12.5 0 1 0 25 0a12.5 12.5 0 1 0 -25 0M1241.5 1160a12.5 12.5 0 1 0 25 0a12.5 12.5 0 1 0 -25 0M1242.3 1167.2a12.5 12.5 0 1 0 25 0a12.5 12.5 0 1 0 -25 0M1243.1 1167.2a12.5 12.5 0 1 0 25 0a12.5 12.5 0 1 0 -25 0M1243.9 1167.2a12.5 12.5 0 1 0 25 0a12.5 12.5 0 1 0 -25 0M1244.7 1167.2a12.5 12.5 0 1 0 25 0a12.5 12.5 0 1 0 -25 0M1245.4 1167.2a12.5 12.5 0 1 0 25 0a12.5 12.5 0 1 0 -25 0M1246.2 1167.2a12.5 12.5 0 1 0 25 0a12.5 12.5 0 1 0 -25 0M1247 1167.2a12.5 12.5 0 1 0 25 0a12.5 12.5 0 1 0 -25 0M1247.8 1167.2a12.5 12.5 0 1 0 25 0a12.5 12.5 0 1 0 -25 0M1248.6 1167.2a12.5 12.5 0 1 0 25 0a12.5 12.5 0 1 0 -25 0M1249.4 1167.2a12.5 12.5 0 1 0 25 0a12.5 12.5 0 1 0 -25 0M1250.1 1167.2a12.5 12.5 0 1 0 25 0a12.5 12.5 0 1 0 -25 0M1250.9 1167.2a12.5 12.5 0 1 0 25 0a12.5 12.5 0 1 0 -25 0M1251.7 1167.2a12.5 12.5 0 1 0 25 0a12.5 12.5 0 1 0 -25 0M1252.5 1167.2a12.5 12.5 0 1 0 25 0a12.5 12.5 0 1 0 -25 0M1253.3 1167.2a12.5 12.5 0 1 0 25 0a12.5 12.5 0 1 0 -25 0M1254.1 1167.2a12.5 12.5 0 1 0 25 0a12.5 12.5 0 1 0 -25 0M1254.8 1167.2a12.5 12.5 0 1 0 25 0a12.5 12.5 0 1 0 -25 0M1255.6 1167.2a12.5 12.5 0 1 0 25 0a12.5 12.5 0 1 0 -25 0M1256.4 1167.2a12.5 12.5 0 1 0 25 0a12.5 12.5 0 1 0 -25 0M1257.2 1167.2a12.5 12.5 0 1 0 25 0a12.5 12.5 0 1 0 -25 0M1258 1167.2a12.5 12.5 0 1 0 25 0a12.5 12.5 0 1 0 -25 0M1258.8 1167.2a12.5 12.5 0 1 0 25 0a12.5 12.5 0 1 0 -25 0M1259.5 1167.2a12.5 12.5 0 1 0 25 0a12.5 12.5 0 1 0 -25 0M1260.3 1167.2a12.5 12.5 0 1 0 25 0a12.5 12.5 0 1 0 -25 0M1261.1 1167.2a12.5 12.5 0 1 0 25 0a12.5 12.5 0 1 0 -25 0M1261.9 1167.2a12.5 12.5 0 1 0 25 0a12.5 12.5 0 1 0 -25 0M1262.7 1167.2a12.5 12.5 0 1 0 25 0a12.5 12.5 0 1 0 -25 0M1263.5 1167.2a12.5 12.5 0 1 0 25 0a12.5 12.5 0 1 0 -25 0M1264.3 1167.2a12.5 12.5 0 1 0 25 0a12.5 12.5 0 1 0 -25 0M1265 1167.2a12.5 12.5 0 1 0 25 0a12.5 12.5 0 1 0 -25 0M1265.8 1167.2a12.5 12.5 0 1 0 25 0a12.5 12.5 0 1 0 -25 0M1266.6 1167.2a12.5 12.5 0 1 0 25 0a12.5 12.5 0 1 0 -25 0M1267.4 1167.2a12.5 12.5 0 1 0 25 0a12.5 12.5 0 1 0 -25 0M1268.2 1167.2a12.5 12.5 0 1 0 25 0a12.5 12.5 0 1 0 -25 0M1269 1167.2a12.5 12.5 0 1 0 25 0a12.5 12.5 0 1 0 -25 0M1269.7 1167.2a12.5 12.5 0 1 0 25 0a12.5 12.5 0 1 0 -25 0M1270.5 1167.2a12.5 12.5 0 1 0 25 0a12.5 12.5 0 1 0 -25 0M1271.3 1167.2a12.5 12.5 0 1 0 25 0a12.5 12.5 0 1 0 -25 0M1272.1 1167.2a12.5 12.5 0 1 0 25 0a12.5 12.5 0 1 0 -25 0M1272.9 1167.2a12.5 12.5 0 1 0 25 0a12.5 12.5 0 1 0 -25 0M1273.7 1167.2a12.5 12.5 0 1 0 25 0a12.5 12.5 0 1 0 -25 0M1274.4 1167.2a12.5 12.5 0 1 0 25 0a12.5 12.5 0 1 0 -25 0M1275.2 1167.2a12.5 12.5 0 1 0 25 0a12.5 12.5 0 1 0 -25 0M1276 1167.2a12.5 12.5 0 1 0 25 0a12.5 12.5 0 1 0 -25 0M1276.8 1167.2a12.5 12.5 0 1 0 25 0a12.5 12.5 0 1 0 -25 0M1277.6 1167.2a12.5 12.5 0 1 0 25 0a12.5 12.5 0 1 0 -25 0M1278.4 1167.2a12.5 12.5 0 1 0 25 0a12.5 12.5 0 1 0 -25 0M1279.5 1167.2a12.5 12.5 0 1 0 25 0a12.5 12.5 0 1 0 -25 0M1412.5 396a12.5 12.5 0 1 0 25 0a12.5 12.5 0 1 0 -25 0M1413.3 1167.2a12.5 12.5 0 1 0 25 0a12.5 12.5 0 1 0 -25 0M1414.1 1167.2a12.5 12.5 0 1 0 25 0a12.5 12.5 0 1 0 -25 0M1414.9 1167.2a12.5 12.5 0 1 0 25 0a12.5 12.5 0 1 0 -25 0M1415.7 1167.2a12.5 12.5 0 1 0 25 0a12.5 12.5 0 1 0 -25 0M1416.4 1167.2a12.5 12.5 0 1 0 25 0a12.5 12.5 0 1 0 -25 0M1417.2 1167.2a12.5 12.5 0 1 0 25 0a12.5 12.5 0 1 0 -25 0M1418 1167.2a12.5 12.5 0 1 0 25 0a12.5 12.5 0 1 0 -25 0M1418.8 1167.2a12.5 12.5 0 1 0 25 0a12.5 12.5 0 1 0 -25 0M1419.6 1167.2a12.5 12.5 0 1 0 25 0a12.5 12.5 0 1 0 -25 0M1420.4 1167.2a12.5 12.5 0 1 0 25 0a12.5 12.5 0 1 0 -25 0M1421.1 1167.2a12.5 12.5 0 1 0 25 0a12.5 12.5 0 1 0 -25 0M1421.9 1167.2a12.5 12.5 0 1 0 25 0a12.5 12.5 0 1 0 -25 0M1422.7 1167.2a12.5 12.5 0 1 0 25 0a12.5 12.5 0 1 0 -25 0M1423.5 1167.2a12.5 12.5 0 1 0 25 0a12.5 12.5 0 1 0 -25 0M1424.3 1167.2a12.5 12.5 0 1 0 25 0a12.5 12.5 0 1 0 -25 0M1425.1 1167.2a12.5 12.5 0 1 0 25 0a12.5 12.5 0 1 0 -25 0M1425.8 1167.2a12.5 12.5 0 1 0 25 0a12.5 12.5 0 1 0 -25 0M1426.6 1167.2a12.5 12.5 0 1 0 25 0a12.5 12.5 0 1 0 -25 0M1427.4 1167.2a12.5 12.5 0 1 0 25 0a12.5 12.5 0 1 0 -25 0M1428.2 1167.2a12.5 12.5 0 1 0 25 0a12.5 12.5 0 1 0 -25 0M1429 1167.2a12.5 12.5 0 1 0 25 0a12.5 12.5 0 1 0 -25 0M1429.8 1167.2a12.5 12.5 0 1 0 25 0a12.5 12.5 0 1 0 -25 0M1430.5 1167.2a12.5 12.5 0 1 0 25 0a12.5 12.5 0 1 0 -25 0M1431.3 1167.2a12.5 12.5 0 1 0 25 0a12.5 12.5 0 1 0 -25 0M1432.1 1167.2a12.5 12.5 0 1 0 25 0a12.5 12.5 0 1 0 -25 0M1432.9 1167.2a12.5 12.5 0 1 0 25 0a12.5 12.5 0 1 0 -25 0M1433.7 1167.2a12.5 12.5 0 1 0 25 0a12.5 12.5 0 1 0 -25 0M1434.5 1167.2a12.5 12.5 0 1 0 25 0a12.5 12.5 0 1 0 -25 0M1435.3 1167.2a12.5 12.5 0 1 0 25 0a12.5 12.5 0 1 0 -25 0M1436 1167.2a12.5 12.5 0 1 0 25 0a12.5 12.5 0 1 0 -25 0M1436.8 1167.2a12.5 12.5 0 1 0 25 0a12.5 12.5 0 1 0 -25 0M1437.6 1167.2a12.5 12.5 0 1 0 25 0a12.5 12.5 0 1 0 -25 0M1438.4 1167.2a12.5 12.5 0 1 0 25 0a12.5 12.5 0 1 0 -25 0M1439.2 1167.2a12.5 12.5 0 1 0 25 0a12.5 12.5 0 1 0 -25 0M1440 1167.2a12.5 12.5 0 1 0 25 0a12.5 12.5 0 1 0 -25 0M1440.7 1167.2a12.5 12.5 0 1 0 25 0a12.5 12.5 0 1 0 -25 0M1441.5 1167.2a12.5 12.5 0 1 0 25 0a12.5 12.5 0 1 0 -25 0M1442.3 1167.2a12.5 12.5 0 1 0 25 0a12.5 12.5 0 1 0 -25 0M1443.1 1167.2a12.5 12.5 0 1 0 25 0a12.5 12.5 0 1 0 -25 0M1443.9 1167.2a12.5 12.5 0 1 0 25 0a12.5 12.5 0 1 0 -25 0M1444.7 1167.2a12.5 12.5 0 1 0 25 0a12.5 12.5 0 1 0 -25 0M1445.4 1167.2a12.5 12.5 0 1 0 25 0a12.5 12.5 0 1 0 -25 0M1446.2 1167.2a12.5 12.5 0 1 0 25 0a12.5 12.5 0 1 0 -25 0M1447 1167.2a12.5 12.5 0 1 0 25 0a12.5 12.5 0 1 0 -25 0M1447.8 1167.2a12.5 12.5 0 1 0 25 0a12.5 12.5 0 1 0 -25 0M1448.6 1167.2a12.5 12.5 0 1 0 25 0a12.5 12.5 0 1 0 -25 0M1449.4 1167.2a12.5 12.5 0 1 0 25 0a12.5 12.5 0 1 0 -25 0M1450.1 1167.2a12.5 12.5 0 1 0 25 0a12.5 12.5 0 1 0 -25 0M1450.9 1167.2a12.5 12.5 0 1 0 25 0a12.5 12.5 0 1 0 -25 0M1451.7 1167.2a12.5 12.5 0 1 0 25 0a12.5 12.5 0 1 0 -25 0M1452.5 1167.2a12.5 12.5 0 1 0 25 0a12.5 12.5 0 1 0 -25 0M1453.3 1167.2a12.5 12.5 0 1 0 25 0a12.5 12.5 0 1 0 -25 0M1454.1 1167.2a12.5 12.5 0 1 0 25 0a12.5 12.5 0 1 0 -25 0M1454.9 1167.2a12.5 12.5 0 1 0 25 0a12.5 12.5 0 1 0 -25 0M1455.6 1167.2a12.5 12.5 0 1 0 25 0a12.5 12.5 0 1 0 -25 0M1456.4 1167.2a12.5 12.5 0 1 0 25 0a12.5 12.5 0 1 0 -25 0M1457.2 1167.2a12.5 12.5 0 1 0 25 0a12.5 12.5 0 1 0 -25 0M1458 1167.2a12.5 12.5 0 1 0 25 0a12.5 12.5 0 1 0 -25 0M1458.8 1167.2a12.5 12.5 0 1 0 25 0a12.5 12.5 0 1 0 -25 0M1459.6 1167.2a12.5 12.5 0 1 0 25 0a12.5 12.5 0 1 0 -25 0M1460.3 1167.2a12.5 12.5 0 1 0 25 0a12.5 12.5 0 1 0 -25 0M1461.1 1167.2a12.5 12.5 0 1 0 25 0a12.5 12.5 0 1 0 -25 0M1461.9 1167.2a12.5 12.5 0 1 0 25 0a12.5 12.5 0 1 0 -25 0M1462.7 1167.2a12.5 12.5 0 1 0 25 0a12.5 12.5 0 1 0 -25 0M1463.5 1166.9a12.5 12.5 0 1 0 25 0a12.5 12.5 0 1 0 -25 0M1464.3 1167.2a12.5 12.5 0 1 0 25 0a12.5 12.5 0 1 0 -25 0M1465 1166.5a12.5 12.5 0 1 0 25 0a12.5 12.5 0 1 0 -25 0M1465.8 1167.2a12.5 12.5 0 1 0 25 0a12.5 12.5 0 1 0 -25 0M1466.6 1166.1a12.5 12.5 0 1 0 25 0a12.5 12.5 0 1 0 -25 0M1467.4 1167.2a12.5 12.5 0 1 0 25 0a12.5 12.5 0 1 0 -25 0M1468.2 1165.7a12.5 12.5 0 1 0 25 0a12.5 12.5 0 1 0 -25 0M1469 1167.2a12.5 12.5 0 1 0 25 0a12.5 12.5 0 1 0 -25 0M1469.7 1165.3a12.5 12.5 0 1 0 25 0a12.5 12.5 0 1 0 -25 0M1470.5 1167.2a12.5 12.5 0 1 0 25 0a12.5 12.5 0 1 0 -25 0M1471.3 1164.9a12.5 12.5 0 1 0 25 0a12.5 12.5 0 1 0 -25 0M1472.1 1166.8a12.5 12.5 0 1 0 25 0a12.5 12.5 0 1 0 -25 0M1472.9 1164.6a12.5 12.5 0 1 0 25 0a12.5 12.5 0 1 0 -25 0M1473.7 1166.7a12.5 12.5 0 1 0 25 0a12.5 12.5 0 1 0 -25 0M1474.5 1164.6a12.5 12.5 0 1 0 25 0a12.5 12.5 0 1 0 -25 0M1475.2 1166.7a12.5 12.5 0 1 0 25 0a12.5 12.5 0 1 0 -25 0M1476 1164.6a12.5 12.5 0 1 0 25 0a12.5 12.5 0 1 0 -25 0M1476.8 1166.7a12.5 12.5 0 1 0 25 0a12.5 12.5 0 1 0 -25 0M1477.6 1164.6a12.5 12.5 0 1 0 25 0a12.5 12.5 0 1 0 -25 0M1478.4 1166.7a12.5 12.5 0 1 0 25 0a12.5 12.5 0 1 0 -25 0M1479.2 1164.6a12.5 12.5 0 1 0 25 0a12.5 12.5 0 1 0 -25 0M1479.9 1166.7a12.5 12.5 0 1 0 25 0a12.5 12.5 0 1 0 -25 0M1480.7 1164.6a12.5 12.5 0 1 0 25 0a12.5 12.5 0 1 0 -25 0M1481.5 1166.7a12.5 12.5 0 1 0 25 0a12.5 12.5 0 1 0 -25 0M1482.2 1164.6a12.5 12.5 0 1 0 25 0a12.5 12.5 0 1 0 -25 0M1484.5 1158a12.5 12.5 0 1 0 25 0a12.5 12.5 0 1 0 -25 0M1485.3 1164.6a12.5 12.5 0 1 0 25 0a12.5 12.5 0 1 0 -25 0M1486.1 1166.7a12.5 12.5 0 1 0 25 0a12.5 12.5 0 1 0 -25 0M1486.7 1164.6a12.5 12.5 0 1 0 25 0a12.5 12.5 0 1 0 -25 0M1519.5 980a12.5 12.5 0 1 0 25 0a12.5 12.5 0 1 0 -25 0M1520.3 1167.2a12.5 12.5 0 1 0 25 0a12.5 12.5 0 1 0 -25 0M1521.1 1167.2a12.5 12.5 0 1 0 25 0a12.5 12.5 0 1 0 -25 0M1521.9 1167.2a12.5 12.5 0 1 0 25 0a12.5 12.5 0 1 0 -25 0M1522.7 1167.2a12.5 12.5 0 1 0 25 0a12.5 12.5 0 1 0 -25 0M1523.4 1167.2a12.5 12.5 0 1 0 25 0a12.5 12.5 0 1 0 -25 0M1524.2 1167.2a12.5 12.5 0 1 0 25 0a12.5 12.5 0 1 0 -25 0M1525 1167.2a12.5 12.5 0 1 0 25 0a12.5 12.5 0 1 0 -25 0M1525.8 1167.2a12.5 12.5 0 1 0 25 0a12.5 12.5 0 1 0 -25 0M1526.6 1167.2a12.5 12.5 0 1 0 25 0a12.5 12.5 0 1 0 -25 0M1527.4 1167.2a12.5 12.5 0 1 0 25 0a12.5 12.5 0 1 0 -25 0M1528.1 1167.2a12.5 12.5 0 1 0 25 0a12.5 12.5 0 1 0 -25 0M1528.9 1167.2a12.5 12.5 0 1 0 25 0a12.5 12.5 0 1 0 -25 0M1529.7 1167.2a12.5 12.5 0 1 0 25 0a12.5 12.5 0 1 0 -25 0M1530.5 1167.2a12.5 12.5 0 1 0 25 0a12.5 12.5 0 1 0 -25 0M1531.3 1167.2a12.5 12.5 0 1 0 25 0a12.5 12.5 0 1 0 -25 0M1532.1 1167.2a12.5 12.5 0 1 0 25 0a12.5 12.5 0 1 0 -25 0M1532.8 1167.1a12.5 12.5 0 1 0 25 0a12.5 12.5 0 1 0 -25 0M1533.6 1167.2a12.5 12.5 0 1 0 25 0a12.5 12.5 0 1 0 -25 0M1534.4 1166.6a12.5 12.5 0 1 0 25 0a12.5 12.5 0 1 0 -25 0M1535.2 1167.2a12.5 12.5 0 1 0 25 0a12.5 12.5 0 1 0 -25 0M1536 1166.2a12.5 12.5 0 1 0 25 0a12.5 12.5 0 1 0 -25 0M1536.8 1167.2a12.5 12.5 0 1 0 25 0a12.5 12.5 0 1 0 -25 0M1537.5 1165.8a12.5 12.5 0 1 0 25 0a12.5 12.5 0 1 0 -25 0M1538.3 1167.2a12.5 12.5 0 1 0 25 0a12.5 12.5 0 1 0 -25 0M1539.1 1165.8a12.5 12.5 0 1 0 25 0a12.5 12.5 0 1 0 -25 0M1539.9 1167.2a12.5 12.5 0 1 0 25 0a12.5 12.5 0 1 0 -25 0M1540.7 1165.8a12.5 12.5 0 1 0 25 0a12.5 12.5 0 1 0 -25 0M1541.5 1167.2a12.5 12.5 0 1 0 25 0a12.5 12.5 0 1 0 -25 0M1542.3 1165.8a12.5 12.5 0 1 0 25 0a12.5 12.5 0 1 0 -25 0M1543 1167.2a12.5 12.5 0 1 0 25 0a12.5 12.5 0 1 0 -25 0M1543.8 1165.8a12.5 12.5 0 1 0 25 0a12.5 12.5 0 1 0 -25 0M1544.6 1167.2a12.5 12.5 0 1 0 25 0a12.5 12.5 0 1 0 -25 0M1545.4 1165.8a12.5 12.5 0 1 0 25 0a12.5 12.5 0 1 0 -25 0M1546.2 1167.2a12.5 12.5 0 1 0 25 0a12.5 12.5 0 1 0 -25 0M1547 1165.8a12.5 12.5 0 1 0 25 0a12.5 12.5 0 1 0 -25 0M1547.7 1167.2a12.5 12.5 0 1 0 25 0a12.5 12.5 0 1 0 -25 0M1548.5 1165.8a12.5 12.5 0 1 0 25 0a12.5 12.5 0 1 0 -25 0M1549.3 1167.2a12.5 12.5 0 1 0 25 0a12.5 12.5 0 1 0 -25 0M1550.1 1165.8a12.5 12.5 0 1 0 25 0a12.5 12.5 0 1 0 -25 0M1550.9 1167.2a12.5 12.5 0 1 0 25 0a12.5 12.5 0 1 0 -25 0M1551.7 1165.8a12.5 12.5 0 1 0 25 0a12.5 12.5 0 1 0 -25 0M1552.4 1167.2a12.5 12.5 0 1 0 25 0a12.5 12.5 0 1 0 -25 0M1553.2 1165.8a12.5 12.5 0 1 0 25 0a12.5 12.5 0 1 0 -25 0M1554 1167.2a12.5 12.5 0 1 0 25 0a12.5 12.5 0 1 0 -25 0M1554.8 1165.8a12.5 12.5 0 1 0 25 0a12.5 12.5 0 1 0 -25 0M1555.6 1167.2a12.5 12.5 0 1 0 25 0a12.5 12.5 0 1 0 -25 0M1556.4 1165.8a12.5 12.5 0 1 0 25 0a12.5 12.5 0 1 0 -25 0M1557.1 1167.2a12.5 12.5 0 1 0 25 0a12.5 12.5 0 1 0 -25 0M1557.9 1165.8a12.5 12.5 0 1 0 25 0a12.5 12.5 0 1 0 -25 0M1558.7 1167.2a12.5 12.5 0 1 0 25 0a12.5 12.5 0 1 0 -25 0M1559.5 1165.8a12.5 12.5 0 1 0 25 0a12.5 12.5 0 1 0 -25 0M1560.3 1167.2a12.5 12.5 0 1 0 25 0a12.5 12.5 0 1 0 -25 0M1561.1 1165.8a12.5 12.5 0 1 0 25 0a12.5 12.5 0 1 0 -25 0M1561.9 1167.2a12.5 12.5 0 1 0 25 0a12.5 12.5 0 1 0 -25 0M1562.6 1165.8a12.5 12.5 0 1 0 25 0a12.5 12.5 0 1 0 -25 0M1563.4 1167.2a12.5 12.5 0 1 0 25 0a12.5 12.5 0 1 0 -25 0M1564.2 1165.8a12.5 12.5 0 1 0 25 0a12.5 12.5 0 1 0 -25 0M1565 1167.2a12.5 12.5 0 1 0 25 0a12.5 12.5 0 1 0 -25 0M1565.8 1165.8a12.5 12.5 0 1 0 25 0a12.5 12.5 0 1 0 -25 0M1566.6 1167.2a12.5 12.5 0 1 0 25 0a12.5 12.5 0 1 0 -25 0M1567.3 1165.8a12.5 12.5 0 1 0 25 0a12.5 12.5 0 1 0 -25 0M1568.1 1167.2a12.5 12.5 0 1 0 25 0a12.5 12.5 0 1 0 -25 0M1568.9 1165.8a12.5 12.5 0 1 0 25 0a12.5 12.5 0 1 0 -25 0M1569.7 1167.2a12.5 12.5 0 1 0 25 0a12.5 12.5 0 1 0 -25 0M1570.5 1165.8a12.5 12.5 0 1 0 25 0a12.5 12.5 0 1 0 -25 0M1571.3 1167.2a12.5 12.5 0 1 0 25 0a12.5 12.5 0 1 0 -25 0M1572 1165.8a12.5 12.5 0 1 0 25 0a12.5 12.5 0 1 0 -25 0M1572.8 1167.2a12.5 12.5 0 1 0 25 0a12.5 12.5 0 1 0 -25 0M1573.6 1165.8a12.5 12.5 0 1 0 25 0a12.5 12.5 0 1 0 -25 0M1574.4 1167.2a12.5 12.5 0 1 0 25 0a12.5 12.5 0 1 0 -25 0M1575.2 1165.8a12.5 12.5 0 1 0 25 0a12.5 12.5 0 1 0 -25 0M1576 1167.2a12.5 12.5 0 1 0 25 0a12.5 12.5 0 1 0 -25 0M1576.7 1165.8a12.5 12.5 0 1 0 25 0a12.5 12.5 0 1 0 -25 0M1577.5 1167.2a12.5 12.5 0 1 0 25 0a12.5 12.5 0 1 0 -25 0M1578.3 1165.8a12.5 12.5 0 1 0 25 0a12.5 12.5 0 1 0 -25 0M1579.1 1167.2a12.5 12.5 0 1 0 25 0a12.5 12.5 0 1 0 -25 0M1579.9 1165.8a12.5 12.5 0 1 0 25 0a12.5 12.5 0 1 0 -25 0M1580.7 1167.2a12.5 12.5 0 1 0 25 0a12.5 12.5 0 1 0 -25 0M1581.5 1165.8a12.5 12.5 0 1 0 25 0a12.5 12.5 0 1 0 -25 0M1582.2 1167.2a12.5 12.5 0 1 0 25 0a12.5 12.5 0 1 0 -25 0M1583 1165.8a12.5 12.5 0 1 0 25 0a12.5 12.5 0 1 0 -25 0M1583.8 1167.2a12.5 12.5 0 1 0 25 0a12.5 12.5 0 1 0 -25 0M1584.6 1165.8a12.5 12.5 0 1 0 25 0a12.5 12.5 0 1 0 -25 0M1585.4 1167.2a12.5 12.5 0 1 0 25 0a12.5 12.5 0 1 0 -25 0M1586.2 1165.8a12.5 12.5 0 1 0 25 0a12.5 12.5 0 1 0 -25 0M1586.9 1167.2a12.5 12.5 0 1 0 25 0a12.5 12.5 0 1 0 -25 0M1587.7 1165.8a12.5 12.5 0 1 0 25 0a12.5 12.5 0 1 0 -25 0M1588.5 1167.2a12.5 12.5 0 1 0 25 0a12.5 12.5 0 1 0 -25 0M1589.3 1165.8a12.5 12.5 0 1 0 25 0a12.5 12.5 0 1 0 -25 0M1590.1 1167.2a12.5 12.5 0 1 0 25 0a12.5 12.5 0 1 0 -25 0M1590.9 1165.8a12.5 12.5 0 1 0 25 0a12.5 12.5 0 1 0 -25 0M1591.6 1167.2a12.5 12.5 0 1 0 25 0a12.5 12.5 0 1 0 -25 0M1592.4 1165.8a12.5 12.5 0 1 0 25 0a12.5 12.5 0 1 0 -25 0M1593.2 1167.2a12.5 12.5 0 1 0 25 0a12.5 12.5 0 1 0 -25 0M1594 1165.8a12.5 12.5 0 1 0 25 0a12.5 12.5 0 1 0 -25 0M1594.8 1167.2a12.5 12.5 0 1 0 25 0a12.5 12.5 0 1 0 -25 0M1595.6 1165.8a12.5 12.5 0 1 0 25 0a12.5 12.5 0 1 0 -25 0M1596.3 1167.2a12.5 12.5 0 1 0 25 0a12.5 12.5 0 1 0 -25 0M1597.1 1165.8a12.5 12.5 0 1 0 25 0a12.5 12.5 0 1 0 -25 0M1597.9 1167.2a12.5 12.5 0 1 0 25 0a12.5 12.5 0 1 0 -25 0M1598.7 1165.5a12.5 12.5 0 1 0 25 0a12.5 12.5 0 1 0 -25 0M1599.5 1167.2a12.5 12.5 0 1 0 25 0a12.5 12.5 0 1 0 -25 0M1600.3 1165a12.5 12.5 0 1 0 25 0a12.5 12.5 0 1 0 -25 0M1601.1 1166.8a12.5 12.5 0 1 0 25 0a12.5 12.5 0 1 0 -25 0M1601.8 1164.4a12.5 12.5 0 1 0 25 0a12.5 12.5 0 1 0 -25 0M1602.6 1166.1a12.5 12.5 0 1 0 25 0a12.5 12.5 0 1 0 -25 0M1603.4 1163.7a12.5 12.5 0 1 0 25 0a12.5 12.5 0 1 0 -25 0M1604.2 1165.3a12.5 12.5 0 1 0 25 0a12.5 12.5 0 1 0 -25 0M1605 1162.9a12.5 12.5 0 1 0 25 0a12.5 12.5 0 1 0 -25 0M1605.8 1164.7a12.5 12.5 0 1 0 25 0a12.5 12.5 0 1 0 -25 0M1606.5 1162.4a12.5 12.5 0 1 0 25 0a12.5 12.5 0 1 0 -25 0M1607.3 1164.2a12.5 12.5 0 1 0 25 0a12.5 12.5 0 1 0 -25 0M1608.1 1162a12.5 12.5 0 1 0 25 0a12.5 12.5 0 1 0 -25 0M1608.9 1164a12.5 12.5 0 1 0 25 0a12.5 12.5 0 1 0 -25 0M1609.7 1161.9a12.5 12.5 0 1 0 25 0a12.5 12.5 0 1 0 -25 0M1610.5 1164a12.5 12.5 0 1 0 25 0a12.5 12.5 0 1 0 -25 0M1611.2 1161.9a12.5 12.5 0 1 0 25 0a12.5 12.5 0 1 0 -25 0M1612 1164a12.5 12.5 0 1 0 25 0a12.5 12.5 0 1 0 -25 0M1612.8 1162a12.5 12.5 0 1 0 25 0a12.5 12.5 0 1 0 -25 0M1613.6 1164.2a12.5 12.5 0 1 0 25 0a12.5 12.5 0 1 0 -25 0M1614.4 1162.3a12.5 12.5 0 1 0 25 0a12.5 12.5 0 1 0 -25 0M1615.2 1164.7a12.5 12.5 0 1 0 25 0a12.5 12.5 0 1 0 -25 0M1615.9 1162.9a12.5 12.5 0 1 0 25 0a12.5 12.5 0 1 0 -25 0M1616.7 1165.3a12.5 12.5 0 1 0 25 0a12.5 12.5 0 1 0 -25 0M1617.5 1163.6a12.5 12.5 0 1 0 25 0a12.5 12.5 0 1 0 -25 0M1618.3 1166a12.5 12.5 0 1 0 25 0a12.5 12.5 0 1 0 -25 0M1619.1 1164.3a12.5 12.5 0 1 0 25 0a12.5 12.5 0 1 0 -25 0M1619.9 1166.7a12.5 12.5 0 1 0 25 0a12.5 12.5 0 1 0 -25 0M1620.7 1165a12.5 12.5 0 1 0 25 0a12.5 12.5 0 1 0 -25 0M1621.4 1167.2a12.5 12.5 0 1 0 25 0a12.5 12.5 0 1 0 -25 0M1622.2 1165.5a12.5 12.5 0 1 0 25 0a12.5 12.5 0 1 0 -25 0M1623 1167.2a12.5 12.5 0 1 0 25 0a12.5 12.5 0 1 0 -25 0M1623.8 1165.4a12.5 12.5 0 1 0 25 0a12.5 12.5 0 1 0 -25 0M1624.6 1167.2a12.5 12.5 0 1 0 25 0a12.5 12.5 0 1 0 -25 0M1625.4 1165a12.5 12.5 0 1 0 25 0a12.5 12.5 0 1 0 -25 0M1626.1 1167.1a12.5 12.5 0 1 0 25 0a12.5 12.5 0 1 0 -25 0M1626.9 1165a12.5 12.5 0 1 0 25 0a12.5 12.5 0 1 0 -25 0M1627.7 1167.1a12.5 12.5 0 1 0 25 0a12.5 12.5 0 1 0 -25 0M1628.5 1165a12.5 12.5 0 1 0 25 0a12.5 12.5 0 1 0 -25 0M1629.3 1167.1a12.5 12.5 0 1 0 25 0a12.5 12.5 0 1 0 -25 0M1630.1 1165a12.5 12.5 0 1 0 25 0a12.5 12.5 0 1 0 -25 0M1630.8 1167.1a12.5 12.5 0 1 0 25 0a12.5 12.5 0 1 0 -25 0M1631.6 1165a12.5 12.5 0 1 0 25 0a12.5 12.5 0 1 0 -25 0M1632.4 1167.1a12.5 12.5 0 1 0 25 0a12.5 12.5 0 1 0 -25 0M1633.2 1165a12.5 12.5 0 1 0 25 0a12.5 12.5 0 1 0 -25 0M1634 1167.1a12.5 12.5 0 1 0 25 0a12.5 12.5 0 1 0 -25 0M1634.8 1165a12.5 12.5 0 1 0 25 0a12.5 12.5 0 1 0 -25 0M1635.5 1167.1a12.5 12.5 0 1 0 25 0a12.5 12.5 0 1 0 -25 0M1636.3 1165a12.5 12.5 0 1 0 25 0a12.5 12.5 0 1 0 -25 0M1637.1 1167.1a12.5 12.5 0 1 0 25 0a12.5 12.5 0 1 0 -25 0M1637.9 1165a12.5 12.5 0 1 0 25 0a12.5 12.5 0 1 0 -25 0M1638.7 1167.1a12.5 12.5 0 1 0 25 0a12.5 12.5 0 1 0 -25 0M1639.5 1165a12.5 12.5 0 1 0 25 0a12.5 12.5 0 1 0 -25 0M1640.3 1167.1a12.5 12.5 0 1 0 25 0a12.5 12.5 0 1 0 -25 0M1641 1165a12.5 12.5 0 1 0 25 0a12.5 12.5 0 1 0 -25 0M1641.8 1167.1a12.5 12.5 0 1 0 25 0a12.5 12.5 0 1 0 -25 0M1642.6 1165a12.5 12.5 0 1 0 25 0a12.5 12.5 0 1 0 -25 0M1643.4 1167.1a12.5 12.5 0 1 0 25 0a12.5 12.5 0 1 0 -25 0M1644.2 1165a12.5 12.5 0 1 0 25 0a12.5 12.5 0 1 0 -25 0M1645 1167.1a12.5 12.5 0 1 0 25 0a12.5 12.5 0 1 0 -25 0M1645.7 1165a12.5 12.5 0 1 0 25 0a12.5 12.5 0 1 0 -25 0M1646.5 1167.1a12.5 12.5 0 1 0 25 0a12.5 12.5 0 1 0 -25 0M1647.3 1165a12.5 12.5 0 1 0 25 0a12.5 12.5 0 1 0 -25 0M1648.1 1167.1a12.5 12.5 0 1 0 25 0a12.5 12.5 0 1 0 -25 0M1648.9 1165a12.5 12.5 0 1 0 25 0a12.5 12.5 0 1 0 -25 0M1649.7 1167.1a12.5 12.5 0 1 0 25 0a12.5 12.5 0 1 0 -25 0M1650.4 1165a12.5 12.5 0 1 0 25 0a12.5 12.5 0 1 0 -25 0M1651.2 1167.1a12.5 12.5 0 1 0 25 0a12.5 12.5 0 1 0 -25 0M1652 1165a12.5 12.5 0 1 0 25 0a12.5 12.5 0 1 0 -25 0M1652.8 1167.2a12.5 12.5 0 1 0 25 0a12.5 12.5 0 1 0 -25 0M1653.6 1165.4a12.5 12.5 0 1 0 25 0a12.5 12.5 0 1 0 -25 0M1654.4 1167.2a12.5 12.5 0 1 0 25 0a12.5 12.5 0 1 0 -25 0M1655.1 1166a12.5 12.5 0 1 0 25 0a12.5 12.5 0 1 0 -25 0M1655.9 1167.2a12.5 12.5 0 1 0 25 0a12.5 12.5 0 1 0 -25 0M1656.7 1166.5a12.5 12.5 0 1 0 25 0a12.5 12.5 0 1 0 -25 0M1657.5 1167.2a12.5 12.5 0 1 0 25 0a12.5 12.5 0 1 0 -25 0M1658.3 1166.5a12.5 12.5 0 1 0 25 0a12.5 12.5 0 1 0 -25 0M1659.1 1167.2a12.5 12.5 0 1 0 25 0a12.5 12.5 0 1 0 -25 0M1659.9 1166.5a12.5 12.5 0 1 0 25 0a12.5 12.5 0 1 0 -25 0M1660.6 1167.2a12.5 12.5 0 1 0 25 0a12.5 12.5 0 1 0 -25 0M1661.4 1166.5a12.5 12.5 0 1 0 25 0a12.5 12.5 0 1 0 -25 0M1662.2 1167.2a12.5 12.5 0 1 0 25 0a12.5 12.5 0 1 0 -25 0M1663 1166.5a12.5 12.5 0 1 0 25 0a12.5 12.5 0 1 0 -25 0M1663.8 1167.2a12.5 12.5 0 1 0 25 0a12.5 12.5 0 1 0 -25 0M1664.6 1166.5a12.5 12.5 0 1 0 25 0a12.5 12.5 0 1 0 -25 0M1665.3 1167.2a12.5 12.5 0 1 0 25 0a12.5 12.5 0 1 0 -25 0M1666.1 1166.5a12.5 12.5 0 1 0 25 0a12.5 12.5 0 1 0 -25 0M1666.9 1167.2a12.5 12.5 0 1 0 25 0a12.5 12.5 0 1 0 -25 0M1667.7 1166.5a12.5 12.5 0 1 0 25 0a12.5 12.5 0 1 0 -25 0M1668.5 1167.2a12.5 12.5 0 1 0 25 0a12.5 12.5 0 1 0 -25 0M1669.3 1166.5a12.5 12.5 0 1 0 25 0a12.5 12.5 0 1 0 -25 0M1670 1167.2a12.5 12.5 0 1 0 25 0a12.5 12.5 0 1 0 -25 0M1670.8 1166.5a12.5 12.5 0 1 0 25 0a12.5 12.5 0 1 0 -25 0M1671.6 1167.2a12.5 12.5 0 1 0 25 0a12.5 12.5 0 1 0 -25 0M1672.4 1166.5a12.5 12.5 0 1 0 25 0a12.5 12.5 0 1 0 -25 0M1673.2 1167.2a12.5 12.5 0 1 0 25 0a12.5 12.5 0 1 0 -25 0M1674 1166.5a12.5 12.5 0 1 0 25 0a12.5 12.5 0 1 0 -25 0M1674.7 1167.2a12.5 12.5 0 1 0 25 0a12.5 12.5 0 1 0 -25 0M1675.5 1166.5a12.5 12.5 0 1 0 25 0a12.5 12.5 0 1 0 -25 0M1676.3 1167.2a12.5 12.5 0 1 0 25 0a12.5 12.5 0 1 0 -25 0M1677.1 1166.5a12.5 12.5 0 1 0 25 0a12.5 12.5 0 1 0 -25 0M1677.9 1167.2a12.5 12.5 0 1 0 25 0a12.5 12.5 0 1 0 -25 0M1678.7 1166.5a12.5 12.5 0 1 0 25 0a12.5 12.5 0 1 0 -25 0M1679.5 1167.2a12.5 12.5 0 1 0 25 0a12.5 12.5 0 1 0 -25 0M1680.2 1166.5a12.5 12.5 0 1 0 25 0a12.5 12.5 0 1 0 -25 0M1681 1167.2a12.5 12.5 0 1 0 25 0a12.5 12.5 0 1 0 -25 0M1681.8 1166.5a12.5 12.5 0 1 0 25 0a12.5 12.5 0 1 0 -25 0M1682.6 1167.2a12.5 12.5 0 1 0 25 0a12.5 12.5 0 1 0 -25 0M1683.4 1166.5a12.5 12.5 0 1 0 25 0a12.5 12.5 0 1 0 -25 0M1684.2 1167.2a12.5 12.5 0 1 0 25 0a12.5 12.5 0 1 0 -25 0M1684.9 1166.5a12.5 12.5 0 1 0 25 0a12.5 12.5 0 1 0 -25 0M1685.7 1167.2a12.5 12.5 0 1 0 25 0a12.5 12.5 0 1 0 -25 0M1686.5 1166.5a12.5 12.5 0 1 0 25 0a12.5 12.5 0 1 0 -25 0M1687.3 1167.2a12.5 12.5 0 1 0 25 0a12.5 12.5 0 1 0 -25 0M1688.1 1166.5a12.5 12.5 0 1 0 25 0a12.5 12.5 0 1 0 -25 0M1688.9 1167.2a12.5 12.5 0 1 0 25 0a12.5 12.5 0 1 0 -25 0M1689.6 1166.5a12.5 12.5 0 1 0 25 0a12.5 12.5 0 1 0 -25 0M1690.4 1167.2a12.5 12.5 0 1 0 25 0a12.5 12.5 0 1 0 -25 0M1691.2 1166.5a12.5 12.5 0 1 0 25 0a12.5 12.5 0 1 0 -25 0M1692 1167.2a12.5 12.5 0 1 0 25 0a12.5 12.5 0 1 0 -25 0M1692.8 1166.5a12.5 12.5 0 1 0 25 0a12.5 12.5 0 1 0 -25 0M1693.6 1167.2a12.5 12.5 0 1 0 25 0a12.5 12.5 0 1 0 -25 0M1694.3 1166.5a12.5 12.5 0 1 0 25 0a12.5 12.5 0 1 0 -25 0M1695.1 1167.2a12.5 12.5 0 1 0 25 0a12.5 12.5 0 1 0 -25 0M1695.9 1166.5a12.5 12.5 0 1 0 25 0a12.5 12.5 0 1 0 -25 0M1696.7 1167.2a12.5 12.5 0 1 0 25 0a12.5 12.5 0 1 0 -25 0M1697.5 1166.5a12.5 12.5 0 1 0 25 0a12.5 12.5 0 1 0 -25 0M1698.3 1167.2a12.5 12.5 0 1 0 25 0a12.5 12.5 0 1 0 -25 0M1699.1 1166.5a12.5 12.5 0 1 0 25 0a12.5 12.5 0 1 0 -25 0M1699.8 1167.2a12.5 12.5 0 1 0 25 0a12.5 12.5 0 1 0 -25 0M1700.6 1166.5a12.5 12.5 0 1 0 25 0a12.5 12.5 0 1 0 -25 0M1701.4 1167.2a12.5 12.5 0 1 0 25 0a12.5 12.5 0 1 0 -25 0M1702.2 1166.5a12.5 12.5 0 1 0 25 0a12.5 12.5 0 1 0 -25 0M1703 1167.2a12.5 12.5 0 1 0 25 0a12.5 12.5 0 1 0 -25 0M1703.8 1166.5a12.5 12.5 0 1 0 25 0a12.5 12.5 0 1 0 -25 0M1704.5 1167.2a12.5 12.5 0 1 0 25 0a12.5 12.5 0 1 0 -25 0M1705.3 1166.5a12.5 12.5 0 1 0 25 0a12.5 12.5 0 1 0 -25 0M1706.1 1167.2a12.5 12.5 0 1 0 25 0a12.5 12.5 0 1 0 -25 0M1706.9 1166.5a12.5 12.5 0 1 0 25 0a12.5 12.5 0 1 0 -25 0M1707.7 1167.2a12.5 12.5 0 1 0 25 0a12.5 12.5 0 1 0 -25 0M1708.5 1166.5a12.5 12.5 0 1 0 25 0a12.5 12.5 0 1 0 -25 0M1709.2 1167.2a12.5 12.5 0 1 0 25 0a12.5 12.5 0 1 0 -25 0M1710 1166.5a12.5 12.5 0 1 0 25 0a12.5 12.5 0 1 0 -25 0M1710.5 1166.5a12.5 12.5 0 1 0 25 0a12.5 12.5 0 1 0 -25 0" stroke="#00bfbf" stroke-width="5" fill="none"/></g>
<g stroke="#262626" stroke-width="3" fill="none" shape-rendering="crispEdges"><path d="M153 1171.5H1724M154.5 1171.5v-17.5M311.3 1171.5v-17.5M468.1 1171.5v-17.5M624.9 1171.5v-17.5M781.7 1171.5v-17.5M938.5 1171.5v-17.5M1095.3 1171.5v-17.5M1252.1 1171.5v-17.5M1408.9 1171.5v-17.5M1565.7 1171.5v-17.5M1722.5 1171.5v-17.5M154.5 1171.5h17.5M154.5 714.3h17.5M154.5 485.6h17.5M154.5 257h17.5M154.5 28.4h17.5"/><path d="M154.5 943h17.5" stroke-width="4"/></g>
<g font-family="'Liberation Sans', Arial, Helvetica, sans-serif" font-size="41.67" fill="#262626"><text transform="translate(153.7 1232.4) scale(0.985 1.06)" text-anchor="middle">0</text><text transform="translate(310.5 1232.4) scale(0.985 1.06)" text-anchor="middle">20</text><text transform="translate(467.3 1232.4) scale(0.985 1.06)" text-anchor="middle">40</text><text transform="translate(624.1 1232.4) scale(0.985 1.06)" text-anchor="middle">60</text><text transform="translate(780.9 1232.4) scale(0.985 1.06)" text-anchor="middle">80</text><text transform="translate(937.7 1232.4) scale(0.985 1.06)" text-anchor="middle">100</text><text transform="translate(1094.5 1232.4) scale(0.985 1.06)" text-anchor="middle">120</text><text transform="translate(1251.3 1232.4) scale(0.985 1.06)" text-anchor="middle">140</text><text transform="translate(1408.1 1232.4) scale(0.985 1.06)" text-anchor="middle">160</text><text transform="translate(1564.9 1232.4) scale(0.985 1.06)" text-anchor="middle">180</text><text transform="translate(1721.7 1232.4) scale(0.985 1.06)" text-anchor="middle">200</text><text transform="translate(137.6 1189) scale(0.985 1.06)" text-anchor="end">0</text><text transform="translate(137.6 960.4) scale(0.985 1.06)" text-anchor="end">5</text><text transform="translate(137.6 731.8) scale(0.985 1.06)" text-anchor="end">10</text><text transform="translate(137.6 503.1) scale(0.985 1.06)" text-anchor="end">15</text><text transform="translate(137.6 274.5) scale(0.985 1.06)" text-anchor="end">20</text><text transform="translate(137.6 45.9) scale(0.985 1.06)" text-anchor="end">25</text></g>
<g font-family="'Liberation Serif', 'Times New Roman', serif" font-size="62" fill="#262626"><text transform="translate(938 1301.6) scale(1.024 1)" text-anchor="middle">Time(s)</text><text transform="translate(66 601.9) rotate(-90) scale(1.005 1)" text-anchor="middle">Release intervals</text></g>
<g id="legend"><rect x="1427" y="61.5" width="262.5" height="115.0" fill="#fff" stroke="#262626" stroke-width="3" shape-rendering="crispEdges"/><path d="M1439 92.5H1528" stroke="#ff00ff" stroke-width="5" shape-rendering="crispEdges"/><circle cx="1528" cy="93.1" r="12.5" fill="none" stroke="#ff00ff" stroke-width="5"/><text transform="translate(1576.5 108.0) scale(1 1.09)" font-family="'Liberation Sans', Arial, Helvetica, sans-serif" font-size="37" fill="#000">RDET</text><path d="M1439 144.5H1528" stroke="#00bfbf" stroke-width="5" shape-rendering="crispEdges"/><circle cx="1528" cy="145.1" r="12.5" fill="none" stroke="#00bfbf" stroke-width="5"/><text transform="translate(1576.5 160.0) scale(1 1.09)" font-family="'Liberation Sans', Arial, Helvetica, sans-serif" font-size="37" fill="#000">RET</text></g>
</svg>
</body>
</html>
